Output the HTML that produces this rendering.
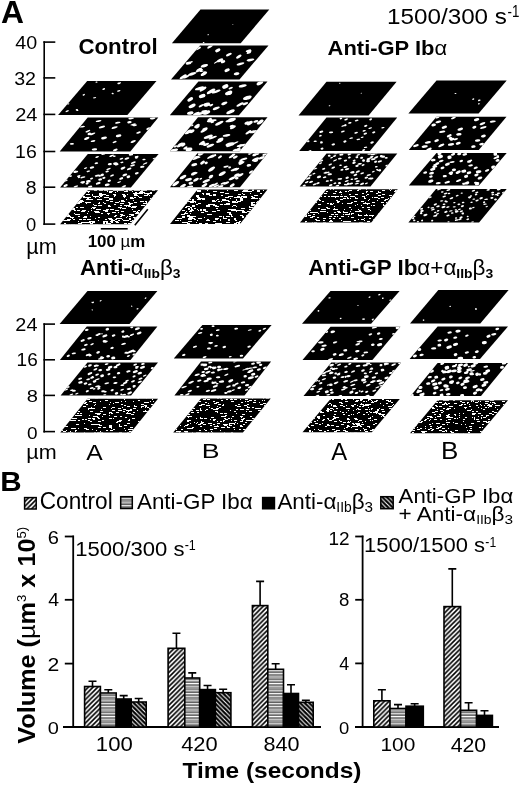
<!DOCTYPE html>
<html><head><meta charset="utf-8"><style>
html,body{margin:0;padding:0;background:#fff;}
svg{display:block;font-family:"Liberation Sans", sans-serif;filter:grayscale(1);}
</style></head><body>
<svg width="520" height="785" viewBox="0 0 520 785">
<defs><filter id="sb" x="-5%" y="-5%" width="110%" height="110%"><feGaussianBlur stdDeviation="0.35"/></filter><clipPath id="c1"><polygon points="60.1,224.3 87.8,190.3 158,190.3 130.3,224.3"/></clipPath><clipPath id="c2"><polygon points="60.1,187.6 87.8,154 158.6,154 130.9,187.6"/></clipPath><clipPath id="c3"><polygon points="59.7,151.4 87.7,117.6 158.3,117.6 130.3,151.4"/></clipPath><clipPath id="c4"><polygon points="58.1,114.9 87.2,81.1 156.5,81.1 127.4,114.9"/></clipPath><clipPath id="c5"><polygon points="170,224.1 197.5,189.6 267.5,189.6 240,224.1"/></clipPath><clipPath id="c6"><polygon points="170,187.3 197.5,153.2 267.5,153.2 240,187.3"/></clipPath><clipPath id="c7"><polygon points="170,151.3 198,117.2 267.5,117.2 239.5,151.3"/></clipPath><clipPath id="c8"><polygon points="169.8,115.3 198.4,81.6 267.5,81.6 238.9,115.3"/></clipPath><clipPath id="c9"><polygon points="171,79.4 200,45.5 268.5,45.5 239.5,79.4"/></clipPath><clipPath id="c10"><polygon points="171.9,43.3 200.5,9.5 269.3,9.5 240.7,43.3"/></clipPath><clipPath id="c11"><polygon points="300,222.6 326.5,189.2 397.8,189.2 371.3,222.6"/></clipPath><clipPath id="c12"><polygon points="299.7,186.4 326.5,153.6 397.3,153.6 370.5,186.4"/></clipPath><clipPath id="c13"><polygon points="299.2,150.9 326.5,117.6 397.2,117.6 369.9,150.9"/></clipPath><clipPath id="c14"><polygon points="298.5,115.4 326.5,81.7 396.6,81.7 368.6,115.4"/></clipPath><clipPath id="c15"><polygon points="408.4,222.5 436,189 506.7,189 479.1,222.5"/></clipPath><clipPath id="c16"><polygon points="408.8,185.6 436.5,153.1 506.7,153.1 479,185.6"/></clipPath><clipPath id="c17"><polygon points="408.8,150 436.5,116.8 506.5,116.8 478.8,150"/></clipPath><clipPath id="c18"><polygon points="408.4,113.6 436.5,80.5 506.7,80.5 478.6,113.6"/></clipPath><clipPath id="c19"><polygon points="60.3,432.4 87.5,398.7 158,398.7 130.8,432.4"/></clipPath><clipPath id="c20"><polygon points="60.6,395.5 87.5,362.6 158,362.6 131.1,395.5"/></clipPath><clipPath id="c21"><polygon points="59.9,359.9 86.8,326.6 157.4,326.6 130.5,359.9"/></clipPath><clipPath id="c22"><polygon points="59.6,324 87.5,290.9 157.4,290.9 129.5,324"/></clipPath><clipPath id="c23"><polygon points="173.2,432.6 201,398.4 270.7,398.4 242.9,432.6"/></clipPath><clipPath id="c24"><polygon points="174.4,395.5 201,361.5 271.1,361.5 244.5,395.5"/></clipPath><clipPath id="c25"><polygon points="173.8,358.4 202.4,324.9 271.6,324.9 243,358.4"/></clipPath><clipPath id="c26"><polygon points="302.5,432.3 330.5,398.9 399.8,398.9 371.8,432.3"/></clipPath><clipPath id="c27"><polygon points="303.5,396 331.3,362.4 401.2,362.4 373.4,396"/></clipPath><clipPath id="c28"><polygon points="302.5,360 330.5,326.8 400.4,326.8 372.4,360"/></clipPath><clipPath id="c29"><polygon points="302,323.7 330.5,290.9 399.6,290.9 371.1,323.7"/></clipPath><clipPath id="c30"><polygon points="410,433.2 437.6,400.2 508,400.2 480.4,433.2"/></clipPath><clipPath id="c31"><polygon points="410.6,396 437.6,362.9 508,362.9 481,396"/></clipPath><clipPath id="c32"><polygon points="409.6,359 437.6,326.4 508,326.4 480,359"/></clipPath><clipPath id="c33"><polygon points="410,323.4 438.3,289.9 508.6,289.9 480.3,323.4"/></clipPath><pattern id="pf" patternUnits="userSpaceOnUse" width="4.7" height="4.7"><rect width="4.7" height="4.7" fill="#fff"/><path d="M-1 1L1 -1M0 4.7L4.7 0M3.7 5.7L5.7 3.7" stroke="#000" stroke-width="1.6"/></pattern><pattern id="ph" patternUnits="userSpaceOnUse" width="4" height="3.3"><rect width="4" height="3.3" fill="#222"/><rect y="0" width="4" height="1.2" fill="#fff"/><rect y="1.75" width="4" height="1.1" fill="#aaa"/></pattern><pattern id="pb" patternUnits="userSpaceOnUse" width="4.5" height="4.5"><rect width="4.5" height="4.5" fill="#000"/><path d="M-1 -1L5.5 5.5M3.5 -1L5.5 1M-1 3.5L1 5.5" stroke="#fff" stroke-width="1.1"/></pattern></defs>
<rect width="520" height="785" fill="#fff"/>
<path d="M44.2 41.300000000000004V224.9" stroke="#000" stroke-width="1.6" fill="none"/>
<path d="M43.4 42.1L55.3 42.1" stroke="#000" stroke-width="1.6" fill="none"/>
<path d="M43.4 77.9L55.3 77.9" stroke="#000" stroke-width="1.6" fill="none"/>
<path d="M43.4 114.4L55.3 114.4" stroke="#000" stroke-width="1.6" fill="none"/>
<path d="M43.4 151.5L55.3 151.5" stroke="#000" stroke-width="1.6" fill="none"/>
<path d="M43.4 187.2L55.3 187.2" stroke="#000" stroke-width="1.6" fill="none"/>
<path d="M43.4 224.1L55.3 224.1" stroke="#000" stroke-width="1.6" fill="none"/>
<path d="M44.2 323.3V432.40000000000003" stroke="#000" stroke-width="1.6" fill="none"/>
<path d="M43.4 324.1L55 324.1" stroke="#000" stroke-width="1.6" fill="none"/>
<path d="M43.4 359.8L55 359.8" stroke="#000" stroke-width="1.6" fill="none"/>
<path d="M43.4 395.4L55 395.4" stroke="#000" stroke-width="1.6" fill="none"/>
<path d="M43.4 431.6L55 431.6" stroke="#000" stroke-width="1.6" fill="none"/>
<path d="M134.8 225.3L147.8 209.3" stroke="#000" stroke-width="1.6" fill="none"/>
<path d="M100.8 228.8L127.7 228.8" stroke="#000" stroke-width="1.6" fill="none"/>
<polygon points="60.1,224.3 87.8,190.3 158,190.3 130.3,224.3" fill="#000"/>
<g clip-path="url(#c1)"><path filter="url(#sb)" fill="#fff" shape-rendering="crispEdges" d="M126 206h1v1h-1zM120 205h2v1h-2zM101 213h2v1h-2zM65 224h2v1h-2zM104 203h2v1h-2zM133 200h1v1h-1zM72 218h1v1h-1zM131 203h2v1h-2zM93 208h2v1h-2zM145 201h2v1h-2zM71 209h4v1h-4zM97 199h3v1h-3zM129 190h3v1h-3zM96 209h3v1h-3zM82 210h4v1h-4zM101 193h1v1h-1zM66 215h4v1h-4zM108 214h1v1h-1zM135 192h2v1h-2zM141 205h4v1h-4zM85 222h3v1h-3zM123 196h3v1h-3zM115 192h1v1h-1zM105 211h3v1h-3zM88 211h1v1h-1zM91 210h1v1h-1zM143 209h2v1h-2zM153 195h4v1h-4zM127 205h3v1h-3zM109 219h2v1h-2zM142 192h3v1h-3zM150 198h2v1h-2zM93 196h3v1h-3zM144 193h3v1h-3zM129 219h2v1h-2zM110 221h3v1h-3zM92 207h4v1h-4zM107 197h2v1h-2zM81 211h4v1h-4zM116 222h3v1h-3zM118 212h1v1h-1zM107 213h3v1h-3zM128 206h3v1h-3zM119 201h1v1h-1zM113 225h3v1h-3zM83 219h3v1h-3zM118 207h4v1h-4zM140 201h4v1h-4zM106 211h2v1h-2zM135 213h4v1h-4zM134 195h4v1h-4zM107 223h4v1h-4zM113 225h3v1h-3zM87 202h4v1h-4zM129 204h2v1h-2zM132 220h2v1h-2zM87 198h2v1h-2zM115 202h4v1h-4zM95 212h1v1h-1zM125 205h3v1h-3zM97 212h3v1h-3zM130 197h3v1h-3zM101 225h1v1h-1zM95 224h3v1h-3zM109 198h3v1h-3zM89 199h4v1h-4zM146 202h1v1h-1zM113 190h3v1h-3zM115 210h4v1h-4zM135 217h4v1h-4zM132 220h4v1h-4zM121 200h3v1h-3zM78 221h1v1h-1zM106 209h3v1h-3zM62 220h4v1h-4zM73 208h2v1h-2zM120 190h3v1h-3zM118 220h2v1h-2zM133 207h3v1h-3zM104 221h4v1h-4zM140 191h3v1h-3zM109 224h3v1h-3zM87 219h2v1h-2zM104 190h4v1h-4zM71 224h4v1h-4zM123 220h4v1h-4zM115 215h2v1h-2zM122 219h1v1h-1zM136 190h4v1h-4zM127 220h2v1h-2zM111 220h4v1h-4zM69 224h1v1h-1zM93 204h1v1h-1zM109 191h4v1h-4zM116 215h1v1h-1zM95 197h1v1h-1zM122 208h4v1h-4zM121 201h4v1h-4zM127 194h1v1h-1zM120 214h3v1h-3zM134 197h2v1h-2zM70 217h4v1h-4zM136 212h3v1h-3zM130 198h2v1h-2zM97 225h2v1h-2zM122 194h3v1h-3zM130 223h2v1h-2zM115 219h2v1h-2zM132 191h1v1h-1zM144 195h4v1h-4zM130 214h4v1h-4zM138 196h1v1h-1zM145 193h4v1h-4zM85 197h4v1h-4zM130 198h4v1h-4zM94 205h3v1h-3zM75 214h3v1h-3zM133 217h3v1h-3zM129 203h4v1h-4zM83 196h2v1h-2zM78 202h4v1h-4zM116 190h3v1h-3zM103 210h1v1h-1zM126 199h1v1h-1zM129 214h4v1h-4zM75 225h3v1h-3zM120 208h1v1h-1zM109 192h3v1h-3zM133 193h4v1h-4zM86 199h3v1h-3zM111 219h2v1h-2zM128 202h2v1h-2zM131 215h3v1h-3zM110 201h3v1h-3zM73 219h2v1h-2zM143 203h4v1h-4zM119 190h4v1h-4zM80 200h3v1h-3zM99 194h4v1h-4zM65 220h2v1h-2zM89 221h1v1h-1zM133 206h4v1h-4zM147 193h2v1h-2zM106 222h2v1h-2zM149 195h1v1h-1zM129 224h2v1h-2zM120 203h4v1h-4zM91 221h4v1h-4zM152 190h3v1h-3zM114 204h2v1h-2zM67 220h3v1h-3zM78 210h1v1h-1zM124 205h4v1h-4zM76 207h2v1h-2zM134 202h3v1h-3zM113 194h3v1h-3zM57 225h3v1h-3zM117 191h1v1h-1zM83 217h4v1h-4zM74 210h2v1h-2zM108 206h3v1h-3zM88 192h1v1h-1zM83 197h2v1h-2zM126 217h1v1h-1zM90 223h3v1h-3zM94 211h2v1h-2zM100 196h2v1h-2zM118 218h4v1h-4zM104 197h4v1h-4zM105 219h2v1h-2zM139 193h2v1h-2zM103 221h1v1h-1zM114 216h2v1h-2zM150 192h2v1h-2zM96 212h2v1h-2zM131 207h3v1h-3zM100 205h2v1h-2zM89 221h2v1h-2zM109 205h1v1h-1zM106 200h3v1h-3zM104 210h4v1h-4zM103 202h1v1h-1zM103 222h2v1h-2zM107 191h1v1h-1zM87 222h4v1h-4zM134 218h1v1h-1zM90 216h1v1h-1zM91 208h1v1h-1zM112 212h4v1h-4zM105 190h2v1h-2zM139 192h3v1h-3zM72 225h1v1h-1zM98 205h4v1h-4zM134 190h4v1h-4zM124 223h3v1h-3zM77 210h3v1h-3zM96 196h3v1h-3zM147 194h2v1h-2zM120 216h2v1h-2zM111 224h4v1h-4zM98 217h2v1h-2zM84 216h3v1h-3zM66 216h1v1h-1zM101 225h2v1h-2zM99 202h1v1h-1zM86 194h4v1h-4zM128 223h3v1h-3zM109 219h2v1h-2zM80 196h2v1h-2zM106 195h3v1h-3zM116 218h2v1h-2zM74 213h1v1h-1zM98 203h2v1h-2zM99 195h4v1h-4zM94 190h3v1h-3zM121 190h3v1h-3zM115 221h3v1h-3zM139 197h3v1h-3zM96 211h3v1h-3zM123 195h3v1h-3zM137 211h1v1h-1zM99 193h2v1h-2zM92 194h1v1h-1zM135 217h4v1h-4zM114 195h2v1h-2zM145 190h2v1h-2zM86 191h4v1h-4zM64 223h2v1h-2zM63 218h1v1h-1zM98 220h1v1h-1zM121 215h4v1h-4zM76 203h4v1h-4zM67 214h2v1h-2zM100 199h2v1h-2zM155 194h2v1h-2zM78 216h2v1h-2zM87 213h1v1h-1zM67 219h4v1h-4zM129 216h2v1h-2zM130 221h4v1h-4zM79 219h3v1h-3zM99 190h4v1h-4zM81 207h3v1h-3zM86 203h1v1h-1zM87 197h4v1h-4zM97 209h4v1h-4zM143 205h2v1h-2zM124 191h4v1h-4zM108 205h1v1h-1zM141 190h4v1h-4zM111 222h2v1h-2zM141 193h2v1h-2zM130 214h1v1h-1zM95 218h1v1h-1zM78 223h4v1h-4zM132 209h1v1h-1zM136 193h4v1h-4zM81 222h3v1h-3zM112 198h1v1h-1zM126 190h2v1h-2zM88 192h1v1h-1zM133 211h3v1h-3zM132 206h4v1h-4zM99 197h1v1h-1zM78 214h2v1h-2zM129 218h2v1h-2zM149 193h3v1h-3zM118 190h4v1h-4zM127 191h1v1h-1zM103 223h2v1h-2zM134 194h1v1h-1zM134 194h3v1h-3zM80 207h3v1h-3zM83 219h1v1h-1zM106 223h4v1h-4zM77 214h2v1h-2zM138 210h2v1h-2zM92 195h1v1h-1zM108 218h4v1h-4zM85 202h4v1h-4zM92 222h3v1h-3zM109 199h4v1h-4zM74 225h2v1h-2zM114 225h3v1h-3zM95 196h4v1h-4zM78 223h1v1h-1zM104 197h1v1h-1zM80 201h4v1h-4zM121 211h3v1h-3zM127 216h1v1h-1zM103 194h3v1h-3zM68 216h3v1h-3zM79 201h1v1h-1zM114 196h1v1h-1zM66 216h3v1h-3zM83 222h3v1h-3zM89 219h2v1h-2zM124 197h1v1h-1zM85 224h1v1h-1zM110 209h4v1h-4z"/></g>
<polygon points="60.1,187.6 87.8,154 158.6,154 130.9,187.6" fill="#000"/>
<path clip-path="url(#c2)" fill="#fff" d="M86.5 171.8A1.9 0.7 -15.9 1 0 90.2 170.8A1.9 0.7 -15.9 1 0 86.5 171.8zM140.1 167.3A2.2 1 -11.3 1 0 144.4 166.4A2.2 1 -11.3 1 0 140.1 167.3zM104.9 185.2A2.4 1.1 -9.1 1 0 109.6 184.5A2.4 1.1 -9.1 1 0 104.9 185.2zM86.3 181.5A2.2 1 -7.3 1 0 90.5 181A2.2 1 -7.3 1 0 86.3 181.5zM119.5 159.3A1.9 0.8 -18.5 1 0 123.2 158.1A1.9 0.8 -18.5 1 0 119.5 159.3zM63.5 186.3A2.2 1 -21.2 1 0 67.6 184.8A2.2 1 -21.2 1 0 63.5 186.3zM106.4 169.8A2.3 0.8 -23.1 1 0 110.7 168A2.3 0.8 -23.1 1 0 106.4 169.8zM135.1 173.9A1.9 0.8 -19.2 1 0 138.6 172.7A1.9 0.8 -19.2 1 0 135.1 173.9zM113.2 163.9A2.2 1.1 -10.1 1 0 117.5 163.2A2.2 1.1 -10.1 1 0 113.2 163.9zM114.9 164.9A1.8 0.9 -15.2 1 0 118.5 163.9A1.8 0.9 -15.2 1 0 114.9 164.9zM131 163.4A2.5 1 -17.6 1 0 135.8 161.9A2.5 1 -17.6 1 0 131 163.4zM98.4 179.7A1.8 0.9 -7.3 1 0 101.9 179.3A1.8 0.9 -7.3 1 0 98.4 179.7zM124.5 159.2A2.5 0.9 -17.1 1 0 129.3 157.8A2.5 0.9 -17.1 1 0 124.5 159.2zM80.5 178A2.5 0.7 -15.4 1 0 85.3 176.7A2.5 0.7 -15.4 1 0 80.5 178zM135.1 158A1.6 0.9 -20.6 1 0 138 156.9A1.6 0.9 -20.6 1 0 135.1 158zM134.9 157.2A1.2 0.8 -7.9 1 0 137.2 156.9A1.2 0.8 -7.9 1 0 134.9 157.2zM135 156.9A1.8 0.5 -12.2 1 0 138.4 156.2A1.8 0.5 -12.2 1 0 135 156.9zM152.7 159A2.1 0.7 -14.7 1 0 156.8 157.9A2.1 0.7 -14.7 1 0 152.7 159zM95.4 157.7A1.9 0.8 -19.4 1 0 99 156.4A1.9 0.8 -19.4 1 0 95.4 157.7zM100.8 175.4A1.6 1 -20.1 1 0 103.7 174.3A1.6 1 -20.1 1 0 100.8 175.4zM142.4 159.7A1.6 0.8 -6.4 1 0 145.6 159.3A1.6 0.8 -6.4 1 0 142.4 159.7zM120.3 162.6A1.6 0.8 -6.1 1 0 123.5 162.3A1.6 0.8 -6.1 1 0 120.3 162.6zM109.4 156.7A2.4 0.8 -22.9 1 0 113.8 154.8A2.4 0.8 -22.9 1 0 109.4 156.7zM113.1 156.3A1.3 0.6 -6.4 1 0 115.6 156.1A1.3 0.6 -6.4 1 0 113.1 156.3zM130.3 166A2.4 0.8 -15.8 1 0 134.9 164.7A2.4 0.8 -15.8 1 0 130.3 166zM110.1 176.3A2 0.9 -23.1 1 0 113.9 174.7A2 0.9 -23.1 1 0 110.1 176.3zM96 184.2A2.4 0.9 -21.1 1 0 100.4 182.5A2.4 0.9 -21.1 1 0 96 184.2zM142.9 164.5A2.4 0.7 -23.7 1 0 147.3 162.5A2.4 0.7 -23.7 1 0 142.9 164.5zM85.7 183.9A1.5 1 -16.6 1 0 88.6 183A1.5 1 -16.6 1 0 85.7 183.9zM84.1 168.7A1.6 0.7 -22.1 1 0 87.1 167.5A1.6 0.7 -22.1 1 0 84.1 168.7zM88.1 187.2A2.1 0.9 -11 1 0 92.1 186.4A2.1 0.9 -11 1 0 88.1 187.2zM77 176.5A1.8 0.8 -16.4 1 0 80.5 175.5A1.8 0.8 -16.4 1 0 77 176.5zM77.9 177.4A1.1 0.8 -13.7 1 0 79.9 176.8A1.1 0.8 -13.7 1 0 77.9 177.4zM119.4 179.3A2 0.9 -24.2 1 0 123 177.7A2 0.9 -24.2 1 0 119.4 179.3zM120.7 169.1A2.5 1 -23.2 1 0 125.3 167.2A2.5 1 -23.2 1 0 120.7 169.1zM126.7 177.3A1.8 1.1 -18.2 1 0 130.1 176.2A1.8 1.1 -18.2 1 0 126.7 177.3zM90 179A1.6 0.9 -16 1 0 93.1 178.1A1.6 0.9 -16 1 0 90 179zM102.3 178.3A1.6 1 -14.2 1 0 105.4 177.5A1.6 1 -14.2 1 0 102.3 178.3zM107.7 181.5A1.7 1.1 -24.8 1 0 110.8 180A1.7 1.1 -24.8 1 0 107.7 181.5zM64.3 181.2A1.8 0.8 -21.9 1 0 67.7 179.9A1.8 0.8 -21.9 1 0 64.3 181.2zM117.3 182.7A2 0.7 -17.4 1 0 121.2 181.5A2 0.7 -17.4 1 0 117.3 182.7zM73.9 172.5A2.2 0.8 -15 1 0 78.1 171.4A2.2 0.8 -15 1 0 73.9 172.5zM73.1 172A1.8 0.8 -12.8 1 0 76.6 171.2A1.8 0.8 -12.8 1 0 73.1 172zM73.7 187.3A1.5 0.9 -19.5 1 0 76.6 186.2A1.5 0.9 -19.5 1 0 73.7 187.3zM75.7 186.5A1.2 0.7 -15.9 1 0 78 185.8A1.2 0.7 -15.9 1 0 75.7 186.5zM95 176.1A2.3 0.7 -11.1 1 0 99.4 175.2A2.3 0.7 -11.1 1 0 95 176.1zM98.4 176A1.2 1 -6.6 1 0 100.8 175.7A1.2 1 -6.6 1 0 98.4 176zM94.6 163.5A1.8 0.9 -9.5 1 0 98.2 162.9A1.8 0.9 -9.5 1 0 94.6 163.5zM68.4 176.3A1.9 0.8 -5.7 1 0 72.2 175.9A1.9 0.8 -5.7 1 0 68.4 176.3zM127 169.7A2.3 0.9 -20.4 1 0 131.3 168.1A2.3 0.9 -20.4 1 0 127 169.7zM80.8 182.8A2.2 1.1 -13.9 1 0 85.1 181.7A2.2 1.1 -13.9 1 0 80.8 182.8zM80.5 182.6A1.2 0.6 -22.6 1 0 82.6 181.7A1.2 0.6 -22.6 1 0 80.5 182.6zM81.9 183.2A1 0.8 -10.1 1 0 83.9 182.8A1 0.8 -10.1 1 0 81.9 183.2zM105.4 172.1A1.8 0.9 -18.7 1 0 108.8 170.9A1.8 0.9 -18.7 1 0 105.4 172.1zM122.6 175.7A2.4 1 -19.1 1 0 127.1 174.2A2.4 1 -19.1 1 0 122.6 175.7zM128.9 154.9A2.1 0.8 -6.8 1 0 133 154.4A2.1 0.8 -6.8 1 0 128.9 154.9zM130.6 154.2A1.2 0.6 -8.2 1 0 133 153.9A1.2 0.6 -8.2 1 0 130.6 154.2zM121.4 187.6A1.6 0.9 -10.9 1 0 124.6 186.9A1.6 0.9 -10.9 1 0 121.4 187.6zM122.4 187A1.9 0.8 -21.3 1 0 125.9 185.6A1.9 0.8 -21.3 1 0 122.4 187zM101.3 154.5A2 0.7 -10.2 1 0 105.3 153.7A2 0.7 -10.2 1 0 101.3 154.5zM107.9 164.4A2 0.9 -8.2 1 0 111.8 163.8A2 0.9 -8.2 1 0 107.9 164.4zM90 168A2.1 0.9 -11.9 1 0 94 167.1A2.1 0.9 -11.9 1 0 90 168z"/>
<polygon points="59.7,151.4 87.7,117.6 158.3,117.6 130.3,151.4" fill="#000"/>
<path clip-path="url(#c3)" fill="#fff" d="M99 127.8A3.1 0.9 -15.3 1 0 104.9 126.2A3.1 0.9 -15.3 1 0 99 127.8zM101.2 138.4A2.9 1.2 -8.9 1 0 106.9 137.5A2.9 1.2 -8.9 1 0 101.2 138.4zM127.4 122.4A2.1 1 -6.7 1 0 131.5 121.9A2.1 1 -6.7 1 0 127.4 122.4zM95.7 121.5A2.9 0.9 -9.6 1 0 101.5 120.6A2.9 0.9 -9.6 1 0 95.7 121.5zM149.9 118.7A2.8 1.1 -7.7 1 0 155.5 117.9A2.8 1.1 -7.7 1 0 149.9 118.7zM111.6 128.4A3.2 1 -15.1 1 0 117.8 126.7A3.2 1 -15.1 1 0 111.6 128.4zM79.6 127A2.7 0.8 -5.8 1 0 85 126.4A2.7 0.8 -5.8 1 0 79.6 127zM85.4 132.1A2.6 0.8 -21.2 1 0 90.3 130.2A2.6 0.8 -21.2 1 0 85.4 132.1zM90.7 141.4A2.3 0.9 -8.8 1 0 95.4 140.7A2.3 0.9 -8.8 1 0 90.7 141.4zM128.4 118.7A2.8 1 -7.1 1 0 134 118A2.8 1 -7.1 1 0 128.4 118.7zM136.2 133.3A2.4 0.9 -17.7 1 0 140.8 131.8A2.4 0.9 -17.7 1 0 136.2 133.3zM89.6 134.8A3 0.9 -19.3 1 0 95.3 132.8A3 0.9 -19.3 1 0 89.6 134.8zM87.6 134.6A1.8 1.2 -19.9 1 0 91.1 133.3A1.8 1.2 -19.9 1 0 87.6 134.6zM115 123.2A2.8 0.8 -11.7 1 0 120.5 122.1A2.8 0.8 -11.7 1 0 115 123.2zM112.6 142.8A2.1 0.9 -22.1 1 0 116.6 141.2A2.1 0.9 -22.1 1 0 112.6 142.8zM113.2 150.8A2.3 0.9 -21.3 1 0 117.4 149.1A2.3 0.9 -21.3 1 0 113.2 150.8zM130.6 142.6A2.8 1 -22.7 1 0 135.8 140.4A2.8 1 -22.7 1 0 130.6 142.6zM84.3 139.4A2.7 1 -23.2 1 0 89.2 137.3A2.7 1 -23.2 1 0 84.3 139.4zM132.2 125.5A2.4 1 -6.8 1 0 137 125A2.4 1 -6.8 1 0 132.2 125.5zM130.4 125.1A2.8 0.7 -16.5 1 0 135.8 123.5A2.8 0.7 -16.5 1 0 130.4 125.1zM91.9 149.6A2.6 0.9 -6 1 0 97 149.1A2.6 0.9 -6 1 0 91.9 149.6zM146.4 129.4A2.4 1.1 -20.1 1 0 150.9 127.7A2.4 1.1 -20.1 1 0 146.4 129.4zM69.8 144.1A2.1 0.9 -5.1 1 0 74 143.7A2.1 0.9 -5.1 1 0 69.8 144.1zM116 136.4A2.7 1.1 -11.6 1 0 121.2 135.3A2.7 1.1 -11.6 1 0 116 136.4z"/>
<polygon points="58.1,114.9 87.2,81.1 156.5,81.1 127.4,114.9" fill="#000"/>
<path clip-path="url(#c4)" fill="#fff" d="M111.6 93.6A1 0.8 -6.3 1 0 113.7 93.4A1 0.8 -6.3 1 0 111.6 93.6zM95.5 82.2A1 0.6 -8.3 1 0 97.6 81.9A1 0.6 -8.3 1 0 95.5 82.2zM82.7 95.3A1.2 0.6 -23.7 1 0 84.8 94.3A1.2 0.6 -23.7 1 0 82.7 95.3zM67.1 104A1.1 0.6 -7.1 1 0 69.4 103.8A1.1 0.6 -7.1 1 0 67.1 104zM102.5 89.5A1.4 0.7 -22.3 1 0 105 88.5A1.4 0.7 -22.3 1 0 102.5 89.5zM93 98A1.6 0.6 -7.3 1 0 96.2 97.5A1.6 0.6 -7.3 1 0 93 98zM75.7 110.1A1.2 0.8 -8.3 1 0 78.1 109.7A1.2 0.8 -8.3 1 0 75.7 110.1zM76.7 110.7A0.9 0.5 -11.4 1 0 78.5 110.4A0.9 0.5 -11.4 1 0 76.7 110.7zM117.4 83.6A1.3 0.7 -8 1 0 119.9 83.2A1.3 0.7 -8 1 0 117.4 83.6zM119.2 83.3A1 0.5 -21.4 1 0 121 82.6A1 0.5 -21.4 1 0 119.2 83.3zM65.7 111.9A1.7 0.6 -24.1 1 0 68.7 110.5A1.7 0.6 -24.1 1 0 65.7 111.9zM117.2 91.4A1.7 0.6 -14.5 1 0 120.4 90.5A1.7 0.6 -14.5 1 0 117.2 91.4z"/>
<polygon points="170,224.1 197.5,189.6 267.5,189.6 240,224.1" fill="#000"/>
<g clip-path="url(#c5)"><path filter="url(#sb)" fill="#fff" shape-rendering="crispEdges" d="M220 219h1v2h-1zM212 201h4v1h-4zM169 225h3v1h-3zM189 211h3v1h-3zM216 208h2v1h-2zM249 191h3v1h-3zM238 194h3v1h-3zM213 194h3v2h-3zM222 199h4v2h-4zM249 206h1v1h-1zM221 195h2v1h-2zM190 225h3v1h-3zM257 190h3v2h-3zM241 196h2v1h-2zM200 209h2v2h-2zM197 199h4v1h-4zM229 214h3v1h-3zM203 209h3v2h-3zM215 219h2v1h-2zM250 193h1v1h-1zM246 215h1v1h-1zM225 197h4v1h-4zM215 219h3v1h-3zM251 196h2v1h-2zM180 220h1v1h-1zM190 207h2v1h-2zM184 213h4v1h-4zM251 202h4v1h-4zM236 206h1v1h-1zM226 203h4v2h-4zM188 208h2v2h-2zM243 212h4v1h-4zM234 197h4v1h-4zM238 197h4v1h-4zM187 215h3v2h-3zM207 219h2v1h-2zM212 211h4v1h-4zM263 190h1v1h-1zM200 223h2v1h-2zM228 209h4v1h-4zM198 210h1v1h-1zM242 193h1v1h-1zM206 193h4v2h-4zM205 211h3v1h-3zM192 201h3v1h-3zM247 191h4v1h-4zM249 209h2v1h-2zM218 201h2v1h-2zM244 189h3v2h-3zM206 220h4v1h-4zM192 209h1v1h-1zM235 190h1v1h-1zM234 219h1v1h-1zM234 218h2v2h-2zM186 211h1v1h-1zM194 219h2v1h-2zM200 225h2v1h-2zM257 201h2v1h-2zM243 196h4v2h-4zM244 190h3v2h-3zM186 202h1v2h-1zM198 198h3v1h-3zM217 210h3v1h-3zM212 201h3v1h-3zM226 216h4v1h-4zM182 210h3v1h-3zM259 198h4v1h-4zM228 196h3v1h-3zM186 206h4v1h-4zM228 219h2v2h-2zM226 200h3v1h-3zM237 201h4v1h-4zM213 191h4v1h-4zM185 212h1v2h-1zM236 225h1v1h-1zM223 218h4v1h-4zM241 208h4v1h-4zM246 216h1v1h-1zM201 212h3v1h-3zM193 201h3v1h-3zM193 205h1v1h-1zM203 194h1v1h-1zM215 224h3v1h-3zM182 216h3v2h-3zM204 217h1v1h-1zM256 202h3v1h-3zM188 221h4v1h-4zM198 218h4v1h-4zM232 206h1v1h-1zM236 199h1v2h-1zM230 196h3v1h-3zM234 190h4v1h-4zM227 190h1v1h-1zM190 210h4v1h-4zM191 208h1v2h-1zM242 211h3v1h-3zM232 224h3v1h-3zM196 204h2v1h-2zM213 205h4v1h-4zM216 200h1v1h-1zM240 200h3v1h-3zM252 189h2v2h-2zM205 189h4v1h-4zM254 198h4v1h-4zM192 199h2v2h-2zM232 201h3v2h-3zM177 218h2v1h-2zM260 193h2v1h-2zM196 195h3v2h-3zM188 218h4v2h-4zM175 220h4v1h-4zM197 209h1v1h-1zM243 190h3v1h-3zM225 193h4v1h-4zM178 218h4v1h-4zM236 210h4v1h-4zM212 200h3v1h-3zM221 201h1v1h-1zM199 223h3v1h-3zM187 223h3v1h-3zM227 212h3v1h-3zM220 192h4v1h-4zM188 199h3v1h-3zM252 197h3v2h-3zM208 204h4v1h-4zM224 204h4v1h-4zM184 222h4v1h-4zM240 198h3v2h-3zM242 191h3v1h-3zM251 198h4v1h-4zM245 190h3v1h-3zM196 222h1v1h-1zM250 207h4v1h-4zM207 190h1v1h-1zM197 190h4v2h-4zM215 223h3v2h-3zM240 215h3v1h-3zM202 199h3v1h-3zM195 202h1v1h-1zM192 205h3v2h-3zM185 207h2v1h-2zM249 207h3v1h-3zM181 225h4v1h-4zM251 204h4v2h-4zM239 221h2v1h-2zM251 203h2v1h-2zM205 223h3v2h-3zM182 222h2v1h-2zM229 220h1v1h-1zM217 206h1v1h-1zM243 194h2v1h-2zM235 220h2v1h-2zM198 203h3v1h-3zM209 214h3v1h-3zM237 196h3v2h-3zM217 199h2v1h-2zM191 218h4v1h-4zM202 193h2v1h-2zM189 216h4v2h-4zM201 198h4v1h-4zM246 189h3v1h-3zM199 224h1v1h-1zM234 223h3v1h-3zM231 210h1v1h-1zM238 223h4v1h-4zM190 202h4v1h-4zM220 204h3v1h-3zM196 190h1v1h-1zM213 205h1v1h-1zM219 216h3v1h-3zM215 223h1v1h-1zM229 212h2v2h-2zM247 211h3v1h-3zM229 196h3v1h-3zM242 216h2v2h-2zM206 205h4v2h-4zM233 205h3v1h-3zM213 221h3v1h-3zM190 213h1v1h-1zM243 212h4v1h-4zM215 218h4v1h-4zM218 223h4v1h-4zM242 211h2v2h-2zM197 220h1v1h-1zM215 206h4v1h-4zM194 208h2v1h-2zM231 216h2v1h-2zM232 209h4v2h-4zM235 202h3v1h-3zM209 224h4v2h-4zM240 210h4v1h-4zM232 201h4v1h-4zM227 212h3v1h-3zM254 195h4v1h-4zM236 222h4v1h-4zM226 222h4v1h-4zM236 211h1v1h-1zM188 201h4v1h-4zM207 214h3v1h-3zM228 201h2v1h-2zM211 204h4v1h-4zM200 218h2v1h-2zM223 216h1v2h-1zM181 214h4v1h-4zM193 216h3v1h-3zM209 225h4v1h-4zM197 197h3v1h-3zM230 198h1v1h-1zM231 215h1v1h-1zM209 195h3v1h-3z"/></g>
<polygon points="170,187.3 197.5,153.2 267.5,153.2 240,187.3" fill="#000"/>
<path clip-path="url(#c6)" fill="#fff" d="M229.9 186.7A2.7 1.2 -31.4 1 0 234.5 183.9A2.7 1.2 -31.4 1 0 229.9 186.7zM238.5 162.9A2.5 1.3 -20.8 1 0 243.2 161.2A2.5 1.3 -20.8 1 0 238.5 162.9zM238.7 164.2A1.7 1.2 -34.1 1 0 241.5 162.3A1.7 1.2 -34.1 1 0 238.7 164.2zM239 164.6A3.1 1 -29.4 1 0 244.5 161.5A3.1 1 -29.4 1 0 239 164.6zM230.8 170.9A3.8 1 -21.3 1 0 237.8 168.2A3.8 1 -21.3 1 0 230.8 170.9zM234.9 170.6A2.5 0.8 -31.3 1 0 239.2 168A2.5 0.8 -31.3 1 0 234.9 170.6zM249.2 173.3A2.3 1 -34.3 1 0 253 170.8A2.3 1 -34.3 1 0 249.2 173.3zM193.2 181.2A3.1 1.3 -27.8 1 0 198.7 178.3A3.1 1.3 -27.8 1 0 193.2 181.2zM199.4 179.3A1.4 0.7 -21.6 1 0 202.1 178.2A1.4 0.7 -21.6 1 0 199.4 179.3zM208.8 178A2.1 1.3 -27.1 1 0 212.6 176.1A2.1 1.3 -27.1 1 0 208.8 178zM209.6 176.8A1.9 0.9 -21 1 0 213 175.4A1.9 0.9 -21 1 0 209.6 176.8zM192.1 159.4A3.9 1.2 -23.2 1 0 199.2 156.4A3.9 1.2 -23.2 1 0 192.1 159.4zM193.2 158.2A2 1.2 -16.9 1 0 197.1 157A2 1.2 -16.9 1 0 193.2 158.2zM197.8 157.7A1.4 0.8 -16.6 1 0 200.5 156.9A1.4 0.8 -16.6 1 0 197.8 157.7zM202.3 186.7A2.9 1.3 -32.3 1 0 207.2 183.5A2.9 1.3 -32.3 1 0 202.3 186.7zM201.7 186.4A2 0.9 -16 1 0 205.5 185.3A2 0.9 -16 1 0 201.7 186.4zM200.4 164.1A2.6 1.3 -34.3 1 0 204.7 161.2A2.6 1.3 -34.3 1 0 200.4 164.1zM204.8 163.7A1.6 1.2 -29.4 1 0 207.6 162.1A1.6 1.2 -29.4 1 0 204.8 163.7zM252 160.8A3.8 1.4 -21.9 1 0 259.2 157.9A3.8 1.4 -21.9 1 0 252 160.8zM253.2 161.1A2.5 1.4 -13.1 1 0 258.1 160A2.5 1.4 -13.1 1 0 253.2 161.1zM251.9 160.4A2.2 0.6 -22.5 1 0 256.1 158.7A2.2 0.6 -22.5 1 0 251.9 160.4zM179.8 178.7A3.6 1.5 -27.2 1 0 186.3 175.4A3.6 1.5 -27.2 1 0 179.8 178.7zM262.3 155.3A2.6 1.1 -16.1 1 0 267.4 153.8A2.6 1.1 -16.1 1 0 262.3 155.3zM191.4 165.4A3 1.4 -14.4 1 0 197.2 163.9A3 1.4 -14.4 1 0 191.4 165.4zM252.4 155.8A3 1.3 -25.1 1 0 257.9 153.2A3 1.3 -25.1 1 0 252.4 155.8zM248.4 154.4A2.5 0.9 -32 1 0 252.6 151.8A2.5 0.9 -32 1 0 248.4 154.4zM256 153.8A1.6 1.4 -21 1 0 258.9 152.6A1.6 1.4 -21 1 0 256 153.8zM246.8 165.9A2.2 1.1 -15.5 1 0 251 164.7A2.2 1.1 -15.5 1 0 246.8 165.9zM229 157.9A3.7 1.1 -32.7 1 0 235.2 153.9A3.7 1.1 -32.7 1 0 229 157.9zM232.8 158.1A2.6 1.2 -23.6 1 0 237.7 156A2.6 1.2 -23.6 1 0 232.8 158.1zM231.8 155.5A1.4 0.9 -34.3 1 0 234.1 153.9A1.4 0.9 -34.3 1 0 231.8 155.5zM207.2 158.6A3.9 1 -29.5 1 0 214.1 154.7A3.9 1 -29.5 1 0 207.2 158.6zM213.9 155.5A1.2 0.9 -14.2 1 0 216.2 154.9A1.2 0.9 -14.2 1 0 213.9 155.5zM209.4 157.9A2.7 0.7 -17.5 1 0 214.5 156.3A2.7 0.7 -17.5 1 0 209.4 157.9zM208.8 186.5A3.9 1.2 -18.6 1 0 216.3 184A3.9 1.2 -18.6 1 0 208.8 186.5zM214.1 185.3A2.2 0.9 -33.4 1 0 217.8 182.8A2.2 0.9 -33.4 1 0 214.1 185.3zM185.2 180.3A3.4 1.3 -12.4 1 0 191.8 178.8A3.4 1.3 -12.4 1 0 185.2 180.3zM218.2 158.3A2.2 1.1 -34.6 1 0 221.8 155.7A2.2 1.1 -34.6 1 0 218.2 158.3zM258.7 158.9A3.3 1.3 -18.6 1 0 265 156.8A3.3 1.3 -18.6 1 0 258.7 158.9zM228.8 179.8A3.7 1.1 -23.7 1 0 235.5 176.8A3.7 1.1 -23.7 1 0 228.8 179.8zM235 178.6A1.8 1.2 -13.3 1 0 238.6 177.8A1.8 1.2 -13.3 1 0 235 178.6zM202.7 182.5A3.9 1.2 -22.3 1 0 209.8 179.6A3.9 1.2 -22.3 1 0 202.7 182.5zM188.9 184A2.2 1.2 -19.9 1 0 193 182.5A2.2 1.2 -19.9 1 0 188.9 184zM188.6 183.3A1.5 0.7 -17 1 0 191.4 182.5A1.5 0.7 -17 1 0 188.6 183.3zM218.9 175.4A3.9 1.4 -28.6 1 0 225.7 171.7A3.9 1.4 -28.6 1 0 218.9 175.4zM180 187.8A3.4 1.4 -31.5 1 0 185.8 184.2A3.4 1.4 -31.5 1 0 180 187.8zM237.4 175.9A2.7 1.2 -16.5 1 0 242.5 174.3A2.7 1.2 -16.5 1 0 237.4 175.9zM234.3 176.2A2.7 1.3 -24.3 1 0 239.2 174A2.7 1.3 -24.3 1 0 234.3 176.2zM239.5 175.1A2.1 0.8 -21.5 1 0 243.3 173.6A2.1 0.8 -21.5 1 0 239.5 175.1zM223.5 184.2A3 1 -22.3 1 0 229 181.9A3 1 -22.3 1 0 223.5 184.2zM220.6 184.3A2.6 0.9 -20 1 0 225.5 182.5A2.6 0.9 -20 1 0 220.6 184.3zM208.3 171.3A4 1.4 -33.6 1 0 214.9 166.9A4 1.4 -33.6 1 0 208.3 171.3zM240.7 159.8A3.4 1.1 -14.3 1 0 247.3 158.1A3.4 1.1 -14.3 1 0 240.7 159.8zM239.4 160.5A1.8 0.8 -13.1 1 0 242.9 159.7A1.8 0.8 -13.1 1 0 239.4 160.5zM172.4 185.7A3.9 1.5 -32.2 1 0 179.1 181.5A3.9 1.5 -32.2 1 0 172.4 185.7zM191.1 174.9A2.9 1.4 -25.3 1 0 196.4 172.4A2.9 1.4 -25.3 1 0 191.1 174.9zM192.1 174.5A2.9 1 -20.3 1 0 197.5 172.5A2.9 1 -20.3 1 0 192.1 174.5zM223.3 167.1A2.8 0.9 -11.1 1 0 228.9 166A2.8 0.9 -11.1 1 0 223.3 167.1zM228.4 167.8A1.3 0.8 -18.2 1 0 230.8 167A1.3 0.8 -18.2 1 0 228.4 167.8zM186.3 187.8A3.5 1.1 -12.8 1 0 193.1 186.3A3.5 1.1 -12.8 1 0 186.3 187.8zM217.2 187.8A3.3 1.3 -19.9 1 0 223.4 185.5A3.3 1.3 -19.9 1 0 217.2 187.8zM213.3 187.2A3.2 0.7 -22.1 1 0 219.2 184.8A3.2 0.7 -22.1 1 0 213.3 187.2zM198.2 155A3.2 1.5 -30.3 1 0 203.6 151.8A3.2 1.5 -30.3 1 0 198.2 155z"/>
<polygon points="170,151.3 198,117.2 267.5,117.2 239.5,151.3" fill="#000"/>
<path clip-path="url(#c7)" fill="#fff" d="M203.8 138.3A4.7 1.4 -18.5 1 0 212.7 135.3A4.7 1.4 -18.5 1 0 203.8 138.3zM208.7 139.2A4.3 1 -20.7 1 0 216.8 136.1A4.3 1 -20.7 1 0 208.7 139.2zM216.3 142.3A3.6 1.2 -21.7 1 0 222.9 139.6A3.6 1.2 -21.7 1 0 216.3 142.3zM217.8 140.6A3 1.3 -21.5 1 0 223.3 138.4A3 1.3 -21.5 1 0 217.8 140.6zM225.6 121.7A4.9 1.2 -12.2 1 0 235.1 119.6A4.9 1.2 -12.2 1 0 225.6 121.7zM229.5 121.7A3.5 0.8 -31.7 1 0 235.5 118A3.5 0.8 -31.7 1 0 229.5 121.7zM228.2 120.1A3.9 1.4 -10 1 0 235.9 118.8A3.9 1.4 -10 1 0 228.2 120.1zM225.5 145.2A4.7 1.7 -11.4 1 0 234.7 143.4A4.7 1.7 -11.4 1 0 225.5 145.2zM231.5 144.5A3.8 0.7 -24.2 1 0 238.5 141.4A3.8 0.7 -24.2 1 0 231.5 144.5zM226.1 146.8A2.9 0.9 -17 1 0 231.7 145.1A2.9 0.9 -17 1 0 226.1 146.8zM177.2 146.9A3.6 1.4 -34.2 1 0 183.1 142.9A3.6 1.4 -34.2 1 0 177.2 146.9zM173.8 147A1.8 0.8 -20.3 1 0 177.1 145.7A1.8 0.8 -20.3 1 0 173.8 147zM181.1 146A2.4 1.4 -34.4 1 0 185 143.3A2.4 1.4 -34.4 1 0 181.1 146zM230.1 128.7A3.1 1.3 -26.4 1 0 235.8 125.9A3.1 1.3 -26.4 1 0 230.1 128.7zM229.9 127.1A2.1 1.4 -16.4 1 0 233.9 125.9A2.1 1.4 -16.4 1 0 229.9 127.1zM194.3 127.5A3.1 1.4 -29.8 1 0 199.7 124.4A3.1 1.4 -29.8 1 0 194.3 127.5zM195.4 128A2.4 1.3 -32.4 1 0 199.5 125.5A2.4 1.3 -32.4 1 0 195.4 128zM189.8 125.7A1.8 0.9 -10.8 1 0 193.4 125A1.8 0.9 -10.8 1 0 189.8 125.7zM222.8 136.1A3.8 1.1 -10.9 1 0 230.2 134.7A3.8 1.1 -10.9 1 0 222.8 136.1zM246.9 124.7A3.3 1.6 -30.3 1 0 252.6 121.4A3.3 1.6 -30.3 1 0 246.9 124.7zM244.6 124.1A2.4 1.2 -26.7 1 0 248.9 122A2.4 1.2 -26.7 1 0 244.6 124.1zM168.6 151.6A4.8 1.5 -14.1 1 0 178 149.3A4.8 1.5 -14.1 1 0 168.6 151.6zM169.9 152.2A3.7 1.3 -21.4 1 0 176.7 149.5A3.7 1.3 -21.4 1 0 169.9 152.2zM199.1 144.7A3.2 1.2 -32.2 1 0 204.5 141.3A3.2 1.2 -32.2 1 0 199.1 144.7zM203.4 145.6A3.1 1 -23.2 1 0 209 143.2A3.1 1 -23.2 1 0 203.4 145.6zM201.3 145.1A2.4 0.8 -34.5 1 0 205.3 142.4A2.4 0.8 -34.5 1 0 201.3 145.1zM185.7 150.1A3.4 1.7 -11.1 1 0 192.3 148.8A3.4 1.7 -11.1 1 0 185.7 150.1zM183.4 149.2A2.3 1.1 -32 1 0 187.4 146.7A2.3 1.1 -32 1 0 183.4 149.2zM233.2 153A4.3 1.7 -33.5 1 0 240.4 148.3A4.3 1.7 -33.5 1 0 233.2 153zM232.7 150.8A2.2 1 -17.5 1 0 236.9 149.4A2.2 1 -17.5 1 0 232.7 150.8zM239 151.8A3.3 1.5 -23.2 1 0 245.1 149.1A3.3 1.5 -23.2 1 0 239 151.8zM257.2 124.1A3.7 1.5 -34.2 1 0 263.3 120A3.7 1.5 -34.2 1 0 257.2 124.1zM253.6 122A2.4 0.9 -16.3 1 0 258.1 120.7A2.4 0.9 -16.3 1 0 253.6 122zM206.9 121.6A4.9 1.1 -10 1 0 216.5 120A4.9 1.1 -10 1 0 206.9 121.6zM207.9 121.3A2.4 1.5 -30.6 1 0 211.9 118.9A2.4 1.5 -30.6 1 0 207.9 121.3zM210.5 122.3A1.7 1.1 -10.3 1 0 213.9 121.7A1.7 1.1 -10.3 1 0 210.5 122.3zM185 133.8A3.9 1.4 -29.5 1 0 191.7 130A3.9 1.4 -29.5 1 0 185 133.8zM189.8 132.5A2.6 1.5 -30.7 1 0 194.3 129.8A2.6 1.5 -30.7 1 0 189.8 132.5zM249.6 132.7A4.5 1.2 -13.8 1 0 258.3 130.6A4.5 1.2 -13.8 1 0 249.6 132.7zM245.7 134.2A3.3 1 -34.1 1 0 251.1 130.5A3.3 1 -34.1 1 0 245.7 134.2zM236.7 146.4A5 1.2 -12.2 1 0 246.5 144.3A5 1.2 -12.2 1 0 236.7 146.4zM238.5 146.9A2.1 1.3 -30.2 1 0 242.1 144.8A2.1 1.3 -30.2 1 0 238.5 146.9zM202.3 129.7A2.8 1.1 -18.9 1 0 207.6 127.9A2.8 1.1 -18.9 1 0 202.3 129.7zM200.5 132.3A4 1.3 -29.1 1 0 207.6 128.4A4 1.3 -29.1 1 0 200.5 132.3zM206.6 147A3.6 1.3 -20.7 1 0 213.4 144.5A3.6 1.3 -20.7 1 0 206.6 147zM208.4 146.6A3.1 1 -22.5 1 0 214.1 144.2A3.1 1 -22.5 1 0 208.4 146.6zM215.2 125.2A4.5 1.3 -25.5 1 0 223.4 121.3A4.5 1.3 -25.5 1 0 215.2 125.2z"/>
<polygon points="169.8,115.3 198.4,81.6 267.5,81.6 238.9,115.3" fill="#000"/>
<path clip-path="url(#c8)" fill="#fff" d="M187.5 101A3.1 1.6 -31.4 1 0 192.9 97.7A3.1 1.6 -31.4 1 0 187.5 101zM221.3 104.6A3.2 1.4 -22.8 1 0 227.3 102.1A3.2 1.4 -22.8 1 0 221.3 104.6zM206.9 93.7A4.7 1.6 -28.9 1 0 215.2 89.1A4.7 1.6 -28.9 1 0 206.9 93.7zM211.9 93.1A4.6 1.1 -19.9 1 0 220.5 90A4.6 1.1 -19.9 1 0 211.9 93.1zM238.8 86.7A4 1.4 -10.8 1 0 246.7 85.2A4 1.4 -10.8 1 0 238.8 86.7zM199 96.9A3.3 1.7 -16 1 0 205.3 95.1A3.3 1.7 -16 1 0 199 96.9zM236.4 106.3A4 1.2 -27.2 1 0 243.5 102.6A4 1.2 -27.2 1 0 236.4 106.3zM242.8 104.7A2.8 1 -22 1 0 247.9 102.6A2.8 1 -22 1 0 242.8 104.7zM187 113.7A3.3 1.6 -10.3 1 0 193.5 112.5A3.3 1.6 -10.3 1 0 187 113.7zM193.1 115.2A3.5 1.2 -23.8 1 0 199.5 112.4A3.5 1.2 -23.8 1 0 193.1 115.2zM195 89.7A4.7 1.3 -17.7 1 0 204 86.9A4.7 1.3 -17.7 1 0 195 89.7zM197.2 89.7A2 0.9 -17.2 1 0 201 88.5A2 0.9 -17.2 1 0 197.2 89.7zM199.7 91.2A3.9 1.2 -32.1 1 0 206.3 87.1A3.9 1.2 -32.1 1 0 199.7 91.2zM203.5 105.3A3.4 1.7 -11.3 1 0 210.1 103.9A3.4 1.7 -11.3 1 0 203.5 105.3zM209.4 106.1A2.1 1 -28.5 1 0 213.1 104.1A2.1 1 -28.5 1 0 209.4 106.1zM198.7 107A2.8 0.9 -27.1 1 0 203.7 104.5A2.8 0.9 -27.1 1 0 198.7 107zM203 113.9A3.8 1.6 -20.2 1 0 210 111.3A3.8 1.6 -20.2 1 0 203 113.9zM196.3 114.7A4.3 1.2 -17.3 1 0 204.5 112.2A4.3 1.2 -17.3 1 0 196.3 114.7zM201.5 112.2A2.9 1.2 -10.6 1 0 207.1 111.1A2.9 1.2 -10.6 1 0 201.5 112.2zM212.8 109.5A3.7 1.3 -19 1 0 219.8 107.1A3.7 1.3 -19 1 0 212.8 109.5zM226.3 113.4A4.5 1.7 -21.7 1 0 234.7 110.1A4.5 1.7 -21.7 1 0 226.3 113.4zM256.8 84.8A3.6 1.6 -29.9 1 0 263 81.2A3.6 1.6 -29.9 1 0 256.8 84.8zM243.1 99.2A4.5 1.7 -18.7 1 0 251.6 96.3A4.5 1.7 -18.7 1 0 243.1 99.2zM246.1 98.6A2.7 1.6 -19.2 1 0 251.3 96.8A2.7 1.6 -19.2 1 0 246.1 98.6zM225.1 94.3A3.8 1.8 -20.8 1 0 232.2 91.6A3.8 1.8 -20.8 1 0 225.1 94.3zM228.5 94.6A2 1.2 -32.4 1 0 231.9 92.4A2 1.2 -32.4 1 0 228.5 94.6zM222.4 87.8A3.2 1.8 -24 1 0 228.2 85.2A3.2 1.8 -24 1 0 222.4 87.8zM228.6 89.1A2.3 1 -25 1 0 232.8 87.2A2.3 1 -25 1 0 228.6 89.1zM188.9 107.6A3.7 1.5 -26.9 1 0 195.4 104.3A3.7 1.5 -26.9 1 0 188.9 107.6zM188.5 106.9A3.3 1 -13.9 1 0 194.9 105.3A3.3 1 -13.9 1 0 188.5 106.9z"/>
<polygon points="171,79.4 200,45.5 268.5,45.5 239.5,79.4" fill="#000"/>
<path clip-path="url(#c9)" fill="#fff" d="M179.8 78.9A4 1.3 -31.5 1 0 186.6 74.7A4 1.3 -31.5 1 0 179.8 78.9zM182.8 77.9A2.4 0.9 -20.4 1 0 187.2 76.3A2.4 0.9 -20.4 1 0 182.8 77.9zM183.8 78.2A3.3 1 -28.9 1 0 189.7 75A3.3 1 -28.9 1 0 183.8 78.2zM200.9 66.8A3.7 1.3 -17.4 1 0 207.9 64.7A3.7 1.3 -17.4 1 0 200.9 66.8zM201.7 66.9A2.2 0.6 -20.5 1 0 205.9 65.3A2.2 0.6 -20.5 1 0 201.7 66.9zM224.7 71.4A2.7 1.4 -26.8 1 0 229.5 69A2.7 1.4 -26.8 1 0 224.7 71.4zM216.8 61.7A3.4 1.4 -22.6 1 0 223.2 59A3.4 1.4 -22.6 1 0 216.8 61.7zM214.1 63.5A3.3 0.6 -33.2 1 0 219.6 59.9A3.3 0.6 -33.2 1 0 214.1 63.5zM221 62.5A2.2 1.1 -21.5 1 0 225 60.9A2.2 1.1 -21.5 1 0 221 62.5zM236.2 58.3A3.1 1.3 -33.3 1 0 241.4 54.9A3.1 1.3 -33.3 1 0 236.2 58.3zM215.4 51.6A2.7 1.3 -27.9 1 0 220.1 49.1A2.7 1.3 -27.9 1 0 215.4 51.6zM185.8 63.6A2.8 1.3 -10.1 1 0 191.3 62.7A2.8 1.3 -10.1 1 0 185.8 63.6zM189.8 62.4A1.5 0.8 -15 1 0 192.8 61.6A1.5 0.8 -15 1 0 189.8 62.4zM200.9 75.5A3.5 1.3 -29 1 0 206.9 72.1A3.5 1.3 -29 1 0 200.9 75.5zM203.1 73.3A1.5 1.1 -26.4 1 0 205.8 72A1.5 1.1 -26.4 1 0 203.1 73.3zM246.6 60.6A3.9 1.2 -10.1 1 0 254.3 59.3A3.9 1.2 -10.1 1 0 246.6 60.6zM193.9 49.9A3.8 1.3 -22.5 1 0 201 47A3.8 1.3 -22.5 1 0 193.9 49.9zM233.8 74.3A2.8 1.4 -10.5 1 0 239.4 73.2A2.8 1.4 -10.5 1 0 233.8 74.3zM188.2 75.2A4.2 1.2 -18 1 0 196.1 72.6A4.2 1.2 -18 1 0 188.2 75.2zM246.7 53.6A2.8 1.1 -33.3 1 0 251.5 50.4A2.8 1.1 -33.3 1 0 246.7 53.6zM247.3 53.4A1.9 0.7 -16 1 0 250.9 52.3A1.9 0.7 -16 1 0 247.3 53.4zM245.8 51.6A2.8 1 -18.7 1 0 251.1 49.8A2.8 1 -18.7 1 0 245.8 51.6zM226.3 56A3 1 -27.6 1 0 231.5 53.2A3 1 -27.6 1 0 226.3 56zM195.9 71.9A3.5 1.2 -31.9 1 0 201.8 68.3A3.5 1.2 -31.9 1 0 195.9 71.9zM199.5 71.7A2.1 0.7 -11.9 1 0 203.6 70.8A2.1 0.7 -11.9 1 0 199.5 71.7zM199.4 70.6A1.9 0.8 -19.8 1 0 203 69.3A1.9 0.8 -19.8 1 0 199.4 70.6zM207.3 48.3A3.4 1.2 -31.7 1 0 213.2 44.7A3.4 1.2 -31.7 1 0 207.3 48.3zM236.6 65A4 1.1 -16.4 1 0 244.3 62.7A4 1.1 -16.4 1 0 236.6 65z"/>
<polygon points="171.9,43.3 200.5,9.5 269.3,9.5 240.7,43.3" fill="#000"/>
<path clip-path="url(#c10)" fill="#fff" d="M207.5 34.9A0.7 0.5 -19.2 1 0 208.8 34.4A0.7 0.5 -19.2 1 0 207.5 34.9zM202.9 43A0.8 0.6 -13 1 0 204.4 42.7A0.8 0.6 -13 1 0 202.9 43zM232.4 24.7A0.5 0.4 -6.4 1 0 233.4 24.6A0.5 0.4 -6.4 1 0 232.4 24.7z"/>
<polygon points="300,222.6 326.5,189.2 397.8,189.2 371.3,222.6" fill="#000"/>
<g clip-path="url(#c11)"><path filter="url(#sb)" fill="#fff" shape-rendering="crispEdges" d="M358 215h3v1h-3zM355 205h1v1h-1zM315 212h3v1h-3zM362 196h3v1h-3zM322 201h2v1h-2zM365 215h3v1h-3zM355 194h3v1h-3zM376 193h2v1h-2zM345 214h3v1h-3zM334 206h1v1h-1zM324 189h3v1h-3zM369 209h1v1h-1zM334 208h1v1h-1zM366 214h1v1h-1zM344 209h1v1h-1zM312 222h1v1h-1zM371 222h3v1h-3zM348 191h1v1h-1zM329 218h2v1h-2zM356 223h2v1h-2zM355 197h1v1h-1zM349 194h2v1h-2zM340 199h3v1h-3zM360 211h2v1h-2zM359 222h3v1h-3zM324 196h2v1h-2zM324 209h2v1h-2zM389 195h3v1h-3zM339 218h2v1h-2zM378 198h2v1h-2zM389 189h1v1h-1zM370 191h3v1h-3zM381 197h3v1h-3zM362 193h1v1h-1zM350 190h2v1h-2zM313 214h2v1h-2zM319 200h2v1h-2zM369 215h3v1h-3zM384 200h2v1h-2zM300 220h2v1h-2zM333 209h3v1h-3zM361 219h3v1h-3zM327 212h1v1h-1zM318 204h3v1h-3zM390 197h1v1h-1zM395 190h2v1h-2zM390 190h1v1h-1zM382 194h3v1h-3zM323 209h1v1h-1zM359 210h2v1h-2zM312 212h3v1h-3zM368 194h1v1h-1zM351 209h1v1h-1zM305 221h2v1h-2zM340 191h1v1h-1zM343 214h1v1h-1zM350 196h3v1h-3zM306 214h1v1h-1zM314 222h3v1h-3zM374 197h3v1h-3zM378 191h1v1h-1zM366 192h1v1h-1zM371 215h3v1h-3zM371 205h1v1h-1zM305 222h1v1h-1zM351 217h3v1h-3zM372 216h1v1h-1zM349 213h1v1h-1zM377 200h1v1h-1zM335 191h2v1h-2zM312 216h3v1h-3zM367 203h3v1h-3zM357 190h2v1h-2zM354 201h3v1h-3zM378 213h2v1h-2zM364 218h1v1h-1zM345 191h2v1h-2zM367 194h2v1h-2zM361 201h3v1h-3zM351 202h2v1h-2zM367 204h1v1h-1zM326 207h2v1h-2zM388 198h1v1h-1zM333 189h1v1h-1zM357 211h3v1h-3zM362 222h1v1h-1zM373 205h2v1h-2zM304 215h3v1h-3zM351 214h1v1h-1zM348 221h3v1h-3zM317 217h2v1h-2zM372 197h1v1h-1zM316 220h3v1h-3zM355 198h3v1h-3zM316 223h2v1h-2zM329 216h3v1h-3zM315 212h1v1h-1zM314 202h3v1h-3zM333 218h2v1h-2zM358 189h3v1h-3zM338 212h3v1h-3zM383 204h1v1h-1zM342 203h1v1h-1zM323 220h2v1h-2zM352 196h3v1h-3zM353 223h1v1h-1zM337 196h2v1h-2zM303 223h2v1h-2zM335 214h3v1h-3zM308 213h1v1h-1zM329 218h2v1h-2zM366 189h1v1h-1zM350 221h1v1h-1zM343 198h3v1h-3zM363 203h2v1h-2zM385 199h3v1h-3zM375 217h1v1h-1zM334 212h2v1h-2zM315 223h3v1h-3zM357 204h1v1h-1zM361 205h1v1h-1zM350 203h2v1h-2zM372 202h3v1h-3zM350 211h1v1h-1zM368 200h1v1h-1zM365 203h3v1h-3zM341 216h3v1h-3zM330 189h1v1h-1zM330 223h3v1h-3zM375 197h3v1h-3zM334 216h2v1h-2zM358 219h1v1h-1zM344 196h3v1h-3zM362 207h2v1h-2zM315 219h2v1h-2zM343 212h2v1h-2zM348 203h1v1h-1zM354 220h2v1h-2zM317 220h3v1h-3zM330 221h3v1h-3zM341 220h1v1h-1zM330 204h3v1h-3zM347 203h3v1h-3zM341 194h1v1h-1zM337 209h1v1h-1zM321 209h3v1h-3zM363 193h1v1h-1zM378 195h3v1h-3zM324 211h2v1h-2zM378 192h3v1h-3zM346 221h3v1h-3zM394 191h3v1h-3zM382 190h3v1h-3zM386 202h1v1h-1zM364 220h1v1h-1zM365 202h1v1h-1zM382 209h3v1h-3zM337 201h3v1h-3zM330 220h2v1h-2zM323 218h3v1h-3zM364 197h1v1h-1zM364 215h1v1h-1zM336 200h2v1h-2zM378 192h3v1h-3zM367 221h3v1h-3zM360 215h2v1h-2zM367 207h3v1h-3zM369 199h1v1h-1zM348 216h1v1h-1zM369 218h2v1h-2zM327 203h2v1h-2zM349 207h2v1h-2zM335 197h1v1h-1zM355 211h3v1h-3zM327 208h3v1h-3zM358 214h1v1h-1zM381 202h3v1h-3zM337 202h2v1h-2zM373 219h1v1h-1zM345 212h3v1h-3zM316 220h2v1h-2zM343 221h3v1h-3zM347 197h1v1h-1zM383 205h3v1h-3zM323 211h2v1h-2zM340 196h3v1h-3zM370 210h1v1h-1zM333 193h3v1h-3zM347 198h2v1h-2zM317 199h3v1h-3zM323 209h2v1h-2zM351 213h3v1h-3zM309 210h2v1h-2zM331 196h3v1h-3zM343 211h1v1h-1zM349 190h2v1h-2zM364 198h2v1h-2zM321 196h1v1h-1zM330 203h2v1h-2zM331 214h3v1h-3zM337 211h3v1h-3zM391 189h1v1h-1zM325 193h2v1h-2zM348 214h2v1h-2zM334 209h3v1h-3zM339 192h3v1h-3zM318 213h1v1h-1zM326 223h2v1h-2zM304 216h3v1h-3zM323 222h3v1h-3zM358 209h1v1h-1zM324 193h2v1h-2zM342 203h1v1h-1zM368 209h1v1h-1zM320 211h3v1h-3zM328 196h2v1h-2zM326 191h2v1h-2zM318 196h2v1h-2zM337 216h1v1h-1zM352 223h3v1h-3zM308 215h3v1h-3zM350 198h1v1h-1zM310 212h3v1h-3zM366 191h2v1h-2zM333 203h1v1h-1zM334 196h3v1h-3zM318 208h2v1h-2zM329 221h3v1h-3zM310 217h3v1h-3zM366 195h1v1h-1z"/></g>
<polygon points="299.7,186.4 326.5,153.6 397.3,153.6 370.5,186.4" fill="#000"/>
<path clip-path="url(#c12)" fill="#fff" d="M338.2 183.5A1.4 0.9 -15.7 1 0 340.8 182.7A1.4 0.9 -15.7 1 0 338.2 183.5zM366.3 161.4A1.9 0.9 -6.7 1 0 370 160.9A1.9 0.9 -6.7 1 0 366.3 161.4zM352.3 163.3A1.8 1 -20.1 1 0 355.7 162.1A1.8 1 -20.1 1 0 352.3 163.3zM355.3 166.1A1.7 1 -7.3 1 0 358.7 165.7A1.7 1 -7.3 1 0 355.3 166.1zM374.3 162.1A1.4 0.8 -15.2 1 0 376.9 161.4A1.4 0.8 -15.2 1 0 374.3 162.1zM305 182.9A1.9 0.7 -21.8 1 0 308.5 181.5A1.9 0.7 -21.8 1 0 305 182.9zM305.5 182.7A1.4 0.7 -24.2 1 0 308 181.5A1.4 0.7 -24.2 1 0 305.5 182.7zM331.4 168.4A2 0.9 -23.3 1 0 335.1 166.8A2 0.9 -23.3 1 0 331.4 168.4zM355.6 181.6A2.1 0.9 -9.9 1 0 359.8 180.8A2.1 0.9 -9.9 1 0 355.6 181.6zM352.7 160.9A1.5 0.8 -16.7 1 0 355.6 160A1.5 0.8 -16.7 1 0 352.7 160.9zM369.8 157.1A1.9 0.7 -9.5 1 0 373.6 156.5A1.9 0.7 -9.5 1 0 369.8 157.1zM370.2 157.8A1.2 0.5 -5.9 1 0 372.5 157.6A1.2 0.5 -5.9 1 0 370.2 157.8zM361.8 165.7A1.5 0.7 -24.2 1 0 364.5 164.5A1.5 0.7 -24.2 1 0 361.8 165.7zM384.7 158.1A1.5 0.9 -7.7 1 0 387.8 157.7A1.5 0.9 -7.7 1 0 384.7 158.1zM348.1 157.9A1.3 0.9 -17.6 1 0 350.7 157.1A1.3 0.9 -17.6 1 0 348.1 157.9zM335.5 186.6A1.9 0.9 -18.8 1 0 339.1 185.3A1.9 0.9 -18.8 1 0 335.5 186.6zM323 177.7A1.7 0.7 -15.7 1 0 326.2 176.8A1.7 0.7 -15.7 1 0 323 177.7zM345.1 184.8A2 0.8 -9.9 1 0 349.1 184.2A2 0.8 -9.9 1 0 345.1 184.8zM344 184.7A1 0.8 -12.3 1 0 346 184.3A1 0.8 -12.3 1 0 344 184.7zM347 183.9A1.1 0.7 -16.2 1 0 349 183.3A1.1 0.7 -16.2 1 0 347 183.9zM324.1 173A1.7 0.8 -11.8 1 0 327.5 172.3A1.7 0.8 -11.8 1 0 324.1 173zM326.3 172.8A1.7 0.7 -13.8 1 0 329.6 172A1.7 0.7 -13.8 1 0 326.3 172.8zM323.4 173.1A1.9 0.8 -5.5 1 0 327.2 172.8A1.9 0.8 -5.5 1 0 323.4 173.1zM357.5 164.3A2.2 0.8 -9.5 1 0 361.9 163.5A2.2 0.8 -9.5 1 0 357.5 164.3zM302.8 186.3A1.5 1 -17.2 1 0 305.6 185.5A1.5 1 -17.2 1 0 302.8 186.3zM312.4 174.2A1.6 0.7 -21.1 1 0 315.4 173A1.6 0.7 -21.1 1 0 312.4 174.2zM360.2 184.6A2 0.9 -21 1 0 363.9 183.2A2 0.9 -21 1 0 360.2 184.6zM325.7 181.2A1.7 0.8 -5.6 1 0 329.1 180.9A1.7 0.8 -5.6 1 0 325.7 181.2zM377.7 161.9A2.2 0.9 -15 1 0 382 160.8A2.2 0.9 -15 1 0 377.7 161.9zM328.6 165.3A1.9 0.8 -22.6 1 0 332.1 163.8A1.9 0.8 -22.6 1 0 328.6 165.3zM309 182.6A2.1 0.9 -19.4 1 0 313 181.2A2.1 0.9 -19.4 1 0 309 182.6zM306.2 179.2A2.2 0.9 -23.1 1 0 310.2 177.5A2.2 0.9 -23.1 1 0 306.2 179.2zM378.5 170.7A1.3 0.9 -16 1 0 380.9 170A1.3 0.9 -16 1 0 378.5 170.7zM377.2 170.7A1.1 0.5 -15.9 1 0 379.4 170.1A1.1 0.5 -15.9 1 0 377.2 170.7zM376 169.9A1.2 0.6 -10.8 1 0 378.4 169.4A1.2 0.6 -10.8 1 0 376 169.9zM333.6 183.6A1.4 0.7 -15.3 1 0 336.2 182.9A1.4 0.7 -15.3 1 0 333.6 183.6zM343.6 167.5A2 0.9 -15.8 1 0 347.6 166.3A2 0.9 -15.8 1 0 343.6 167.5zM328 156A1.3 0.8 -10.4 1 0 330.5 155.5A1.3 0.8 -10.4 1 0 328 156zM327.7 174.5A2.1 0.8 -6.1 1 0 331.8 174.1A2.1 0.8 -6.1 1 0 327.7 174.5zM330.2 158.2A1.5 0.7 -24.2 1 0 333 157A1.5 0.7 -24.2 1 0 330.2 158.2zM339.3 165.5A1.3 0.7 -8.1 1 0 341.9 165.1A1.3 0.7 -8.1 1 0 339.3 165.5zM316.7 183.5A1.5 0.8 -18.5 1 0 319.5 182.6A1.5 0.8 -18.5 1 0 316.7 183.5zM322.1 169.2A1.6 0.8 -14.2 1 0 325.2 168.5A1.6 0.8 -14.2 1 0 322.1 169.2zM366.8 159.6A2 0.9 -19.2 1 0 370.5 158.3A2 0.9 -19.2 1 0 366.8 159.6zM344.8 181.7A2 0.7 -21.2 1 0 348.6 180.3A2 0.7 -21.2 1 0 344.8 181.7zM356.5 155.6A1.8 0.7 -21.4 1 0 359.9 154.3A1.8 0.7 -21.4 1 0 356.5 155.6zM371.9 154.8A1.9 0.9 -19.2 1 0 375.5 153.5A1.9 0.9 -19.2 1 0 371.9 154.8zM374.8 154A1.4 0.5 -9.8 1 0 377.6 153.5A1.4 0.5 -9.8 1 0 374.8 154zM370.7 154.9A1.1 0.6 -15.8 1 0 372.9 154.3A1.1 0.6 -15.8 1 0 370.7 154.9zM362.4 160.9A1.3 0.9 -20.6 1 0 364.7 160.1A1.3 0.9 -20.6 1 0 362.4 160.9zM371.2 159.5A2.1 0.8 -7.7 1 0 375.3 158.9A2.1 0.8 -7.7 1 0 371.2 159.5zM366.6 175.6A2.2 0.8 -14.6 1 0 371 174.5A2.2 0.8 -14.6 1 0 366.6 175.6zM374.9 166.9A1.4 0.8 -6.3 1 0 377.7 166.6A1.4 0.8 -6.3 1 0 374.9 166.9zM364.9 184A1.6 0.7 -21.2 1 0 367.9 182.8A1.6 0.7 -21.2 1 0 364.9 184zM364.6 178.3A1.8 0.9 -18.6 1 0 368 177.1A1.8 0.9 -18.6 1 0 364.6 178.3zM360.4 173.9A1.9 0.8 -18.5 1 0 364.1 172.7A1.9 0.8 -18.5 1 0 360.4 173.9zM329.8 180.6A1.4 0.9 -8.2 1 0 332.6 180.2A1.4 0.9 -8.2 1 0 329.8 180.6zM319.6 161A1.8 0.8 -12.5 1 0 323 160.2A1.8 0.8 -12.5 1 0 319.6 161zM348.9 184.1A2.1 0.9 -12.5 1 0 353.1 183.2A2.1 0.9 -12.5 1 0 348.9 184.1zM367.3 154.3A2.1 0.7 -9.3 1 0 371.5 153.6A2.1 0.7 -9.3 1 0 367.3 154.3zM345.5 178.3A1.7 1 -17.1 1 0 348.8 177.2A1.7 1 -17.1 1 0 345.5 178.3zM339.4 179.2A1.4 0.8 -13.8 1 0 342.1 178.5A1.4 0.8 -13.8 1 0 339.4 179.2zM337.8 179.3A1.1 0.6 -20.2 1 0 339.8 178.6A1.1 0.6 -20.2 1 0 337.8 179.3zM333.1 161.2A2.1 0.7 -22.4 1 0 337 159.6A2.1 0.7 -22.4 1 0 333.1 161.2zM308.8 176.2A1.7 0.8 -24.8 1 0 311.9 174.8A1.7 0.8 -24.8 1 0 308.8 176.2zM360.2 158.1A1.5 0.9 -12.7 1 0 363.1 157.5A1.5 0.9 -12.7 1 0 360.2 158.1zM354.6 184.1A2.2 0.7 -11.8 1 0 359 183.2A2.2 0.7 -11.8 1 0 354.6 184.1zM343.9 160.9A1.6 0.8 -11.6 1 0 347 160.3A1.6 0.8 -11.6 1 0 343.9 160.9zM385.5 165.9A1.8 0.8 -7.5 1 0 389 165.4A1.8 0.8 -7.5 1 0 385.5 165.9zM317 177.6A2.1 1 -19.2 1 0 320.9 176.2A2.1 1 -19.2 1 0 317 177.6zM354.1 179.2A2 0.8 -14.4 1 0 358 178.2A2 0.8 -14.4 1 0 354.1 179.2zM329.1 185.9A1.8 0.9 -23.3 1 0 332.4 184.5A1.8 0.9 -23.3 1 0 329.1 185.9zM355.8 172.5A2.2 0.9 -24.2 1 0 359.8 170.7A2.2 0.9 -24.2 1 0 355.8 172.5zM350.6 179.5A1.3 0.8 -11.1 1 0 353.2 179A1.3 0.8 -11.1 1 0 350.6 179.5zM374.1 158A2.1 0.9 -18.2 1 0 378.2 156.6A2.1 0.9 -18.2 1 0 374.1 158zM350.3 172.6A2.1 1 -8.3 1 0 354.4 172A2.1 1 -8.3 1 0 350.3 172.6zM333 156.5A1.6 0.8 -17.7 1 0 336.1 155.5A1.6 0.8 -17.7 1 0 333 156.5zM334.1 153.8A1.7 0.7 -5.9 1 0 337.5 153.4A1.7 0.7 -5.9 1 0 334.1 153.8zM338 158.9A1.9 0.8 -7.4 1 0 341.8 158.4A1.9 0.8 -7.4 1 0 338 158.9zM355.6 157.3A1.3 0.8 -7.8 1 0 358.1 157A1.3 0.8 -7.8 1 0 355.6 157.3zM369.3 178.9A2.1 0.9 -9.5 1 0 373.5 178.2A2.1 0.9 -9.5 1 0 369.3 178.9zM368 178.9A1.8 0.7 -15.3 1 0 371.6 178A1.8 0.7 -15.3 1 0 368 178.9zM353.6 175.7A1.9 1 -24.1 1 0 357.1 174.1A1.9 1 -24.1 1 0 353.6 175.7zM340.5 170.3A1.5 0.8 -18 1 0 343.3 169.3A1.5 0.8 -18 1 0 340.5 170.3zM347.8 154.7A1.9 1 -22.5 1 0 351.3 153.3A1.9 1 -22.5 1 0 347.8 154.7zM348.7 153.9A1.2 0.8 -16.6 1 0 351 153.2A1.2 0.8 -16.6 1 0 348.7 153.9zM380 156.4A1.4 1 -11.4 1 0 382.7 155.8A1.4 1 -11.4 1 0 380 156.4zM381.4 156.9A1.8 0.8 -6.4 1 0 384.8 156.5A1.8 0.8 -6.4 1 0 381.4 156.9zM313.1 169A2.1 0.7 -11.8 1 0 317.2 168.1A2.1 0.7 -11.8 1 0 313.1 169zM319 163.8A1.6 0.7 -22.5 1 0 322.1 162.6A1.6 0.7 -22.5 1 0 319 163.8zM312.8 185.1A2.1 0.8 -21.4 1 0 316.7 183.5A2.1 0.8 -21.4 1 0 312.8 185.1zM371.9 172.2A1.5 0.7 -24 1 0 374.7 171A1.5 0.7 -24 1 0 371.9 172.2zM344.9 169.6A2.2 0.9 -13.5 1 0 349.2 168.5A2.2 0.9 -13.5 1 0 344.9 169.6zM339.4 154.9A2 1 -12.3 1 0 343.3 154.1A2 1 -12.3 1 0 339.4 154.9z"/>
<polygon points="299.2,150.9 326.5,117.6 397.2,117.6 369.9,150.9" fill="#000"/>
<path clip-path="url(#c13)" fill="#fff" d="M308.5 151.3A1.5 0.7 -15.6 1 0 311.4 150.5A1.5 0.7 -15.6 1 0 308.5 151.3zM362.5 131.3A1.7 0.7 -16.6 1 0 365.8 130.3A1.7 0.7 -16.6 1 0 362.5 131.3zM363.8 147.5A1.7 0.7 -5.3 1 0 367.3 147.2A1.7 0.7 -5.3 1 0 363.8 147.5zM341.1 132.2A1.9 0.6 -20.6 1 0 344.6 130.9A1.9 0.6 -20.6 1 0 341.1 132.2zM356.5 139.7A1.9 0.7 -8.7 1 0 360.3 139.1A1.9 0.7 -8.7 1 0 356.5 139.7zM320.2 142.6A1.3 0.9 -6.8 1 0 322.7 142.3A1.3 0.9 -6.8 1 0 320.2 142.6zM354.8 120.9A1.9 0.7 -12.1 1 0 358.5 120.1A1.9 0.7 -12.1 1 0 354.8 120.9zM369.3 119.9A1.5 0.9 -22.5 1 0 372.1 118.7A1.5 0.9 -22.5 1 0 369.3 119.9zM370.6 143.2A1.7 0.8 -24.5 1 0 373.6 141.8A1.7 0.8 -24.5 1 0 370.6 143.2zM319 136.1A1.4 0.8 -15 1 0 321.7 135.4A1.4 0.8 -15 1 0 319 136.1zM364.2 126.3A1.6 0.8 -18.9 1 0 367.2 125.3A1.6 0.8 -18.9 1 0 364.2 126.3zM360.7 137.8A1.5 0.6 -18.6 1 0 363.6 136.8A1.5 0.6 -18.6 1 0 360.7 137.8zM344.5 120.1A1.8 0.7 -22.9 1 0 347.7 118.7A1.8 0.7 -22.9 1 0 344.5 120.1zM368.5 128.7A1.8 0.6 -17.7 1 0 371.9 127.6A1.8 0.6 -17.7 1 0 368.5 128.7zM331.6 144.8A1.7 0.9 -12.8 1 0 334.9 144.1A1.7 0.9 -12.8 1 0 331.6 144.8zM313.6 141.4A1.6 0.8 -5 1 0 316.8 141.2A1.6 0.8 -5 1 0 313.6 141.4zM320.7 149A1.4 0.9 -10.7 1 0 323.4 148.4A1.4 0.9 -10.7 1 0 320.7 149zM372.2 132.8A1.6 0.9 -16.1 1 0 375.3 131.9A1.6 0.9 -16.1 1 0 372.2 132.8zM339.7 118.8A1.3 0.9 -17.6 1 0 342.2 118A1.3 0.9 -17.6 1 0 339.7 118.8zM343.5 142A1.5 0.9 -16.7 1 0 346.3 141.1A1.5 0.9 -16.7 1 0 343.5 142zM319.5 132.2A1.9 0.8 -14.9 1 0 323.1 131.3A1.9 0.8 -14.9 1 0 319.5 132.2zM354.4 133.2A1.8 0.7 -15.2 1 0 357.8 132.2A1.8 0.7 -15.2 1 0 354.4 133.2zM363.7 134.1A1.7 0.8 -16.7 1 0 366.9 133.2A1.7 0.8 -16.7 1 0 363.7 134.1zM349.2 138.5A1.9 0.7 -9.7 1 0 353 137.8A1.9 0.7 -9.7 1 0 349.2 138.5zM362.3 150.7A1.5 0.8 -24.4 1 0 365.1 149.4A1.5 0.8 -24.4 1 0 362.3 150.7zM306.8 141.6A1.4 0.9 -13.6 1 0 309.5 140.9A1.4 0.9 -13.6 1 0 306.8 141.6zM329.1 132.5A2 0.7 -5.9 1 0 333 132.1A2 0.7 -5.9 1 0 329.1 132.5zM381.4 127.9A1.6 0.7 -8.8 1 0 384.6 127.4A1.6 0.7 -8.8 1 0 381.4 127.9zM341.4 126.4A1.8 0.7 -16.2 1 0 344.9 125.4A1.8 0.7 -16.2 1 0 341.4 126.4zM344.3 125.3A1.1 0.8 -8.6 1 0 346.4 125A1.1 0.8 -8.6 1 0 344.3 125.3zM348.2 123.3A1.7 0.8 -13.4 1 0 351.5 122.5A1.7 0.8 -13.4 1 0 348.2 123.3z"/>
<polygon points="298.5,115.4 326.5,81.7 396.6,81.7 368.6,115.4" fill="#000"/>
<path clip-path="url(#c14)" fill="#fff" d="M360.8 93.4A0.5 0.4 -22.6 1 0 361.7 93A0.5 0.4 -22.6 1 0 360.8 93.4zM339.1 83.4A0.7 0.5 -18.3 1 0 340.5 83A0.7 0.5 -18.3 1 0 339.1 83.4zM328.8 106A0.8 0.4 -14.7 1 0 330.3 105.6A0.8 0.4 -14.7 1 0 328.8 106z"/>
<polygon points="408.4,222.5 436,189 506.7,189 479.1,222.5" fill="#000"/>
<path clip-path="url(#c15)" fill="#fff" d="M420.1 209.1A1.5 0.8 -12.2 1 0 423 208.5A1.5 0.8 -12.2 1 0 420.1 209.1zM459.9 211.8A1.6 0.7 -21 1 0 462.8 210.6A1.6 0.7 -21 1 0 459.9 211.8zM434 212.9A1.3 0.7 -17.6 1 0 436.5 212.1A1.3 0.7 -17.6 1 0 434 212.9zM471.1 222.5A1.4 0.7 -14.8 1 0 473.8 221.8A1.4 0.7 -14.8 1 0 471.1 222.5zM446.2 207.4A1.7 0.7 -11.3 1 0 449.7 206.7A1.7 0.7 -11.3 1 0 446.2 207.4zM455 218.2A1.1 0.7 -7.3 1 0 457.2 217.9A1.1 0.7 -7.3 1 0 455 218.2zM440.1 201.1A1.6 0.7 -7.8 1 0 443.3 200.7A1.6 0.7 -7.8 1 0 440.1 201.1zM440.9 192.3A1.4 0.7 -11.4 1 0 443.7 191.7A1.4 0.7 -11.4 1 0 440.9 192.3zM468.4 198.1A1.4 0.8 -20.6 1 0 471.1 197.1A1.4 0.8 -20.6 1 0 468.4 198.1zM468 197.3A1.3 0.6 -8.2 1 0 470.5 196.9A1.3 0.6 -8.2 1 0 468 197.3zM454.7 210.2A1.1 0.7 -21.4 1 0 456.8 209.4A1.1 0.7 -21.4 1 0 454.7 210.2zM472.5 199.4A1.4 0.6 -11.2 1 0 475.3 198.9A1.4 0.6 -11.2 1 0 472.5 199.4zM411.9 216.8A1.8 0.7 -6.8 1 0 415.6 216.4A1.8 0.7 -6.8 1 0 411.9 216.8zM442.7 204.4A1.4 0.8 -5.1 1 0 445.5 204.2A1.4 0.8 -5.1 1 0 442.7 204.4zM474.8 194.7A1.3 0.8 -7.8 1 0 477.4 194.4A1.3 0.8 -7.8 1 0 474.8 194.7zM412.1 218.4A1.1 0.7 -9 1 0 414.1 218A1.1 0.7 -9 1 0 412.1 218.4zM420 213.5A1.2 0.8 -12.4 1 0 422.3 213A1.2 0.8 -12.4 1 0 420 213.5zM455.2 212.2A1.8 0.8 -21.5 1 0 458.4 210.9A1.8 0.8 -21.5 1 0 455.2 212.2zM447.9 193.6A1.2 0.6 -6.8 1 0 450.2 193.3A1.2 0.6 -6.8 1 0 447.9 193.6zM483 202.6A1.1 0.8 -17.6 1 0 485.2 201.9A1.1 0.8 -17.6 1 0 483 202.6zM490.6 198.2A1.4 0.7 -12.7 1 0 493.2 197.6A1.4 0.7 -12.7 1 0 490.6 198.2zM443.8 194A1.9 0.8 -16.9 1 0 447.5 192.9A1.9 0.8 -16.9 1 0 443.8 194zM469.9 196.3A1.1 0.6 -15.4 1 0 472 195.8A1.1 0.6 -15.4 1 0 469.9 196.3zM466.4 219.6A1.4 0.8 -14.8 1 0 469.1 218.9A1.4 0.8 -14.8 1 0 466.4 219.6zM433.8 204.9A1.7 0.8 -19.5 1 0 437 203.8A1.7 0.8 -19.5 1 0 433.8 204.9zM496.8 193.4A1.7 0.8 -5.3 1 0 500.2 193.1A1.7 0.8 -5.3 1 0 496.8 193.4zM496.6 195.5A1 0.9 -21.8 1 0 498.6 194.7A1 0.9 -21.8 1 0 496.6 195.5zM494.5 195A1.5 0.5 -16 1 0 497.4 194.2A1.5 0.5 -16 1 0 494.5 195zM444.4 212.3A1.6 0.8 -17.1 1 0 447.4 211.4A1.6 0.8 -17.1 1 0 444.4 212.3zM445.7 211.7A0.9 0.6 -10.5 1 0 447.5 211.3A0.9 0.6 -10.5 1 0 445.7 211.7zM469.1 208.7A1.4 0.8 -6.6 1 0 471.8 208.4A1.4 0.8 -6.6 1 0 469.1 208.7zM458 209.7A1.5 0.6 -16 1 0 460.9 208.9A1.5 0.6 -16 1 0 458 209.7zM416.9 222.3A1.1 0.8 -23.4 1 0 418.9 221.4A1.1 0.8 -23.4 1 0 416.9 222.3zM459.6 217.9A1.6 0.8 -18.1 1 0 462.6 216.9A1.6 0.8 -18.1 1 0 459.6 217.9zM475.3 193A1.6 0.6 -18.6 1 0 478.3 192A1.6 0.6 -18.6 1 0 475.3 193zM461.8 202.8A1.3 0.7 -10 1 0 464.4 202.3A1.3 0.7 -10 1 0 461.8 202.8zM431 210.2A2 0.7 -17.5 1 0 434.8 209A2 0.7 -17.5 1 0 431 210.2zM446.6 190.5A1.9 0.6 -13.5 1 0 450.2 189.6A1.9 0.6 -13.5 1 0 446.6 190.5zM460.7 193.4A1.1 0.6 -14.1 1 0 462.9 192.9A1.1 0.6 -14.1 1 0 460.7 193.4zM452.7 207A1.5 0.6 -7.3 1 0 455.8 206.6A1.5 0.6 -7.3 1 0 452.7 207zM420.4 211.5A1.7 0.9 -17.8 1 0 423.6 210.5A1.7 0.9 -17.8 1 0 420.4 211.5zM453.2 203A1.2 0.6 -17.7 1 0 455.5 202.3A1.2 0.6 -17.7 1 0 453.2 203zM457.6 204.6A1.4 0.7 -13.5 1 0 460.3 204A1.4 0.7 -13.5 1 0 457.6 204.6zM471.8 191.2A1.7 0.7 -18.9 1 0 475 190.2A1.7 0.7 -18.9 1 0 471.8 191.2zM491.5 195A1.3 0.7 -15.7 1 0 494 194.3A1.3 0.7 -15.7 1 0 491.5 195zM485.6 206.9A1.2 0.6 -18.2 1 0 487.9 206.2A1.2 0.6 -18.2 1 0 485.6 206.9zM437.6 189.7A1.9 0.8 -19.6 1 0 441.2 188.4A1.9 0.8 -19.6 1 0 437.6 189.7zM437.3 189.9A1 0.6 -15.5 1 0 439.2 189.4A1 0.6 -15.5 1 0 437.3 189.9zM470.3 202.6A1.2 0.6 -12.5 1 0 472.7 202A1.2 0.6 -12.5 1 0 470.3 202.6zM479.7 198.9A1.7 0.8 -24.5 1 0 482.7 197.5A1.7 0.8 -24.5 1 0 479.7 198.9zM497 189.7A2 0.9 -14.4 1 0 500.8 188.7A2 0.9 -14.4 1 0 497 189.7zM483.2 204.3A1.8 0.7 -5.1 1 0 486.9 204A1.8 0.7 -5.1 1 0 483.2 204.3zM436.4 206.7A1.7 0.7 -12.3 1 0 439.6 206A1.7 0.7 -12.3 1 0 436.4 206.7zM461 206.5A1.5 0.8 -18.2 1 0 463.8 205.6A1.5 0.8 -18.2 1 0 461 206.5zM502.2 193.1A1.5 0.7 -20.4 1 0 504.9 192.1A1.5 0.7 -20.4 1 0 502.2 193.1zM423.6 215.6A2 0.8 -16.7 1 0 427.3 214.4A2 0.8 -16.7 1 0 423.6 215.6zM447.5 222.3A1.1 0.6 -12.5 1 0 449.6 221.8A1.1 0.6 -12.5 1 0 447.5 222.3zM484.2 199.6A1.9 0.7 -6.7 1 0 488 199.1A1.9 0.7 -6.7 1 0 484.2 199.6zM475.4 201.1A1.8 0.8 -19.8 1 0 478.8 199.8A1.8 0.8 -19.8 1 0 475.4 201.1zM430.5 208.2A1.8 0.7 -8.5 1 0 434.1 207.6A1.8 0.7 -8.5 1 0 430.5 208.2zM458.4 219.6A1.7 0.7 -12.6 1 0 461.7 218.9A1.7 0.7 -12.6 1 0 458.4 219.6zM486.5 190.2A1.7 0.8 -10.4 1 0 489.9 189.6A1.7 0.8 -10.4 1 0 486.5 190.2zM487.9 189.9A0.8 0.6 -5 1 0 489.5 189.7A0.8 0.6 -5 1 0 487.9 189.9zM494.1 199.8A1.4 0.9 -12.1 1 0 496.9 199.2A1.4 0.9 -12.1 1 0 494.1 199.8zM471.9 208A1.4 0.6 -19.2 1 0 474.6 207.1A1.4 0.6 -19.2 1 0 471.9 208zM491.2 192.9A1.5 0.8 -8.5 1 0 494.2 192.4A1.5 0.8 -8.5 1 0 491.2 192.9zM433.3 216.2A2 0.7 -12.3 1 0 437.1 215.4A2 0.7 -12.3 1 0 433.3 216.2zM449.6 199A1.9 0.8 -23.5 1 0 453.2 197.4A1.9 0.8 -23.5 1 0 449.6 199zM449 211.3A1.8 0.6 -11.3 1 0 452.6 210.6A1.8 0.6 -11.3 1 0 449 211.3zM427.6 207.7A1 0.7 -19 1 0 429.5 207A1 0.7 -19 1 0 427.6 207.7zM451 213.2A1.3 0.8 -6.7 1 0 453.6 212.9A1.3 0.8 -6.7 1 0 451 213.2zM428.3 197.8A1.8 0.7 -16.8 1 0 431.7 196.7A1.8 0.7 -16.8 1 0 428.3 197.8zM461.6 213.7A1.2 0.9 -10.7 1 0 463.9 213.2A1.2 0.9 -10.7 1 0 461.6 213.7zM446.3 216A1.7 0.8 -17.7 1 0 449.6 214.9A1.7 0.8 -17.7 1 0 446.3 216zM444.5 201.4A1 0.8 -13.7 1 0 446.5 201A1 0.8 -13.7 1 0 444.5 201.4zM445.2 201.9A1.3 0.7 -9.2 1 0 447.7 201.5A1.3 0.7 -9.2 1 0 445.2 201.9zM442.4 197.1A1.9 0.8 -19.4 1 0 446 195.9A1.9 0.8 -19.4 1 0 442.4 197.1zM455.9 196.2A1.4 0.6 -23.3 1 0 458.4 195.1A1.4 0.6 -23.3 1 0 455.9 196.2zM421.1 220.8A1 0.9 -15.6 1 0 423.1 220.3A1 0.9 -15.6 1 0 421.1 220.8zM436.8 211.2A1.4 0.7 -16.9 1 0 439.5 210.4A1.4 0.7 -16.9 1 0 436.8 211.2zM435.8 214.3A1.6 0.7 -15.4 1 0 439 213.4A1.6 0.7 -15.4 1 0 435.8 214.3zM455 220.4A1.8 0.6 -10.6 1 0 458.4 219.8A1.8 0.6 -10.6 1 0 455 220.4zM466.7 216.6A1 0.7 -7.2 1 0 468.7 216.4A1 0.7 -7.2 1 0 466.7 216.6zM413.2 220.5A1.1 0.7 -10.5 1 0 415.3 220.1A1.1 0.7 -10.5 1 0 413.2 220.5zM431.2 221.1A1.1 0.8 -23.3 1 0 433.2 220.2A1.1 0.8 -23.3 1 0 431.2 221.1zM441.7 207.4A1.9 0.8 -12.4 1 0 445.3 206.6A1.9 0.8 -12.4 1 0 441.7 207.4z"/>
<polygon points="408.8,185.6 436.5,153.1 506.7,153.1 479,185.6" fill="#000"/>
<path clip-path="url(#c16)" fill="#fff" d="M443 176.3A1.9 0.9 -7 1 0 446.6 175.9A1.9 0.9 -7 1 0 443 176.3zM461.4 171.4A2.4 1.3 -6 1 0 466.1 170.9A2.4 1.3 -6 1 0 461.4 171.4zM485 171.2A2.2 1.1 -21.2 1 0 489.1 169.6A2.2 1.1 -21.2 1 0 485 171.2zM449.3 162.3A2.7 0.9 -5.7 1 0 454.7 161.8A2.7 0.9 -5.7 1 0 449.3 162.3zM435.8 183.4A2.5 1.1 -6.1 1 0 440.8 182.9A2.5 1.1 -6.1 1 0 435.8 183.4zM462.6 155A2.3 1 -14.8 1 0 467 153.8A2.3 1 -14.8 1 0 462.6 155zM477.7 179A2.4 1.2 -24.2 1 0 482.2 177A2.4 1.2 -24.2 1 0 477.7 179zM493.5 158.8A2.3 1 -23.9 1 0 497.8 156.9A2.3 1 -23.9 1 0 493.5 158.8zM496.7 156.9A1.2 1.3 -14.7 1 0 499 156.3A1.2 1.3 -14.7 1 0 496.7 156.9zM493.6 154.6A1.8 1.3 -14.7 1 0 497 153.7A1.8 1.3 -14.7 1 0 493.6 154.6zM495.6 160.9A2 1 -10.5 1 0 499.5 160.2A2 1 -10.5 1 0 495.6 160.9zM496.5 160A1.2 1.1 -7.6 1 0 498.9 159.6A1.2 1.1 -7.6 1 0 496.5 160zM430.4 170.1A2.6 1.2 -19.4 1 0 435.2 168.4A2.6 1.2 -19.4 1 0 430.4 170.1zM456.1 181.6A2.7 1 -21.1 1 0 461.1 179.6A2.7 1 -21.1 1 0 456.1 181.6zM444.6 182.9A2.7 1 -14.2 1 0 449.8 181.6A2.7 1 -14.2 1 0 444.6 182.9zM450.9 155A2.2 1.2 -18.2 1 0 455.1 153.6A2.2 1.2 -18.2 1 0 450.9 155zM476 172.2A2.7 1.2 -9.9 1 0 481.2 171.3A2.7 1.2 -9.9 1 0 476 172.2zM423.3 172.9A1.9 1.1 -11.2 1 0 427.1 172.2A1.9 1.1 -11.2 1 0 423.3 172.9zM464.1 176.9A2 1.4 -13.5 1 0 468.1 175.9A2 1.4 -13.5 1 0 464.1 176.9zM430.9 160.4A2.3 1.1 -7.5 1 0 435.4 159.8A2.3 1.1 -7.5 1 0 430.9 160.4zM475.1 183.3A2.1 1 -7.3 1 0 479.3 182.8A2.1 1 -7.3 1 0 475.1 183.3zM475.2 184.7A2.1 1 -18 1 0 479.1 183.5A2.1 1 -18 1 0 475.2 184.7zM474.3 183A1.4 0.8 -9.9 1 0 476.9 182.5A1.4 0.8 -9.9 1 0 474.3 183zM473.7 168.5A2.1 1.1 -18.9 1 0 477.7 167.1A2.1 1.1 -18.9 1 0 473.7 168.5zM429.2 173.7A2.4 1.2 -12.8 1 0 433.9 172.7A2.4 1.2 -12.8 1 0 429.2 173.7zM468.8 161.2A1.8 0.9 -19.4 1 0 472.2 160A1.8 0.9 -19.4 1 0 468.8 161.2zM467.1 161.9A2.1 1.2 -11.7 1 0 471.3 161.1A2.1 1.2 -11.7 1 0 467.1 161.9zM432.3 166.9A2.5 1.2 -8.2 1 0 437.3 166.2A2.5 1.2 -8.2 1 0 432.3 166.9zM437.6 153.9A1.9 1.4 -11.3 1 0 441.3 153.2A1.9 1.4 -11.3 1 0 437.6 153.9zM435.3 164.5A2.1 1.2 -24.2 1 0 439.2 162.7A2.1 1.2 -24.2 1 0 435.3 164.5zM433.4 165.2A1.6 0.8 -11.6 1 0 436.5 164.6A1.6 0.8 -11.6 1 0 433.4 165.2zM429.1 176.8A1.8 1.2 -6.1 1 0 432.7 176.4A1.8 1.2 -6.1 1 0 429.1 176.8zM468.3 165.7A2.3 1 -7.5 1 0 472.9 165.1A2.3 1 -7.5 1 0 468.3 165.7zM451.8 170.1A2.1 1.3 -7.2 1 0 456 169.6A2.1 1.3 -7.2 1 0 451.8 170.1zM457.1 154.3A2.1 1.2 -7.3 1 0 461.3 153.8A2.1 1.2 -7.3 1 0 457.1 154.3zM455.8 173.2A2.6 1.2 -24.1 1 0 460.5 171.1A2.6 1.2 -24.1 1 0 455.8 173.2zM466.9 173.3A2.2 1.2 -15 1 0 471.1 172.2A2.2 1.2 -15 1 0 466.9 173.3zM491.3 167.5A2.1 1.4 -9.4 1 0 495.4 166.9A2.1 1.4 -9.4 1 0 491.3 167.5zM440.7 168.4A1.9 1.1 -17.2 1 0 444.3 167.3A1.9 1.1 -17.2 1 0 440.7 168.4zM459.5 161.6A1.8 1 -18 1 0 463 160.4A1.8 1 -18 1 0 459.5 161.6zM448.7 173.8A2.3 1.3 -23.5 1 0 453 171.9A2.3 1.3 -23.5 1 0 448.7 173.8zM449.9 174.5A1.5 0.9 -19.4 1 0 452.8 173.5A1.5 0.9 -19.4 1 0 449.9 174.5zM463.1 183.8A1.9 1.1 -9 1 0 466.9 183.2A1.9 1.1 -9 1 0 463.1 183.8zM465.6 183.6A1.9 1.3 -22.3 1 0 469.1 182.2A1.9 1.3 -22.3 1 0 465.6 183.6zM462.4 184.2A1 0.9 -23.4 1 0 464.2 183.4A1 0.9 -23.4 1 0 462.4 184.2zM474.4 175.4A2.1 1.3 -12.6 1 0 478.5 174.5A2.1 1.3 -12.6 1 0 474.4 175.4zM438 157.2A2.5 1.4 -15.6 1 0 442.7 155.9A2.5 1.4 -15.6 1 0 438 157.2zM447.6 157.7A2 1.4 -10.6 1 0 451.4 157A2 1.4 -10.6 1 0 447.6 157.7zM445.1 165.3A2.5 1.3 -24.2 1 0 449.7 163.2A2.5 1.3 -24.2 1 0 445.1 165.3zM428.2 182A2.7 1.4 -17 1 0 433.4 180.4A2.7 1.4 -17 1 0 428.2 182zM429.2 181.9A1.4 1 -11.7 1 0 431.9 181.3A1.4 1 -11.7 1 0 429.2 181.9zM438.9 161.7A2.4 1.1 -15.9 1 0 443.5 160.3A2.4 1.1 -15.9 1 0 438.9 161.7z"/>
<polygon points="408.8,150 436.5,116.8 506.5,116.8 478.8,150" fill="#000"/>
<path clip-path="url(#c17)" fill="#fff" d="M456.3 134.6A2.6 1.1 -6.7 1 0 461.4 134A2.6 1.1 -6.7 1 0 456.3 134.6zM472.4 128A2.1 1.3 -22.4 1 0 476.3 126.4A2.1 1.3 -22.4 1 0 472.4 128zM424.8 142.9A3.1 1.2 -9.6 1 0 430.9 141.8A3.1 1.2 -9.6 1 0 424.8 142.9zM434.5 141.5A2.3 1.1 -22.2 1 0 438.7 139.7A2.3 1.1 -22.2 1 0 434.5 141.5zM413.3 146.4A2.8 1 -16.2 1 0 418.6 144.9A2.8 1 -16.2 1 0 413.3 146.4zM431.4 125.5A2.3 1.4 -14.1 1 0 435.9 124.4A2.3 1.4 -14.1 1 0 431.4 125.5zM474.9 140.8A2.7 1.2 -7.6 1 0 480.3 140.1A2.7 1.2 -7.6 1 0 474.9 140.8zM435.1 117.6A2.2 1.2 -15.9 1 0 439.3 116.4A2.2 1.2 -15.9 1 0 435.1 117.6zM448 144.9A3.1 1.2 -9 1 0 454.1 143.9A3.1 1.2 -9 1 0 448 144.9zM435.5 122.5A2.9 1.1 -13 1 0 441.2 121.2A2.9 1.1 -13 1 0 435.5 122.5zM451.1 118.9A2.6 1 -24.4 1 0 455.9 116.7A2.6 1 -24.4 1 0 451.1 118.9zM455.9 144.1A2.5 1.2 -18.7 1 0 460.6 142.5A2.5 1.2 -18.7 1 0 455.9 144.1zM489.7 122A3 1 -8.4 1 0 495.8 121.1A3 1 -8.4 1 0 489.7 122zM479.2 144.6A2.4 1.2 -12.1 1 0 483.9 143.6A2.4 1.2 -12.1 1 0 479.2 144.6zM481.9 145.2A1.3 0.7 -10.3 1 0 484.4 144.8A1.3 0.7 -10.3 1 0 481.9 145.2zM421.8 147A3 1.1 -9.1 1 0 427.6 146.1A3 1.1 -9.1 1 0 421.8 147zM449.8 139.9A2.3 1.3 -17.1 1 0 454.3 138.5A2.3 1.3 -17.1 1 0 449.8 139.9zM448.8 138.7A1.7 1.2 -20.6 1 0 452 137.5A1.7 1.2 -20.6 1 0 448.8 138.7zM453.7 139.8A2.2 0.9 -17.3 1 0 457.9 138.5A2.2 0.9 -17.3 1 0 453.7 139.8zM438.5 146.7A3.2 1 -24.7 1 0 444.2 144A3.2 1 -24.7 1 0 438.5 146.7zM441.7 128A2.7 1.4 -15.7 1 0 447 126.5A2.7 1.4 -15.7 1 0 441.7 128zM447 136.8A2.5 1.1 -24.8 1 0 451.5 134.7A2.5 1.1 -24.8 1 0 447 136.8zM426.4 150.4A2.8 1.1 -22.6 1 0 431.5 148.3A2.8 1.1 -22.6 1 0 426.4 150.4zM471.2 146.9A2.2 1.3 -9 1 0 475.6 146.2A2.2 1.3 -9 1 0 471.2 146.9zM439.1 132.2A3.1 1 -8 1 0 445.3 131.3A3.1 1 -8 1 0 439.1 132.2zM474 120.3A2.7 1.3 -14.9 1 0 479.2 118.9A2.7 1.3 -14.9 1 0 474 120.3zM457.5 130A2.8 1.3 -16.5 1 0 463 128.4A2.8 1.3 -16.5 1 0 457.5 130zM480.3 128.4A3.2 1 -17 1 0 486.4 126.6A3.2 1 -17 1 0 480.3 128.4zM481 136.6A2.4 1.4 -11.9 1 0 485.8 135.5A2.4 1.4 -11.9 1 0 481 136.6zM479.6 124.6A3 1.1 -20.9 1 0 485.3 122.5A3 1.1 -20.9 1 0 479.6 124.6z"/>
<polygon points="408.4,113.6 436.5,80.5 506.7,80.5 478.6,113.6" fill="#000"/>
<path clip-path="url(#c18)" fill="#fff" d="M478.1 100.7A1.3 0.6 -18.6 1 0 480.5 99.9A1.3 0.6 -18.6 1 0 478.1 100.7zM472.2 99.6A1.1 0.7 -23.3 1 0 474.3 98.7A1.1 0.7 -23.3 1 0 472.2 99.6zM478 104A0.9 0.5 -13.1 1 0 479.7 103.6A0.9 0.5 -13.1 1 0 478 104zM454.5 93.7A1 0.5 -5.4 1 0 456.5 93.5A1 0.5 -5.4 1 0 454.5 93.7z"/>
<polygon points="60.3,432.4 87.5,398.7 158,398.7 130.8,432.4" fill="#000"/>
<g clip-path="url(#c19)"><path filter="url(#sb)" fill="#fff" shape-rendering="crispEdges" d="M109 412h2v1h-2zM94 432h2v1h-2zM124 399h1v1h-1zM133 408h3v1h-3zM127 410h3v1h-3zM98 413h3v1h-3zM120 432h2v1h-2zM77 424h2v1h-2zM97 417h2v1h-2zM76 424h2v1h-2zM68 420h2v1h-2zM90 421h2v1h-2zM113 403h1v1h-1zM77 433h2v1h-2zM116 412h3v1h-3zM85 419h1v1h-1zM119 410h3v1h-3zM109 425h3v1h-3zM123 409h2v1h-2zM122 407h1v1h-1zM104 427h2v1h-2zM124 428h1v1h-1zM150 401h1v1h-1zM109 413h1v1h-1zM130 409h2v1h-2zM88 418h3v1h-3zM84 432h1v1h-1zM112 407h3v1h-3zM88 409h1v1h-1zM71 418h3v1h-3zM93 402h3v1h-3zM120 416h2v1h-2zM70 420h2v1h-2zM70 432h3v1h-3zM66 430h1v1h-1zM88 408h2v1h-2zM60 430h3v1h-3zM101 432h1v1h-1zM86 404h2v1h-2zM95 404h1v1h-1zM83 406h3v1h-3zM97 424h3v1h-3zM103 427h1v1h-1zM72 420h2v1h-2zM146 411h3v1h-3zM124 398h2v1h-2zM84 428h3v1h-3zM93 416h2v1h-2zM83 401h2v1h-2zM114 416h3v1h-3zM131 431h2v1h-2zM101 411h2v1h-2zM62 433h3v1h-3zM128 420h2v1h-2zM130 429h3v1h-3zM128 429h3v1h-3zM89 433h1v1h-1zM102 420h2v1h-2zM72 428h3v1h-3zM78 420h2v1h-2zM89 415h1v1h-1zM111 428h1v1h-1zM123 398h1v1h-1zM119 425h1v1h-1zM107 398h3v1h-3zM110 412h1v1h-1zM72 415h1v1h-1zM119 424h1v1h-1zM107 400h1v1h-1zM151 404h3v1h-3zM68 432h3v1h-3zM101 409h1v1h-1zM124 405h2v1h-2zM121 404h2v1h-2zM75 428h1v1h-1zM75 431h1v1h-1zM113 429h2v1h-2zM78 428h1v1h-1zM100 401h1v1h-1zM129 410h3v1h-3zM127 406h3v1h-3zM118 408h3v1h-3zM129 431h2v1h-2zM77 413h2v1h-2zM153 401h1v1h-1zM109 415h1v1h-1zM141 404h3v1h-3zM74 428h2v1h-2zM127 412h1v1h-1zM93 419h2v1h-2zM126 413h3v1h-3zM96 430h1v1h-1zM63 431h3v1h-3zM143 411h3v1h-3zM115 402h2v1h-2zM124 409h2v1h-2zM126 410h2v1h-2zM112 410h3v1h-3zM130 427h3v1h-3zM100 411h2v1h-2zM97 432h2v1h-2zM103 407h3v1h-3zM68 432h2v1h-2zM111 408h1v1h-1zM98 414h2v1h-2zM146 398h1v1h-1zM64 431h1v1h-1zM125 401h1v1h-1zM119 426h3v1h-3zM89 401h3v1h-3zM92 429h1v1h-1zM59 433h3v1h-3zM129 413h2v1h-2zM75 415h1v1h-1zM125 430h1v1h-1zM119 420h3v1h-3zM118 433h3v1h-3zM90 408h3v1h-3zM119 432h1v1h-1zM109 427h3v1h-3zM65 426h3v1h-3zM145 407h1v1h-1zM127 423h1v1h-1zM152 399h1v1h-1zM86 429h3v1h-3zM138 400h2v1h-2zM96 413h3v1h-3zM95 416h3v1h-3zM118 410h3v1h-3zM125 417h2v1h-2zM144 402h3v1h-3zM97 414h1v1h-1zM134 406h3v1h-3zM85 399h1v1h-1zM100 432h3v1h-3zM132 418h3v1h-3zM137 398h2v1h-2zM144 405h3v1h-3zM57 433h3v1h-3zM127 432h2v1h-2zM98 418h2v1h-2zM103 414h3v1h-3zM110 402h1v1h-1zM109 426h3v1h-3zM94 405h1v1h-1zM70 431h1v1h-1zM100 431h1v1h-1zM95 398h3v1h-3zM149 408h1v1h-1zM80 413h2v1h-2zM124 425h3v1h-3zM108 398h3v1h-3zM84 423h1v1h-1zM137 410h1v1h-1zM110 430h3v1h-3zM88 420h2v1h-2zM131 414h3v1h-3zM76 415h3v1h-3zM86 419h1v1h-1zM125 405h1v1h-1zM87 399h3v1h-3zM90 411h3v1h-3zM147 402h2v1h-2zM156 401h1v1h-1zM94 424h3v1h-3zM117 402h2v1h-2zM141 407h1v1h-1zM123 411h2v1h-2zM99 425h3v1h-3zM98 427h3v1h-3zM79 415h3v1h-3zM111 413h2v1h-2zM110 412h2v1h-2zM133 412h2v1h-2zM97 414h3v1h-3zM138 421h2v1h-2zM102 416h1v1h-1zM129 419h1v1h-1zM145 406h2v1h-2zM85 406h1v1h-1zM91 424h3v1h-3zM109 404h1v1h-1zM118 421h3v1h-3zM98 432h3v1h-3zM71 428h2v1h-2zM142 406h1v1h-1zM116 422h2v1h-2zM105 400h3v1h-3zM82 419h2v1h-2zM121 401h1v1h-1zM84 403h2v1h-2zM95 413h1v1h-1zM75 430h2v1h-2zM113 418h1v1h-1zM92 418h3v1h-3zM147 407h2v1h-2zM109 418h3v1h-3zM91 407h1v1h-1zM98 421h3v1h-3zM117 421h1v1h-1zM145 410h1v1h-1zM74 420h2v1h-2zM128 423h2v1h-2zM78 411h2v1h-2zM74 418h3v1h-3zM89 418h1v1h-1zM94 408h1v1h-1zM85 402h2v1h-2zM133 401h1v1h-1zM134 405h1v1h-1zM141 406h3v1h-3zM128 411h1v1h-1zM93 408h2v1h-2zM106 430h2v1h-2zM96 430h1v1h-1z"/></g>
<polygon points="60.6,395.5 87.5,362.6 158,362.6 131.1,395.5" fill="#000"/>
<path clip-path="url(#c20)" fill="#fff" d="M141.3 364.4A1.7 0.8 -14.6 1 0 144.5 363.5A1.7 0.8 -14.6 1 0 141.3 364.4zM120.5 385.4A1.9 0.9 -8.8 1 0 124.3 384.9A1.9 0.9 -8.8 1 0 120.5 385.4zM125.3 381.4A1.8 0.7 -21.6 1 0 128.8 380A1.8 0.7 -21.6 1 0 125.3 381.4zM94.9 380.2A2.5 0.7 -19.4 1 0 99.6 378.5A2.5 0.7 -19.4 1 0 94.9 380.2zM116.9 373.5A1.7 1.1 -9.8 1 0 120.3 372.9A1.7 1.1 -9.8 1 0 116.9 373.5zM133.5 365.3A1.9 0.7 -20.6 1 0 137 364A1.9 0.7 -20.6 1 0 133.5 365.3zM66.1 387.5A1.8 0.8 -13.3 1 0 69.6 386.7A1.8 0.8 -13.3 1 0 66.1 387.5zM107.6 374.8A1.5 1 -24.7 1 0 110.4 373.5A1.5 1 -24.7 1 0 107.6 374.8zM95.4 375.3A1.9 0.8 -22 1 0 98.9 373.9A1.9 0.8 -22 1 0 95.4 375.3zM132.6 386.2A1.6 1 -6.9 1 0 135.9 385.8A1.6 1 -6.9 1 0 132.6 386.2zM132.8 387A1 0.9 -23.3 1 0 134.6 386.3A1 0.9 -23.3 1 0 132.8 387zM92.9 382.1A1.8 1.1 -22.8 1 0 96.2 380.7A1.8 1.1 -22.8 1 0 92.9 382.1zM135.1 367A1.9 0.8 -6.8 1 0 138.9 366.6A1.9 0.8 -6.8 1 0 135.1 367zM135.3 368.1A1.3 0.8 -9.5 1 0 137.8 367.7A1.3 0.8 -9.5 1 0 135.3 368.1zM101.4 391.4A1.8 0.9 -5.2 1 0 104.9 391.1A1.8 0.9 -5.2 1 0 101.4 391.4zM104.1 392.1A1.3 0.8 -16 1 0 106.6 391.4A1.3 0.8 -16 1 0 104.1 392.1zM78.4 379.3A1.9 0.8 -20.2 1 0 81.9 378A1.9 0.8 -20.2 1 0 78.4 379.3zM131 382.1A2.1 0.9 -22.1 1 0 134.9 380.5A2.1 0.9 -22.1 1 0 131 382.1zM75.2 394.2A1.8 0.7 -20.5 1 0 78.6 393A1.8 0.7 -20.5 1 0 75.2 394.2zM120.4 390.4A1.9 0.7 -19.4 1 0 124 389.1A1.9 0.7 -19.4 1 0 120.4 390.4zM137.9 382.7A2.1 0.8 -21.5 1 0 141.7 381.2A2.1 0.8 -21.5 1 0 137.9 382.7zM121.7 395.3A2.2 0.8 -13.1 1 0 126 394.3A2.2 0.8 -13.1 1 0 121.7 395.3zM120.3 394.5A0.9 0.8 -8.7 1 0 122.2 394.2A0.9 0.8 -8.7 1 0 120.3 394.5zM88 384.8A1.9 0.8 -14.3 1 0 91.7 383.9A1.9 0.8 -14.3 1 0 88 384.8zM90.2 378.2A2 1 -16.8 1 0 94.1 377A2 1 -16.8 1 0 90.2 378.2zM91.4 377.2A1.2 1 -10.8 1 0 93.8 376.8A1.2 1 -10.8 1 0 91.4 377.2zM112.7 377.6A1.8 0.8 -6.4 1 0 116.3 377.2A1.8 0.8 -6.4 1 0 112.7 377.6zM123.1 383.8A2.3 0.8 -24.8 1 0 127.2 381.9A2.3 0.8 -24.8 1 0 123.1 383.8zM93.4 370.2A2.1 0.9 -23.8 1 0 97.3 368.5A2.1 0.9 -23.8 1 0 93.4 370.2zM88.2 365.5A1.9 0.7 -10.9 1 0 91.9 364.8A1.9 0.7 -10.9 1 0 88.2 365.5zM88.2 366.3A1.8 0.6 -17.5 1 0 91.6 365.2A1.8 0.6 -17.5 1 0 88.2 366.3zM108.1 367.8A2.2 1 -17 1 0 112.2 366.6A2.2 1 -17 1 0 108.1 367.8zM110.7 390.7A1.6 1 -19.5 1 0 113.7 389.6A1.6 1 -19.5 1 0 110.7 390.7zM95.1 386.8A2.4 0.9 -12.1 1 0 99.8 385.8A2.4 0.9 -12.1 1 0 95.1 386.8zM97.7 387.4A1.5 0.8 -22.8 1 0 100.4 386.2A1.5 0.8 -22.8 1 0 97.7 387.4zM127.6 393.8A2.3 0.9 -23.3 1 0 131.7 392A2.3 0.9 -23.3 1 0 127.6 393.8zM126.8 371.6A1.9 0.9 -10.4 1 0 130.6 370.9A1.9 0.9 -10.4 1 0 126.8 371.6zM126.5 372.1A1.1 0.8 -21.3 1 0 128.5 371.3A1.1 0.8 -21.3 1 0 126.5 372.1zM133 372.5A2.5 1.1 -19.7 1 0 137.6 370.8A2.5 1.1 -19.7 1 0 133 372.5zM87.8 374.5A2.4 0.9 -24.1 1 0 92.1 372.6A2.4 0.9 -24.1 1 0 87.8 374.5zM86.3 379.7A1.9 0.9 -11 1 0 90.1 379A1.9 0.9 -11 1 0 86.3 379.7zM138.6 379.4A2.1 0.8 -20.2 1 0 142.5 378A2.1 0.8 -20.2 1 0 138.6 379.4zM106.1 370A2.1 1 -10.6 1 0 110.1 369.2A2.1 1 -10.6 1 0 106.1 370zM126.8 389.2A2.1 0.9 -7.2 1 0 130.9 388.6A2.1 0.9 -7.2 1 0 126.8 389.2zM98.3 370.3A1.9 1.1 -6 1 0 102.2 369.9A1.9 1.1 -6 1 0 98.3 370.3zM97.2 389.1A1.7 0.8 -20.2 1 0 100.4 388A1.7 0.8 -20.2 1 0 97.2 389.1zM89.8 388.6A1.9 0.9 -17.4 1 0 93.5 387.4A1.9 0.9 -17.4 1 0 89.8 388.6zM92.9 389.2A1.3 0.6 -13.1 1 0 95.4 388.6A1.3 0.6 -13.1 1 0 92.9 389.2zM85.9 391.8A1.6 0.9 -24.5 1 0 88.8 390.5A1.6 0.9 -24.5 1 0 85.9 391.8zM150.8 368.5A1.6 1.1 -14.1 1 0 153.9 367.7A1.6 1.1 -14.1 1 0 150.8 368.5zM100.5 376.4A1.8 1.1 -19.8 1 0 103.8 375.2A1.8 1.1 -19.8 1 0 100.5 376.4zM113.4 383.5A2.1 0.9 -13.6 1 0 117.5 382.5A2.1 0.9 -13.6 1 0 113.4 383.5zM104.5 383.9A2.4 0.8 -13.4 1 0 109.2 382.7A2.4 0.8 -13.4 1 0 104.5 383.9zM70.2 390.4A1.6 0.8 -7.4 1 0 73.4 390A1.6 0.8 -7.4 1 0 70.2 390.4zM72.2 390.9A1.8 0.8 -6.2 1 0 75.7 390.6A1.8 0.8 -6.2 1 0 72.2 390.9zM137.7 373.8A2.2 1 -18.3 1 0 141.8 372.4A2.2 1 -18.3 1 0 137.7 373.8zM83.6 367A1.7 0.9 -13.6 1 0 86.9 366.2A1.7 0.9 -13.6 1 0 83.6 367zM93.9 366.2A1.8 0.9 -14.3 1 0 97.3 365.3A1.8 0.9 -14.3 1 0 93.9 366.2zM96.4 365.8A1.2 0.8 -7.9 1 0 98.9 365.5A1.2 0.8 -7.9 1 0 96.4 365.8zM116.1 365.7A2.4 0.8 -21.8 1 0 120.4 363.9A2.4 0.8 -21.8 1 0 116.1 365.7zM113.6 367.5A1.9 1 -9.5 1 0 117.3 366.8A1.9 1 -9.5 1 0 113.6 367.5zM132.6 377A1.6 1 -24.5 1 0 135.6 375.7A1.6 1 -24.5 1 0 132.6 377zM142.9 376.3A1.9 0.7 -20.8 1 0 146.6 374.9A1.9 0.7 -20.8 1 0 142.9 376.3zM140.2 368.3A2.5 1.1 -21.4 1 0 144.8 366.5A2.5 1.1 -21.4 1 0 140.2 368.3zM83.8 384A1.8 1 -17.8 1 0 87.2 382.9A1.8 1 -17.8 1 0 83.8 384zM78.4 382.8A2.1 1 -11.1 1 0 82.4 382A2.1 1 -11.1 1 0 78.4 382.8zM104.8 364.5A1.9 0.8 -11.8 1 0 108.6 363.7A1.9 0.8 -11.8 1 0 104.8 364.5zM64.1 390.4A2.1 0.8 -22.3 1 0 68 388.8A2.1 0.8 -22.3 1 0 64.1 390.4zM69.4 395.3A2 0.7 -19.3 1 0 73.3 393.9A2 0.7 -19.3 1 0 69.4 395.3zM114.9 394.1A1.7 1.1 -23 1 0 118.1 392.7A1.7 1.1 -23 1 0 114.9 394.1zM103.2 395.1A1.5 0.7 -7.6 1 0 106.3 394.7A1.5 0.7 -7.6 1 0 103.2 395.1z"/>
<polygon points="59.9,359.9 86.8,326.6 157.4,326.6 130.5,359.9" fill="#000"/>
<path clip-path="url(#c21)" fill="#fff" d="M104.2 342.2A1.8 0.9 -18.3 1 0 107.7 341A1.8 0.9 -18.3 1 0 104.2 342.2zM102.8 341.4A1.7 1.1 -5.6 1 0 106.1 341.1A1.7 1.1 -5.6 1 0 102.8 341.4zM129.8 335.7A2.3 0.9 -24 1 0 134.1 333.8A2.3 0.9 -24 1 0 129.8 335.7zM71.7 353.7A2.2 0.8 -9 1 0 76.1 353A2.2 0.8 -9 1 0 71.7 353.7zM90.3 344.9A1.9 0.8 -23.6 1 0 93.8 343.4A1.9 0.8 -23.6 1 0 90.3 344.9zM126.3 353.4A2 0.8 -20.7 1 0 129.9 352A2 0.8 -20.7 1 0 126.3 353.4zM124.6 353.2A1.2 0.6 -24.1 1 0 126.7 352.3A1.2 0.6 -24.1 1 0 124.6 353.2zM125 352.7A1.1 0.9 -6.2 1 0 127.2 352.4A1.1 0.9 -6.2 1 0 125 352.7zM102.6 336.8A2.5 1 -20.5 1 0 107.2 335.1A2.5 1 -20.5 1 0 102.6 336.8zM85 330.2A1.8 1.1 -8.1 1 0 88.6 329.7A1.8 1.1 -8.1 1 0 85 330.2zM84.2 345.4A1.8 0.8 -17.2 1 0 87.6 344.4A1.8 0.8 -17.2 1 0 84.2 345.4zM87.4 338.8A2.2 0.9 -15.3 1 0 91.6 337.6A2.2 0.9 -15.3 1 0 87.4 338.8zM112 336.2A1.8 0.9 -21 1 0 115.3 334.9A1.8 0.9 -21 1 0 112 336.2zM123.8 337.1A2.4 1 -18.1 1 0 128.3 335.7A2.4 1 -18.1 1 0 123.8 337.1zM122.1 336.8A1 0.9 -11.7 1 0 124 336.4A1 0.9 -11.7 1 0 122.1 336.8zM127.7 337.1A1.1 0.7 -15.7 1 0 129.9 336.5A1.1 0.7 -15.7 1 0 127.7 337.1zM136.9 333.9A2.4 1.1 -20.2 1 0 141.4 332.3A2.4 1.1 -20.2 1 0 136.9 333.9zM85.9 355.5A2.3 0.8 -16.7 1 0 90.2 354.2A2.3 0.8 -16.7 1 0 85.9 355.5zM88.6 355.5A1.4 1 -8.9 1 0 91.3 355.1A1.4 1 -8.9 1 0 88.6 355.5zM88.9 355.8A1.5 0.7 -5.3 1 0 91.9 355.5A1.5 0.7 -5.3 1 0 88.9 355.8zM135.1 329.6A2.5 1 -21.5 1 0 139.7 327.8A2.5 1 -21.5 1 0 135.1 329.6zM121.2 344.6A2.4 0.9 -15.9 1 0 125.9 343.3A2.4 0.9 -15.9 1 0 121.2 344.6zM106.3 356.5A1.8 1.1 -7.5 1 0 110 356A1.8 1.1 -7.5 1 0 106.3 356.5zM66.8 356.5A1.6 0.9 -24.4 1 0 69.7 355.2A1.6 0.9 -24.4 1 0 66.8 356.5zM121.4 331.9A1.5 1.1 -12.8 1 0 124.4 331.2A1.5 1.1 -12.8 1 0 121.4 331.9zM96.3 353.1A1.9 1.1 -22.4 1 0 99.9 351.7A1.9 1.1 -22.4 1 0 96.3 353.1zM97.3 334.7A1.8 0.9 -17.2 1 0 100.7 333.6A1.8 0.9 -17.2 1 0 97.3 334.7zM95.6 335.3A1.4 0.7 -5.5 1 0 98.3 335.1A1.4 0.7 -5.5 1 0 95.6 335.3zM101.1 333.9A0.9 0.5 -7.8 1 0 102.9 333.7A0.9 0.5 -7.8 1 0 101.1 333.9zM111.3 358.2A2 1.2 -7.7 1 0 115.2 357.7A2 1.2 -7.7 1 0 111.3 358.2zM80.7 341.2A2.1 1 -20.8 1 0 84.6 339.8A2.1 1 -20.8 1 0 80.7 341.2zM130.3 327.4A1.5 1 -10 1 0 133.3 326.9A1.5 1 -10 1 0 130.3 327.4zM105.7 329.7A1.7 1.1 -18.8 1 0 108.9 328.7A1.7 1.1 -18.8 1 0 105.7 329.7zM126.9 356.5A1.6 0.8 -21.1 1 0 129.9 355.3A1.6 0.8 -21.1 1 0 126.9 356.5zM130.6 351A1.9 1 -9.7 1 0 134.4 350.3A1.9 1 -9.7 1 0 130.6 351zM128.9 352A1.8 1.1 -12.8 1 0 132.4 351.2A1.8 1.1 -12.8 1 0 128.9 352zM132.5 351.8A1.7 0.8 -12.8 1 0 135.8 351A1.7 0.8 -12.8 1 0 132.5 351.8zM99.4 358.7A2.4 1.2 -12.5 1 0 104.2 357.6A2.4 1.2 -12.5 1 0 99.4 358.7zM100.2 357.4A1.3 0.9 -7.7 1 0 102.8 357A1.3 0.9 -7.7 1 0 100.2 357.4zM98.2 359.2A1.1 0.7 -18.9 1 0 100.4 358.5A1.1 0.7 -18.9 1 0 98.2 359.2zM110.4 348.5A1.7 1 -18.2 1 0 113.7 347.4A1.7 1 -18.2 1 0 110.4 348.5zM81.3 349.9A2.2 0.9 -11.6 1 0 85.6 349A2.2 0.9 -11.6 1 0 81.3 349.9zM132.6 354.7A2 0.8 -6.1 1 0 136.5 354.3A2 0.8 -6.1 1 0 132.6 354.7z"/>
<polygon points="59.6,324 87.5,290.9 157.4,290.9 129.5,324" fill="#000"/>
<path clip-path="url(#c22)" fill="#fff" d="M99.7 301.2A1 0.6 -25 1 0 101.6 300.3A1 0.6 -25 1 0 99.7 301.2zM131.2 306.5A0.6 0.7 -24.2 1 0 132.3 305.9A0.6 0.7 -24.2 1 0 131.2 306.5zM92 302.6A1 0.6 -12.3 1 0 93.9 302.2A1 0.6 -12.3 1 0 92 302.6zM91 302.4A0.6 0.3 -15.1 1 0 92.2 302A0.6 0.3 -15.1 1 0 91 302.4zM91.7 310.1A0.6 0.5 -20.4 1 0 92.8 309.7A0.6 0.5 -20.4 1 0 91.7 310.1zM136.4 309.1A1.1 0.6 -15.3 1 0 138.5 308.5A1.1 0.6 -15.3 1 0 136.4 309.1zM145.1 298A0.7 0.6 -7.1 1 0 146.5 297.8A0.7 0.6 -7.1 1 0 145.1 298zM144.7 298.4A0.6 0.6 -5 1 0 146 298.3A0.6 0.6 -5 1 0 144.7 298.4zM145.1 298.3A0.4 0.4 -9 1 0 145.9 298.2A0.4 0.4 -9 1 0 145.1 298.3z"/>
<polygon points="173.2,432.6 201,398.4 270.7,398.4 242.9,432.6" fill="#000"/>
<g clip-path="url(#c23)"><path filter="url(#sb)" fill="#fff" shape-rendering="crispEdges" d="M217 398h2v1h-2zM224 432h1v1h-1zM201 404h2v1h-2zM185 425h3v1h-3zM264 405h1v1h-1zM187 428h2v1h-2zM220 398h2v1h-2zM234 411h2v1h-2zM247 420h1v1h-1zM231 401h3v1h-3zM196 418h1v1h-1zM252 418h3v1h-3zM207 405h3v1h-3zM229 425h3v1h-3zM217 412h1v1h-1zM213 424h2v1h-2zM236 413h1v1h-1zM201 422h3v1h-3zM220 430h1v1h-1zM211 431h1v1h-1zM203 399h3v1h-3zM211 408h2v1h-2zM224 413h3v1h-3zM217 423h3v1h-3zM234 424h1v1h-1zM205 410h1v1h-1zM258 410h2v1h-2zM260 410h2v1h-2zM191 409h1v1h-1zM198 424h1v1h-1zM249 407h1v1h-1zM221 416h3v1h-3zM217 426h2v1h-2zM189 420h2v1h-2zM240 416h3v1h-3zM194 404h1v1h-1zM234 420h3v1h-3zM214 420h1v1h-1zM179 432h1v1h-1zM246 411h1v1h-1zM190 428h2v1h-2zM232 416h2v1h-2zM242 420h1v1h-1zM226 399h2v1h-2zM249 411h3v1h-3zM188 428h2v1h-2zM214 403h3v1h-3zM197 410h2v1h-2zM238 406h3v1h-3zM200 426h2v1h-2zM255 408h3v1h-3zM221 400h2v1h-2zM234 399h3v1h-3zM180 425h1v1h-1zM208 432h1v1h-1zM258 408h3v1h-3zM213 409h2v1h-2zM245 422h2v1h-2zM217 421h1v1h-1zM211 417h3v1h-3zM212 432h1v1h-1zM218 404h3v1h-3zM240 421h3v1h-3zM247 404h2v1h-2zM243 409h1v1h-1zM225 419h3v1h-3zM249 400h3v1h-3zM200 423h3v1h-3zM233 427h2v1h-2zM210 425h2v1h-2zM242 414h3v1h-3zM216 408h3v1h-3zM235 405h2v1h-2zM225 415h2v1h-2zM237 423h1v1h-1zM194 422h1v1h-1zM240 426h3v1h-3zM260 404h3v1h-3zM198 401h3v1h-3zM208 423h1v1h-1zM244 405h3v1h-3zM237 406h1v1h-1zM241 419h3v1h-3zM231 398h1v1h-1zM262 400h1v1h-1zM217 425h1v1h-1zM191 412h3v1h-3zM224 418h2v1h-2zM210 429h3v1h-3zM245 399h2v1h-2zM248 420h3v1h-3zM193 408h2v1h-2zM184 431h3v1h-3zM229 424h1v1h-1zM200 410h2v1h-2zM187 424h2v1h-2zM223 421h1v1h-1zM223 420h2v1h-2zM230 410h1v1h-1zM247 407h2v1h-2zM197 422h1v1h-1zM263 398h1v1h-1zM188 414h2v1h-2zM188 416h3v1h-3zM190 423h1v1h-1zM231 432h2v1h-2zM213 420h2v1h-2zM184 417h1v1h-1zM243 418h2v1h-2zM265 403h1v1h-1zM223 424h2v1h-2zM187 421h2v1h-2zM246 420h1v1h-1zM204 429h1v1h-1zM196 432h2v1h-2zM227 427h3v1h-3zM240 399h1v1h-1zM209 407h1v1h-1zM215 409h3v1h-3zM247 406h1v1h-1zM209 423h3v1h-3zM264 400h1v1h-1zM193 408h1v1h-1zM210 419h1v1h-1zM208 423h3v1h-3zM240 425h2v1h-2zM223 416h3v1h-3zM205 402h2v1h-2zM196 410h2v1h-2zM219 407h2v1h-2zM243 414h2v1h-2zM232 423h3v1h-3zM240 409h3v1h-3zM204 418h3v1h-3zM263 403h3v1h-3zM259 408h1v1h-1zM250 416h2v1h-2zM259 402h1v1h-1zM243 424h2v1h-2zM266 398h3v1h-3zM248 407h1v1h-1zM231 420h1v1h-1zM223 404h1v1h-1zM220 413h3v1h-3zM215 411h3v1h-3zM216 402h3v1h-3zM176 429h1v1h-1zM214 428h3v1h-3zM188 416h3v1h-3zM221 427h2v1h-2zM220 421h2v1h-2zM200 418h2v1h-2zM186 433h1v1h-1zM200 408h1v1h-1zM241 417h1v1h-1zM189 416h3v1h-3zM247 409h2v1h-2zM184 426h1v1h-1zM230 399h3v1h-3zM224 425h3v1h-3zM197 412h2v1h-2zM208 403h1v1h-1zM210 423h1v1h-1zM191 410h2v1h-2zM194 405h1v1h-1zM228 418h2v1h-2zM251 420h3v1h-3zM205 430h2v1h-2zM246 399h2v1h-2zM185 432h3v1h-3zM246 409h3v1h-3zM192 433h3v1h-3zM241 402h2v1h-2zM239 429h2v1h-2zM196 402h1v1h-1zM189 428h2v1h-2zM223 427h2v1h-2zM238 404h2v1h-2zM229 423h3v1h-3zM192 427h2v1h-2zM177 431h3v1h-3zM192 432h1v1h-1zM206 405h1v1h-1zM198 432h3v1h-3zM253 402h3v1h-3zM243 429h3v1h-3zM202 418h1v1h-1zM190 408h2v1h-2zM217 406h1v1h-1zM236 409h2v1h-2zM176 431h3v1h-3zM222 405h2v1h-2zM185 431h3v1h-3zM235 422h1v1h-1zM225 424h3v1h-3zM252 407h2v1h-2zM203 404h2v1h-2zM213 424h1v1h-1zM199 430h2v1h-2zM190 433h1v1h-1zM187 420h2v1h-2zM234 429h1v1h-1zM196 423h1v1h-1zM191 428h2v1h-2zM200 417h1v1h-1zM247 401h2v1h-2zM191 409h1v1h-1zM198 424h3v1h-3zM254 400h2v1h-2zM204 433h1v1h-1zM213 419h3v1h-3zM181 429h2v1h-2zM227 426h1v1h-1zM190 433h1v1h-1zM205 398h2v1h-2zM245 401h1v1h-1zM203 424h3v1h-3zM179 433h3v1h-3zM214 426h3v1h-3zM188 417h1v1h-1zM252 398h1v1h-1zM207 399h3v1h-3zM201 421h1v1h-1zM213 401h2v1h-2zM200 409h1v1h-1zM231 418h1v1h-1zM199 405h3v1h-3zM206 409h2v1h-2zM187 416h3v1h-3zM179 431h2v1h-2z"/></g>
<polygon points="174.4,395.5 201,361.5 271.1,361.5 244.5,395.5" fill="#000"/>
<path clip-path="url(#c24)" fill="#fff" d="M224.5 375.6A2.1 0.7 -24 1 0 228.3 374A2.1 0.7 -24 1 0 224.5 375.6zM207.7 367.5A1.8 0.8 -20.8 1 0 211.1 366.2A1.8 0.8 -20.8 1 0 207.7 367.5zM209.9 367.5A1 0.7 -14.1 1 0 211.8 367A1 0.7 -14.1 1 0 209.9 367.5zM181.4 387.9A2.8 0.8 -19.5 1 0 186.8 386A2.8 0.8 -19.5 1 0 181.4 387.9zM180.1 395.1A1.7 0.7 -7.4 1 0 183.4 394.7A1.7 0.7 -7.4 1 0 180.1 395.1zM179.5 396.1A1.3 0.8 -5.6 1 0 182.1 395.8A1.3 0.8 -5.6 1 0 179.5 396.1zM237.5 388.4A1.9 1.1 -18.1 1 0 241.1 387.2A1.9 1.1 -18.1 1 0 237.5 388.4zM203 365.3A2.1 1.1 -9.6 1 0 207.1 364.6A2.1 1.1 -9.6 1 0 203 365.3zM200.2 364.2A1.9 0.5 -5.7 1 0 204.1 363.9A1.9 0.5 -5.7 1 0 200.2 364.2zM200.7 365.4A2.3 0.7 -19.1 1 0 205 363.9A2.3 0.7 -19.1 1 0 200.7 365.4zM212.9 387.2A2.6 1 -19 1 0 217.8 385.5A2.6 1 -19 1 0 212.9 387.2zM258.9 365.1A1.7 1.1 -7.7 1 0 262.3 364.7A1.7 1.1 -7.7 1 0 258.9 365.1zM204 369.2A2.3 1 -8 1 0 208.5 368.6A2.3 1 -8 1 0 204 369.2zM210.6 372.8A2.1 0.9 -6.1 1 0 214.9 372.3A2.1 0.9 -6.1 1 0 210.6 372.8zM197.3 381.2A2.1 0.8 -14.5 1 0 201.3 380.1A2.1 0.8 -14.5 1 0 197.3 381.2zM208.4 363A2 0.9 -16.9 1 0 212.2 361.8A2 0.9 -16.9 1 0 208.4 363zM248.6 371.9A2.5 1 -22.6 1 0 253.1 370A2.5 1 -22.6 1 0 248.6 371.9zM248.5 372.4A1.4 0.9 -19.9 1 0 251.2 371.4A1.4 0.9 -19.9 1 0 248.5 372.4zM247.3 372.7A2 0.9 -22.2 1 0 251 371.1A2 0.9 -22.2 1 0 247.3 372.7zM227 391.9A2.4 1 -10.3 1 0 231.8 391A2.4 1 -10.3 1 0 227 391.9zM188.5 383.4A2.9 0.8 -22.7 1 0 193.7 381.2A2.9 0.8 -22.7 1 0 188.5 383.4zM262.9 368.6A2.2 1.1 -17.8 1 0 267.1 367.2A2.2 1.1 -17.8 1 0 262.9 368.6zM201.1 376.1A2.1 1.1 -19.8 1 0 204.9 374.7A2.1 1.1 -19.8 1 0 201.1 376.1zM204.1 376A1 0.5 -11.6 1 0 206 375.6A1 0.5 -11.6 1 0 204.1 376zM199.9 375.9A2.5 0.5 -8.5 1 0 204.9 375.2A2.5 0.5 -8.5 1 0 199.9 375.9zM245 369.3A2.1 0.9 -11.4 1 0 249.1 368.4A2.1 0.9 -11.4 1 0 245 369.3zM248.4 368.5A2.1 0.6 -8.2 1 0 252.6 367.9A2.1 0.6 -8.2 1 0 248.4 368.5zM242.3 370.2A1.9 0.5 -13.8 1 0 246 369.3A1.9 0.5 -13.8 1 0 242.3 370.2zM217.3 367.2A1.9 1 -6.7 1 0 221 366.7A1.9 1 -6.7 1 0 217.3 367.2zM232.4 385.8A1.6 0.8 -10.8 1 0 235.4 385.2A1.6 0.8 -10.8 1 0 232.4 385.8zM232.4 385.2A1.4 0.6 -12.2 1 0 235.1 384.7A1.4 0.6 -12.2 1 0 232.4 385.2zM243.7 376.6A1.6 1 -13.2 1 0 246.7 375.9A1.6 1 -13.2 1 0 243.7 376.6zM254.8 377.2A1.9 0.8 -20.2 1 0 258.3 375.9A1.9 0.8 -20.2 1 0 254.8 377.2zM196.4 387A1.5 0.8 -7.2 1 0 199.4 386.6A1.5 0.8 -7.2 1 0 196.4 387zM201.6 372.3A1.7 0.9 -9.7 1 0 204.9 371.7A1.7 0.9 -9.7 1 0 201.6 372.3zM187.7 391.9A2.2 0.9 -20.4 1 0 191.9 390.3A2.2 0.9 -20.4 1 0 187.7 391.9zM224.1 393.1A1.7 0.9 -5.8 1 0 227.6 392.8A1.7 0.9 -5.8 1 0 224.1 393.1zM212.2 368.5A2.2 1 -14.6 1 0 216.4 367.4A2.2 1 -14.6 1 0 212.2 368.5zM210 368.1A2 0.5 -18.2 1 0 213.8 366.9A2 0.5 -18.2 1 0 210 368.1zM245 390.6A1.7 0.8 -23.7 1 0 248.1 389.2A1.7 0.8 -23.7 1 0 245 390.6zM247.6 390.7A2.1 0.6 -10.7 1 0 251.8 389.9A2.1 0.6 -10.7 1 0 247.6 390.7zM184.9 395.5A2.5 0.9 -23.4 1 0 189.6 393.5A2.5 0.9 -23.4 1 0 184.9 395.5zM241 382.8A2.1 0.8 -11.3 1 0 245 382A2.1 0.8 -11.3 1 0 241 382.8zM205.7 391.3A2.2 0.9 -14.3 1 0 210 390.3A2.2 0.9 -14.3 1 0 205.7 391.3zM231.7 390.7A1.6 0.7 -20.4 1 0 234.8 389.6A1.6 0.7 -20.4 1 0 231.7 390.7zM251.2 374.8A2.1 1.1 -15 1 0 255.2 373.7A2.1 1.1 -15 1 0 251.2 374.8zM256.5 362.8A2.2 1.1 -12 1 0 260.7 361.9A2.2 1.1 -12 1 0 256.5 362.8zM206.8 379.1A2.5 1.1 -7.9 1 0 211.7 378.4A2.5 1.1 -7.9 1 0 206.8 379.1zM218.9 381.8A2.6 1 -5.8 1 0 224 381.3A2.6 1 -5.8 1 0 218.9 381.8zM223 369.3A2.7 1 -7.4 1 0 228.4 368.6A2.7 1 -7.4 1 0 223 369.3zM211 391.4A2.8 1 -17.6 1 0 216.3 389.7A2.8 1 -17.6 1 0 211 391.4zM233 362A2 0.7 -13.9 1 0 237 361A2 0.7 -13.9 1 0 233 362zM217.3 370.4A1.6 1 -19.5 1 0 220.2 369.3A1.6 1 -19.5 1 0 217.3 370.4zM219.2 369.9A1.8 0.7 -13.1 1 0 222.6 369.1A1.8 0.7 -13.1 1 0 219.2 369.9zM228.4 381.8A2.6 1.1 -24.7 1 0 233.1 379.7A2.6 1.1 -24.7 1 0 228.4 381.8zM245 385.5A2.1 1 -12 1 0 249.1 384.7A2.1 1 -12 1 0 245 385.5zM211.5 383.2A2.6 1 -10.3 1 0 216.7 382.3A2.6 1 -10.3 1 0 211.5 383.2zM215.9 384A1.3 0.7 -8.7 1 0 218.5 383.6A1.3 0.7 -8.7 1 0 215.9 384zM211.7 382.8A1 0.8 -22.8 1 0 213.5 382A1 0.8 -22.8 1 0 211.7 382.8zM235.1 384.4A1.8 0.8 -21.6 1 0 238.4 383.1A1.8 0.8 -21.6 1 0 235.1 384.4zM194.5 375.5A2.8 0.9 -15.6 1 0 200 374A2.8 0.9 -15.6 1 0 194.5 375.5zM247.9 387.9A2.7 0.9 -19.6 1 0 253.1 386.1A2.7 0.9 -19.6 1 0 247.9 387.9zM248 378.5A3 1 -14.8 1 0 253.7 377A3 1 -14.8 1 0 248 378.5zM251 364.1A2 1 -13.1 1 0 254.9 363.2A2 1 -13.1 1 0 251 364.1zM234.6 366.8A2.8 0.9 -13.2 1 0 240 365.5A2.8 0.9 -13.2 1 0 234.6 366.8zM257 370A2 0.8 -13.9 1 0 260.8 369A2 0.8 -13.9 1 0 257 370zM215.9 377.5A2.2 1 -5.8 1 0 220.3 377A2.2 1 -5.8 1 0 215.9 377.5zM205.3 373.2A2.7 1 -21.5 1 0 210.4 371.2A2.7 1 -21.5 1 0 205.3 373.2zM226.1 387.4A2.5 0.9 -20 1 0 230.8 385.7A2.5 0.9 -20 1 0 226.1 387.4zM203.6 381.5A2.6 0.9 -13.4 1 0 208.6 380.3A2.6 0.9 -13.4 1 0 203.6 381.5zM252.5 367.7A2.4 0.7 -7.6 1 0 257.2 367.1A2.4 0.7 -7.6 1 0 252.5 367.7z"/>
<polygon points="173.8,358.4 202.4,324.9 271.6,324.9 243,358.4" fill="#000"/>
<path clip-path="url(#c25)" fill="#fff" d="M210 335.1A1.4 1 -12.3 1 0 212.7 334.6A1.4 1 -12.3 1 0 210 335.1zM222.7 347.4A1.7 0.9 -13.3 1 0 225.9 346.6A1.7 0.9 -13.3 1 0 222.7 347.4zM202.9 357.7A1.9 0.7 -19.7 1 0 206.4 356.5A1.9 0.7 -19.7 1 0 202.9 357.7zM216 335.8A1.4 0.7 -9.7 1 0 218.7 335.4A1.4 0.7 -9.7 1 0 216 335.8zM258.5 331.3A1.4 0.8 -19.9 1 0 261.1 330.3A1.4 0.8 -19.9 1 0 258.5 331.3zM209.9 343.8A1.7 0.7 -22.3 1 0 213.1 342.5A1.7 0.7 -22.3 1 0 209.9 343.8zM208.4 343.1A1.5 0.7 -12 1 0 211.3 342.5A1.5 0.7 -12 1 0 208.4 343.1zM210.8 342.8A0.7 0.4 -18.5 1 0 212.3 342.3A0.7 0.4 -18.5 1 0 210.8 342.8zM247.8 330.5A2 0.6 -12.1 1 0 251.7 329.6A2 0.6 -12.1 1 0 247.8 330.5zM262.7 329.4A1.8 0.7 -21.2 1 0 266.1 328.1A1.8 0.7 -21.2 1 0 262.7 329.4zM214.3 346.3A1.8 0.8 -13.6 1 0 217.9 345.5A1.8 0.8 -13.6 1 0 214.3 346.3zM234.3 328.9A1.9 0.9 -6.9 1 0 238.1 328.5A1.9 0.9 -6.9 1 0 234.3 328.9zM200.1 329A1.5 0.8 -5 1 0 203.1 328.7A1.5 0.8 -5 1 0 200.1 329zM182.1 355.4A1.7 1 -14.9 1 0 185.4 354.5A1.7 1 -14.9 1 0 182.1 355.4zM193.1 347.4A2 0.7 -18.7 1 0 196.8 346.1A2 0.7 -18.7 1 0 193.1 347.4zM207 348.7A1.9 0.9 -6 1 0 210.8 348.3A1.9 0.9 -6 1 0 207 348.7zM239.9 355.9A1.6 0.8 -7.1 1 0 243 355.6A1.6 0.8 -7.1 1 0 239.9 355.9zM228.8 357A1.5 0.6 -10.9 1 0 231.8 356.4A1.5 0.6 -10.9 1 0 228.8 357zM216 330.5A1.9 0.7 -11.8 1 0 219.7 329.8A1.9 0.7 -11.8 1 0 216 330.5zM198.1 333.4A2.1 0.8 -10.2 1 0 202.3 332.6A2.1 0.8 -10.2 1 0 198.1 333.4zM247.3 347.1A1.8 0.9 -15.6 1 0 250.8 346.1A1.8 0.9 -15.6 1 0 247.3 347.1zM211.7 326.3A1.4 0.7 -5.2 1 0 214.4 326.1A1.4 0.7 -5.2 1 0 211.7 326.3z"/>
<polygon points="302.5,432.3 330.5,398.9 399.8,398.9 371.8,432.3" fill="#000"/>
<g clip-path="url(#c26)"><path filter="url(#sb)" fill="#fff" shape-rendering="crispEdges" d="M379 413h2v1h-2zM317 420h1v1h-1zM319 430h3v1h-3zM370 420h1v1h-1zM333 418h3v1h-3zM303 432h3v1h-3zM355 423h3v1h-3zM309 431h2v1h-2zM379 414h3v1h-3zM373 412h2v1h-2zM363 405h3v1h-3zM357 408h2v1h-2zM346 405h1v1h-1zM328 419h1v1h-1zM375 423h2v1h-2zM374 401h3v1h-3zM344 398h2v1h-2zM351 405h3v1h-3zM355 401h3v1h-3zM312 432h1v1h-1zM377 410h2v1h-2zM393 404h1v1h-1zM327 425h3v1h-3zM332 419h2v1h-2zM366 405h3v1h-3zM327 400h2v1h-2zM382 411h3v1h-3zM334 414h2v1h-2zM358 409h3v1h-3zM323 415h2v1h-2zM324 431h2v1h-2zM328 430h1v1h-1zM340 421h2v1h-2zM348 415h2v1h-2zM365 429h2v1h-2zM382 415h2v1h-2zM361 420h1v1h-1zM318 429h1v1h-1zM362 422h1v1h-1zM347 418h2v1h-2zM347 422h3v1h-3zM371 408h2v1h-2zM331 425h3v1h-3zM388 401h3v1h-3zM360 404h1v1h-1zM376 400h2v1h-2zM335 406h2v1h-2zM335 431h2v1h-2zM370 430h1v1h-1zM367 426h3v1h-3zM329 403h2v1h-2zM337 430h3v1h-3zM330 410h2v1h-2zM344 422h2v1h-2zM372 429h3v1h-3zM320 412h2v1h-2zM355 426h3v1h-3zM339 402h3v1h-3zM389 408h2v1h-2zM329 420h3v1h-3zM353 410h1v1h-1zM312 431h1v1h-1zM343 406h2v1h-2zM377 409h2v1h-2zM339 420h1v1h-1zM376 413h1v1h-1zM360 426h2v1h-2zM328 411h1v1h-1zM341 433h2v1h-2zM364 430h1v1h-1zM334 406h2v1h-2zM335 432h2v1h-2zM347 408h3v1h-3zM306 426h3v1h-3zM352 406h2v1h-2zM371 409h1v1h-1zM373 424h2v1h-2zM322 420h2v1h-2zM343 422h1v1h-1zM369 409h1v1h-1zM357 405h1v1h-1zM371 412h1v1h-1zM353 424h2v1h-2zM382 414h3v1h-3zM359 398h2v1h-2zM348 410h1v1h-1zM359 420h2v1h-2zM375 411h3v1h-3zM372 401h1v1h-1zM313 433h2v1h-2zM351 433h3v1h-3zM361 424h3v1h-3zM346 408h2v1h-2zM341 403h2v1h-2zM394 405h2v1h-2zM353 414h1v1h-1zM351 427h1v1h-1zM369 411h1v1h-1zM384 398h1v1h-1zM327 418h2v1h-2zM393 407h1v1h-1zM371 430h2v1h-2zM323 419h2v1h-2zM327 409h3v1h-3zM360 430h1v1h-1zM381 409h1v1h-1zM381 416h1v1h-1zM328 404h1v1h-1zM368 418h1v1h-1zM372 416h1v1h-1zM309 430h2v1h-2zM346 412h1v1h-1zM389 406h3v1h-3zM354 404h2v1h-2zM360 426h1v1h-1zM361 403h1v1h-1zM370 417h1v1h-1zM332 429h3v1h-3zM341 432h3v1h-3zM360 399h3v1h-3zM317 416h3v1h-3zM371 400h1v1h-1zM341 424h3v1h-3zM388 413h3v1h-3zM369 427h1v1h-1zM356 409h1v1h-1zM391 402h2v1h-2zM347 419h3v1h-3zM368 407h1v1h-1zM333 432h3v1h-3zM365 404h3v1h-3zM318 418h2v1h-2zM355 429h3v1h-3zM360 400h2v1h-2zM366 412h2v1h-2zM347 425h2v1h-2zM372 430h2v1h-2zM363 414h2v1h-2zM345 431h3v1h-3zM347 426h3v1h-3zM356 423h1v1h-1zM353 399h1v1h-1zM348 422h2v1h-2zM357 413h1v1h-1zM350 421h1v1h-1zM382 399h2v1h-2zM357 425h3v1h-3zM346 427h2v1h-2zM327 411h1v1h-1zM360 425h1v1h-1zM319 424h2v1h-2zM317 417h3v1h-3zM380 403h1v1h-1zM375 412h3v1h-3zM328 399h3v1h-3zM342 412h2v1h-2zM336 417h3v1h-3zM370 412h1v1h-1zM377 409h2v1h-2zM334 411h3v1h-3zM314 429h1v1h-1zM312 418h3v1h-3zM333 405h3v1h-3zM358 412h2v1h-2zM358 421h1v1h-1zM322 423h1v1h-1zM308 427h2v1h-2zM309 422h3v1h-3zM363 401h2v1h-2zM372 420h1v1h-1zM357 424h3v1h-3zM334 417h3v1h-3zM363 428h1v1h-1zM348 421h1v1h-1zM318 411h3v1h-3zM321 411h1v1h-1zM358 423h2v1h-2zM356 400h3v1h-3zM368 399h3v1h-3zM371 402h3v1h-3zM340 411h1v1h-1zM362 406h2v1h-2zM369 418h1v1h-1zM359 406h2v1h-2zM350 432h1v1h-1zM315 423h3v1h-3zM325 426h2v1h-2zM371 398h3v1h-3zM345 399h2v1h-2zM348 432h1v1h-1zM345 401h3v1h-3zM364 429h2v1h-2zM311 425h3v1h-3zM331 404h1v1h-1zM331 405h1v1h-1zM370 418h1v1h-1zM336 430h1v1h-1zM321 412h3v1h-3zM355 419h3v1h-3zM351 414h1v1h-1zM365 421h1v1h-1zM365 431h3v1h-3zM344 428h1v1h-1zM356 424h3v1h-3zM332 419h1v1h-1zM333 406h1v1h-1zM314 421h2v1h-2zM336 408h2v1h-2zM332 399h2v1h-2zM365 409h3v1h-3zM378 413h2v1h-2zM381 409h3v1h-3zM343 414h2v1h-2zM340 405h3v1h-3zM361 404h3v1h-3zM368 404h3v1h-3zM374 419h3v1h-3zM390 400h1v1h-1zM368 426h2v1h-2zM333 409h1v1h-1zM392 405h1v1h-1zM347 419h2v1h-2zM334 421h3v1h-3zM352 426h3v1h-3zM336 426h3v1h-3zM327 424h2v1h-2zM330 408h3v1h-3zM386 400h3v1h-3zM383 405h1v1h-1zM384 417h2v1h-2zM378 398h1v1h-1zM368 414h1v1h-1zM352 423h2v1h-2zM379 408h1v1h-1zM343 430h3v1h-3zM391 408h1v1h-1zM334 431h3v1h-3zM368 400h1v1h-1zM383 416h2v1h-2zM354 432h3v1h-3zM333 416h2v1h-2zM366 401h1v1h-1zM341 399h2v1h-2zM327 430h1v1h-1zM386 403h2v1h-2zM388 406h3v1h-3zM327 408h2v1h-2zM354 418h3v1h-3zM317 433h3v1h-3zM326 410h3v1h-3z"/></g>
<polygon points="303.5,396 331.3,362.4 401.2,362.4 373.4,396" fill="#000"/>
<path clip-path="url(#c27)" fill="#fff" d="M330.2 392.9A1.8 1.1 -7.1 1 0 333.8 392.5A1.8 1.1 -7.1 1 0 330.2 392.9zM369 372.6A1.8 0.8 -24.6 1 0 372.3 371.1A1.8 0.8 -24.6 1 0 369 372.6zM375 373.7A1.6 0.7 -15.2 1 0 378 372.9A1.6 0.7 -15.2 1 0 375 373.7zM336.7 374.8A1.8 1 -17.7 1 0 340.1 373.7A1.8 1 -17.7 1 0 336.7 374.8zM334.6 373.8A1.2 0.8 -24.6 1 0 336.7 372.9A1.2 0.8 -24.6 1 0 334.6 373.8zM337.1 374.4A1.8 0.7 -23.3 1 0 340.5 372.9A1.8 0.7 -23.3 1 0 337.1 374.4zM364.1 376.9A2.3 1.1 -6.5 1 0 368.6 376.4A2.3 1.1 -6.5 1 0 364.1 376.9zM321.9 373.9A2.3 0.9 -21.6 1 0 326.2 372.2A2.3 0.9 -21.6 1 0 321.9 373.9zM324.7 372.3A1.5 0.7 -15.3 1 0 327.7 371.5A1.5 0.7 -15.3 1 0 324.7 372.3zM319.9 374.1A1.4 1 -10.1 1 0 322.6 373.6A1.4 1 -10.1 1 0 319.9 374.1zM349.6 392.8A2 1 -20.7 1 0 353.2 391.5A2 1 -20.7 1 0 349.6 392.8zM314.8 381.2A1.7 0.9 -21.3 1 0 317.9 380A1.7 0.9 -21.3 1 0 314.8 381.2zM318.3 381.3A1 0.5 -19.4 1 0 320.1 380.7A1 0.5 -19.4 1 0 318.3 381.3zM327.1 371.7A2.1 0.9 -24.9 1 0 330.9 370A2.1 0.9 -24.9 1 0 327.1 371.7zM344.2 366.9A1.7 0.9 -11.6 1 0 347.6 366.2A1.7 0.9 -11.6 1 0 344.2 366.9zM325.1 392.4A1.9 1.1 -19.8 1 0 328.6 391.1A1.9 1.1 -19.8 1 0 325.1 392.4zM342.7 387.7A1.6 1 -19.2 1 0 345.7 386.6A1.6 1 -19.2 1 0 342.7 387.7zM344.8 388.5A1.5 0.6 -23.7 1 0 347.4 387.3A1.5 0.6 -23.7 1 0 344.8 388.5zM375.3 388.1A2.1 0.7 -21.3 1 0 379.3 386.6A2.1 0.7 -21.3 1 0 375.3 388.1zM340.9 390A2.3 0.8 -12.2 1 0 345.5 389A2.3 0.8 -12.2 1 0 340.9 390zM333.8 383.8A2.5 1 -22.8 1 0 338.4 381.8A2.5 1 -22.8 1 0 333.8 383.8zM363.7 373.6A1.6 0.9 -5 1 0 366.9 373.3A1.6 0.9 -5 1 0 363.7 373.6zM315.6 396.4A1.9 0.9 -17.5 1 0 319.2 395.2A1.9 0.9 -17.5 1 0 315.6 396.4zM346.1 376.3A2.2 1 -5.8 1 0 350.6 375.9A2.2 1 -5.8 1 0 346.1 376.3zM344.7 377.1A0.8 1.1 -12.6 1 0 346.3 376.7A0.8 1.1 -12.6 1 0 344.7 377.1zM344 382A2.2 0.9 -20.9 1 0 348.1 380.4A2.2 0.9 -20.9 1 0 344 382zM343.3 382.1A1.6 0.8 -24.9 1 0 346.2 380.7A1.6 0.8 -24.9 1 0 343.3 382.1zM351.9 389A2.1 0.7 -6.8 1 0 356.1 388.5A2.1 0.7 -6.8 1 0 351.9 389zM332.8 378A1.7 1 -10.7 1 0 336.1 377.3A1.7 1 -10.7 1 0 332.8 378zM376.7 381.2A2 0.9 -12.8 1 0 380.5 380.4A2 0.9 -12.8 1 0 376.7 381.2zM379.4 381.4A1.4 0.6 -24.5 1 0 381.9 380.3A1.4 0.6 -24.5 1 0 379.4 381.4zM398.2 363.5A1.7 0.9 -11.9 1 0 401.5 362.8A1.7 0.9 -11.9 1 0 398.2 363.5zM331.7 369.4A2.1 1 -12.9 1 0 335.8 368.5A2.1 1 -12.9 1 0 331.7 369.4zM335.6 368.7A1.1 0.7 -11.5 1 0 337.8 368.3A1.1 0.7 -11.5 1 0 335.6 368.7zM330.1 368.7A1.4 0.6 -19.3 1 0 332.7 367.8A1.4 0.6 -19.3 1 0 330.1 368.7zM329.6 365.7A2.2 0.9 -15.9 1 0 333.7 364.5A2.2 0.9 -15.9 1 0 329.6 365.7zM326.2 395.1A2.1 0.7 -8.1 1 0 330.4 394.5A2.1 0.7 -8.1 1 0 326.2 395.1zM337 365.4A2.1 0.8 -20.1 1 0 341 364A2.1 0.8 -20.1 1 0 337 365.4zM329.6 390.3A1.6 0.9 -12.5 1 0 332.7 389.6A1.6 0.9 -12.5 1 0 329.6 390.3zM338.4 396.2A1.9 0.7 -13.1 1 0 342.1 395.4A1.9 0.7 -13.1 1 0 338.4 396.2zM348.2 364.4A1.7 0.8 -17.7 1 0 351.5 363.4A1.7 0.8 -17.7 1 0 348.2 364.4zM365.3 392.5A1.6 0.7 -24.8 1 0 368.1 391.2A1.6 0.7 -24.8 1 0 365.3 392.5zM384.1 364.5A2 1.1 -21.9 1 0 387.7 363.1A2 1.1 -21.9 1 0 384.1 364.5zM387.1 364.3A1 0.6 -22.6 1 0 389 363.5A1 0.6 -22.6 1 0 387.1 364.3zM362.9 365.6A2.4 0.8 -7.1 1 0 367.5 365A2.4 0.8 -7.1 1 0 362.9 365.6zM344.2 372.3A1.8 1 -12.1 1 0 347.8 371.6A1.8 1 -12.1 1 0 344.2 372.3zM335 363.2A2.3 0.8 -19 1 0 339.3 361.7A2.3 0.8 -19 1 0 335 363.2zM379.6 365.7A1.5 1.1 -21.4 1 0 382.4 364.6A1.5 1.1 -21.4 1 0 379.6 365.7zM366 386A2.4 0.9 -23.7 1 0 370.5 384.1A2.4 0.9 -23.7 1 0 366 386zM371.7 377.9A2.3 1 -13.2 1 0 376.2 376.9A2.3 1 -13.2 1 0 371.7 377.9zM384.5 378.3A2.2 1.1 -11.2 1 0 388.8 377.5A2.2 1.1 -11.2 1 0 384.5 378.3zM360.6 391.9A1.5 0.8 -18.3 1 0 363.5 391A1.5 0.8 -18.3 1 0 360.6 391.9zM358.7 391.2A0.9 0.6 -11.7 1 0 360.6 390.8A0.9 0.6 -11.7 1 0 358.7 391.2zM363.1 382.9A1.9 0.7 -23.7 1 0 366.5 381.4A1.9 0.7 -23.7 1 0 363.1 382.9zM366.2 364.2A2.1 1 -20 1 0 370.1 362.8A2.1 1 -20 1 0 366.2 364.2zM369.6 364.7A1 0.6 -11.6 1 0 371.6 364.3A1 0.6 -11.6 1 0 369.6 364.7zM366.5 362.9A1.2 1 -18 1 0 368.7 362.2A1.2 1 -18 1 0 366.5 362.9zM310.2 389.4A2 0.9 -8.8 1 0 314.1 388.8A2 0.9 -8.8 1 0 310.2 389.4zM370.1 382.4A2.3 1.1 -15.3 1 0 374.6 381.2A2.3 1.1 -15.3 1 0 370.1 382.4zM371.9 381.5A1.9 0.7 -10.2 1 0 375.5 380.9A1.9 0.7 -10.2 1 0 371.9 381.5zM329 373.4A2.2 1 -10.4 1 0 333.5 372.6A2.2 1 -10.4 1 0 329 373.4zM329.7 372.7A1.3 0.7 -14.8 1 0 332.3 372.1A1.3 0.7 -14.8 1 0 329.7 372.7zM316.3 392.2A2 0.7 -13.5 1 0 320.3 391.3A2 0.7 -13.5 1 0 316.3 392.2zM361.3 371.2A1.8 1 -22.5 1 0 364.7 369.8A1.8 1 -22.5 1 0 361.3 371.2zM392.1 371.6A2 1 -18.9 1 0 395.9 370.3A2 1 -18.9 1 0 392.1 371.6zM340.5 377.3A1.9 0.9 -6.7 1 0 344.4 376.8A1.9 0.9 -6.7 1 0 340.5 377.3zM355.9 366.3A2.2 0.8 -10.6 1 0 360.1 365.5A2.2 0.8 -10.6 1 0 355.9 366.3zM321.8 375.7A2.3 0.8 -6.1 1 0 326.4 375.2A2.3 0.8 -6.1 1 0 321.8 375.7zM311.6 387.1A2.3 0.9 -22.1 1 0 315.9 385.3A2.3 0.9 -22.1 1 0 311.6 387.1zM354.8 393.4A1.7 1 -16.5 1 0 358.2 392.5A1.7 1 -16.5 1 0 354.8 393.4zM389 373.3A1.9 0.9 -9 1 0 392.7 372.7A1.9 0.9 -9 1 0 389 373.3zM321.6 380A2.3 0.7 -20.5 1 0 326 378.4A2.3 0.7 -20.5 1 0 321.6 380zM329.2 384.9A1.7 1.1 -5.5 1 0 332.5 384.6A1.7 1.1 -5.5 1 0 329.2 384.9zM326.9 385.4A1.2 0.6 -17.8 1 0 329.2 384.6A1.2 0.6 -17.8 1 0 326.9 385.4zM380.9 370.3A1.7 1 -8.4 1 0 384.1 369.8A1.7 1 -8.4 1 0 380.9 370.3zM365.1 396.6A2.3 0.8 -17.1 1 0 369.5 395.3A2.3 0.8 -17.1 1 0 365.1 396.6zM361.3 380.4A2.4 1.1 -12.3 1 0 365.9 379.4A2.4 1.1 -12.3 1 0 361.3 380.4zM372.6 391.4A1.9 0.7 -22.1 1 0 376 390A1.9 0.7 -22.1 1 0 372.6 391.4zM350.1 382.4A2 0.7 -21.8 1 0 353.9 380.9A2 0.7 -21.8 1 0 350.1 382.4zM350.5 385.7A2.5 0.7 -17.1 1 0 355.2 384.2A2.5 0.7 -17.1 1 0 350.5 385.7zM378.6 383.9A1.6 1 -14.2 1 0 381.8 383.1A1.6 1 -14.2 1 0 378.6 383.9zM380.4 383.2A2 0.9 -17 1 0 384.1 382.1A2 0.9 -17 1 0 380.4 383.2zM391.4 365.5A2.4 0.8 -22.8 1 0 395.8 363.7A2.4 0.8 -22.8 1 0 391.4 365.5zM370.1 368.8A1.5 1.1 -9.8 1 0 373.1 368.3A1.5 1.1 -9.8 1 0 370.1 368.8zM369.5 369.4A1.9 0.5 -8.1 1 0 373.2 368.9A1.9 0.5 -8.1 1 0 369.5 369.4zM318.4 389.8A2.2 0.9 -24.4 1 0 322.5 388A2.2 0.9 -24.4 1 0 318.4 389.8zM353.5 380.7A2.1 0.8 -9.1 1 0 357.6 380A2.1 0.8 -9.1 1 0 353.5 380.7zM319.2 383.8A1.6 0.9 -21.4 1 0 322.3 382.6A1.6 0.9 -21.4 1 0 319.2 383.8zM379.3 386.1A2.1 0.8 -11.6 1 0 383.4 385.2A2.1 0.8 -11.6 1 0 379.3 386.1zM351.1 372.5A2.1 0.8 -24.6 1 0 355 370.7A2.1 0.8 -24.6 1 0 351.1 372.5z"/>
<polygon points="302.5,360 330.5,326.8 400.4,326.8 372.4,360" fill="#000"/>
<path clip-path="url(#c28)" fill="#fff" d="M368.8 335A1.8 0.8 -21.5 1 0 372.1 333.7A1.8 0.8 -21.5 1 0 368.8 335zM333 343A2.2 0.8 -15.6 1 0 337.2 341.8A2.2 0.8 -15.6 1 0 333 343zM347.1 358.6A2.4 0.8 -21.4 1 0 351.6 356.8A2.4 0.8 -21.4 1 0 347.1 358.6zM343.4 350.6A1.9 1 -7.6 1 0 347.1 350.1A1.9 1 -7.6 1 0 343.4 350.6zM361.4 355.9A1.6 0.9 -21.8 1 0 364.4 354.7A1.6 0.9 -21.8 1 0 361.4 355.9zM355.1 351.6A2.2 1.1 -11.7 1 0 359.5 350.7A2.2 1.1 -11.7 1 0 355.1 351.6zM364.4 352.5A1.9 0.9 -5.7 1 0 368.2 352.2A1.9 0.9 -5.7 1 0 364.4 352.5zM363.7 353A0.9 0.9 -21.9 1 0 365.4 352.3A0.9 0.9 -21.9 1 0 363.7 353zM318.2 342.7A2.7 1 -6.9 1 0 323.5 342A2.7 1 -6.9 1 0 318.2 342.7zM377.1 334.3A1.7 1.1 -24.5 1 0 380.2 332.8A1.7 1.1 -24.5 1 0 377.1 334.3zM332.8 355A1.9 1.2 -16.3 1 0 336.5 353.9A1.9 1.2 -16.3 1 0 332.8 355zM355.4 345A2.4 1 -18.5 1 0 360 343.5A2.4 1 -18.5 1 0 355.4 345zM357.8 341.7A2 0.9 -9.3 1 0 361.8 341.1A2 0.9 -9.3 1 0 357.8 341.7zM356.5 341.7A1.6 0.6 -5 1 0 359.8 341.4A1.6 0.6 -5 1 0 356.5 341.7zM358.8 342.3A2 0.8 -20.6 1 0 362.6 340.9A2 0.8 -20.6 1 0 358.8 342.3zM311.3 351.6A1.7 0.9 -9.8 1 0 314.8 351A1.7 0.9 -9.8 1 0 311.3 351.6zM378.8 339.3A2 0.9 -9.1 1 0 382.8 338.7A2 0.9 -9.1 1 0 378.8 339.3zM377.1 345.3A2.6 1.3 -14.9 1 0 382.1 344A2.6 1.3 -14.9 1 0 377.1 345.3zM372 328.1A2.6 0.8 -16 1 0 376.9 326.7A2.6 0.8 -16 1 0 372 328.1zM327.9 360.3A2.7 1 -20.2 1 0 333 358.4A2.7 1 -20.2 1 0 327.9 360.3zM320.4 350.2A2.2 1.3 -24 1 0 324.5 348.4A2.2 1.3 -24 1 0 320.4 350.2zM324.7 332.1A1.7 1 -8.4 1 0 328 331.6A1.7 1 -8.4 1 0 324.7 332.1zM395.8 328.3A2.1 1.1 -12.8 1 0 399.8 327.4A2.1 1.1 -12.8 1 0 395.8 328.3zM338.8 355.4A2.6 1.2 -16.8 1 0 343.8 353.9A2.6 1.2 -16.8 1 0 338.8 355.4zM371 344.9A1.8 1.2 -5.2 1 0 374.6 344.5A1.8 1.2 -5.2 1 0 371 344.9zM353.3 359.3A2.4 1.1 -11.7 1 0 358 358.3A2.4 1.1 -11.7 1 0 353.3 359.3zM330.5 332.3A2.3 1.2 -11.4 1 0 335.1 331.3A2.3 1.2 -11.4 1 0 330.5 332.3zM391.9 334.1A1.8 0.9 -8.6 1 0 395.5 333.6A1.8 0.9 -8.6 1 0 391.9 334.1zM321.3 346A2.7 1 -6.9 1 0 326.7 345.3A2.7 1 -6.9 1 0 321.3 346z"/>
<polygon points="302,323.7 330.5,290.9 399.6,290.9 371.1,323.7" fill="#000"/>
<path clip-path="url(#c29)" fill="#fff" d="M328.5 298A1.1 0.5 -9.4 1 0 330.6 297.7A1.1 0.5 -9.4 1 0 328.5 298zM378.3 295.1A1.2 0.5 -23.3 1 0 380.4 294.2A1.2 0.5 -23.3 1 0 378.3 295.1zM317.6 311.1A0.9 0.7 -17.8 1 0 319.3 310.6A0.9 0.7 -17.8 1 0 317.6 311.1zM371.8 319.8A1 0.7 -11.2 1 0 373.7 319.4A1 0.7 -11.2 1 0 371.8 319.8zM372.8 319.1A0.5 0.4 -17.5 1 0 373.8 318.8A0.5 0.4 -17.5 1 0 372.8 319.1zM339.9 318.7A0.9 0.5 -18.7 1 0 341.5 318.1A0.9 0.5 -18.7 1 0 339.9 318.7zM389.4 300.2A1.1 0.5 -7.9 1 0 391.6 299.9A1.1 0.5 -7.9 1 0 389.4 300.2zM389.4 300.6A0.4 0.5 -10.7 1 0 390.2 300.4A0.4 0.5 -10.7 1 0 389.4 300.6zM382 298.4A0.9 0.6 -11 1 0 383.7 298.1A0.9 0.6 -11 1 0 382 298.4zM357.4 305.7A0.6 0.5 -19.6 1 0 358.6 305.3A0.6 0.5 -19.6 1 0 357.4 305.7zM362.2 319.4A0.8 0.5 -17 1 0 363.7 318.9A0.8 0.5 -17 1 0 362.2 319.4zM363.4 319.2A0.7 0.6 -9.2 1 0 364.7 319A0.7 0.6 -9.2 1 0 363.4 319.2zM368.5 297.5A1.1 0.7 -19.1 1 0 370.6 296.8A1.1 0.7 -19.1 1 0 368.5 297.5z"/>
<polygon points="410,433.2 437.6,400.2 508,400.2 480.4,433.2" fill="#000"/>
<g clip-path="url(#c30)"><path filter="url(#sb)" fill="#fff" shape-rendering="crispEdges" d="M412 432h1v1h-1zM440 426h2v1h-2zM467 402h2v1h-2zM488 419h2v1h-2zM443 411h1v1h-1zM421 434h1v1h-1zM430 428h2v1h-2zM479 427h2v1h-2zM474 418h1v1h-1zM450 408h1v1h-1zM481 418h1v1h-1zM440 433h1v1h-1zM453 422h1v1h-1zM472 413h1v1h-1zM435 417h1v1h-1zM459 405h3v1h-3zM448 422h2v1h-2zM442 404h2v1h-2zM489 413h3v1h-3zM481 408h1v1h-1zM485 401h3v1h-3zM412 430h1v1h-1zM446 404h2v1h-2zM471 400h3v1h-3zM484 428h2v1h-2zM448 428h1v1h-1zM476 419h3v1h-3zM431 417h1v1h-1zM495 405h3v1h-3zM417 422h3v1h-3zM481 405h1v1h-1zM448 419h1v1h-1zM445 402h1v1h-1zM474 417h1v1h-1zM472 417h1v1h-1zM477 421h3v1h-3zM472 411h2v1h-2zM417 429h3v1h-3zM462 402h3v1h-3zM446 417h3v1h-3zM430 417h3v1h-3zM467 403h1v1h-1zM468 432h2v1h-2zM443 400h2v1h-2zM465 417h2v1h-2zM489 406h3v1h-3zM436 428h3v1h-3zM444 403h3v1h-3zM445 400h3v1h-3zM447 424h1v1h-1zM467 410h1v1h-1zM437 426h1v1h-1zM450 431h2v1h-2zM455 415h1v1h-1zM494 412h3v1h-3zM489 421h3v1h-3zM464 407h3v1h-3zM425 428h1v1h-1zM483 421h2v1h-2zM503 404h2v1h-2zM450 417h3v1h-3zM502 401h3v1h-3zM482 424h2v1h-2zM486 407h1v1h-1zM463 433h1v1h-1zM489 405h3v1h-3zM448 403h2v1h-2zM482 427h1v1h-1zM481 415h2v1h-2zM478 401h1v1h-1zM414 426h2v1h-2zM430 419h1v1h-1zM434 414h2v1h-2zM432 408h3v1h-3zM432 412h3v1h-3zM446 409h3v1h-3zM435 411h3v1h-3zM440 416h1v1h-1zM506 402h1v1h-1zM474 419h1v1h-1zM446 415h3v1h-3zM478 407h1v1h-1zM490 402h1v1h-1zM495 407h1v1h-1zM469 426h3v1h-3zM454 414h2v1h-2zM459 417h1v1h-1zM412 430h3v1h-3zM436 406h2v1h-2zM463 419h2v1h-2zM428 429h2v1h-2zM448 408h2v1h-2zM417 427h1v1h-1zM481 417h1v1h-1zM469 404h1v1h-1zM453 400h2v1h-2zM431 430h2v1h-2zM488 404h2v1h-2zM463 421h1v1h-1zM447 416h3v1h-3zM464 404h2v1h-2zM439 414h2v1h-2zM443 408h2v1h-2zM469 406h2v1h-2zM492 404h1v1h-1zM461 404h2v1h-2zM471 409h1v1h-1zM466 427h1v1h-1zM455 430h3v1h-3zM455 430h3v1h-3zM498 405h2v1h-2zM432 433h1v1h-1zM454 433h1v1h-1zM438 416h2v1h-2zM424 433h1v1h-1zM492 414h2v1h-2zM490 400h2v1h-2zM429 416h3v1h-3zM471 401h1v1h-1zM465 424h1v1h-1zM492 411h2v1h-2zM427 434h3v1h-3zM425 426h1v1h-1zM438 423h2v1h-2zM440 410h3v1h-3zM494 403h2v1h-2zM442 431h3v1h-3zM485 403h3v1h-3zM438 427h3v1h-3zM442 428h3v1h-3zM486 403h2v1h-2zM488 404h2v1h-2zM486 415h3v1h-3zM441 412h2v1h-2zM485 407h2v1h-2zM432 423h1v1h-1zM435 405h2v1h-2zM439 430h3v1h-3zM486 416h1v1h-1zM476 405h2v1h-2zM444 403h2v1h-2zM449 406h2v1h-2zM451 432h3v1h-3zM427 416h3v1h-3zM448 419h3v1h-3zM455 423h3v1h-3zM487 401h2v1h-2zM492 402h3v1h-3zM425 419h2v1h-2zM484 405h1v1h-1zM447 400h2v1h-2zM442 424h3v1h-3zM475 402h3v1h-3zM459 415h1v1h-1zM430 426h2v1h-2zM454 408h1v1h-1zM459 413h1v1h-1zM434 419h2v1h-2zM480 401h1v1h-1zM420 420h1v1h-1zM416 434h2v1h-2zM432 423h1v1h-1zM471 423h3v1h-3zM487 405h3v1h-3zM419 434h1v1h-1zM435 419h2v1h-2zM447 417h3v1h-3zM435 402h3v1h-3zM437 409h1v1h-1zM483 417h3v1h-3zM473 401h1v1h-1zM483 409h2v1h-2zM457 418h1v1h-1zM473 413h3v1h-3zM487 425h2v1h-2zM413 428h2v1h-2zM469 430h3v1h-3zM410 433h3v1h-3zM486 422h3v1h-3zM456 433h3v1h-3zM422 432h3v1h-3zM414 425h3v1h-3zM419 422h3v1h-3zM437 416h1v1h-1zM465 408h1v1h-1zM412 429h1v1h-1zM446 420h1v1h-1zM440 419h2v1h-2zM478 413h3v1h-3zM420 428h2v1h-2zM467 430h1v1h-1zM484 421h3v1h-3zM431 407h3v1h-3zM439 402h3v1h-3zM502 401h2v1h-2zM460 401h2v1h-2zM476 411h2v1h-2zM427 418h2v1h-2zM448 414h2v1h-2zM492 400h2v1h-2zM436 400h3v1h-3zM480 431h2v1h-2zM480 404h1v1h-1zM492 402h1v1h-1zM495 416h2v1h-2zM436 423h3v1h-3zM488 407h1v1h-1zM429 424h2v1h-2zM443 404h2v1h-2zM468 410h3v1h-3zM424 420h2v1h-2zM454 418h2v1h-2zM439 406h3v1h-3zM454 403h3v1h-3zM497 409h1v1h-1zM450 406h3v1h-3zM455 433h3v1h-3zM470 428h2v1h-2zM478 416h1v1h-1zM463 413h1v1h-1zM413 432h1v1h-1zM446 431h1v1h-1zM424 431h3v1h-3zM461 424h1v1h-1zM472 414h3v1h-3zM488 421h2v1h-2zM408 433h2v1h-2zM421 431h3v1h-3zM440 415h1v1h-1zM421 421h2v1h-2zM432 429h2v1h-2zM447 408h3v1h-3zM446 422h2v1h-2zM429 420h1v1h-1zM445 430h2v1h-2z"/></g>
<polygon points="410.6,396 437.6,362.9 508,362.9 481,396" fill="#000"/>
<path clip-path="url(#c31)" fill="#fff" d="M460.6 385.1A2.1 1.3 -24.1 1 0 464.4 383.4A2.1 1.3 -24.1 1 0 460.6 385.1zM418.5 387.9A2 1.5 -10.7 1 0 422.5 387.2A2 1.5 -10.7 1 0 418.5 387.9zM409.8 396A2.1 1.3 -17.3 1 0 413.8 394.7A2.1 1.3 -17.3 1 0 409.8 396zM457 372A2.3 1.5 -12.2 1 0 461.6 371A2.3 1.5 -12.2 1 0 457 372zM483.4 383.1A2.5 1.1 -12.8 1 0 488.2 382A2.5 1.1 -12.8 1 0 483.4 383.1zM500.2 367.9A1.9 1.2 -17.1 1 0 503.8 366.8A1.9 1.2 -17.1 1 0 500.2 367.9zM465.1 378.5A2.4 1.1 -14.3 1 0 469.9 377.3A2.4 1.1 -14.3 1 0 465.1 378.5zM434.4 377.6A1.9 1.1 -13.4 1 0 438 376.8A1.9 1.1 -13.4 1 0 434.4 377.6zM464 373A2.2 1 -7.6 1 0 468.3 372.5A2.2 1 -7.6 1 0 464 373zM433.6 388.5A2.5 1.4 -17.7 1 0 438.3 387A2.5 1.4 -17.7 1 0 433.6 388.5zM463 387.9A2 1.3 -6.6 1 0 467 387.4A2 1.3 -6.6 1 0 463 387.9zM457.2 369.9A2.5 1.4 -23.5 1 0 461.8 367.9A2.5 1.4 -23.5 1 0 457.2 369.9zM457.3 367.8A1.7 1.2 -7.1 1 0 460.6 367.4A1.7 1.2 -7.1 1 0 457.3 367.8zM433 393.7A1.8 1 -19.1 1 0 436.3 392.5A1.8 1 -19.1 1 0 433 393.7zM419.5 395A2.5 1.2 -7.8 1 0 424.3 394.3A2.5 1.2 -7.8 1 0 419.5 395zM422.1 393.9A1.2 0.9 -15.5 1 0 424.5 393.2A1.2 0.9 -15.5 1 0 422.1 393.9zM483 373.8A1.8 1.3 -16.7 1 0 486.5 372.8A1.8 1.3 -16.7 1 0 483 373.8zM485.2 373.4A1.4 1 -20.7 1 0 487.9 372.4A1.4 1 -20.7 1 0 485.2 373.4zM484.7 373.6A1 1.3 -8.5 1 0 486.7 373.3A1 1.3 -8.5 1 0 484.7 373.6zM456.1 383.5A1.8 1.3 -18.8 1 0 459.5 382.3A1.8 1.3 -18.8 1 0 456.1 383.5zM483.3 367.1A2.4 1 -8.9 1 0 488.1 366.3A2.4 1 -8.9 1 0 483.3 367.1zM466.5 370A2.7 1.1 -6 1 0 471.8 369.4A2.7 1.1 -6 1 0 466.5 370zM466.2 371.5A2.2 0.7 -16.7 1 0 470.5 370.2A2.2 0.7 -16.7 1 0 466.2 371.5zM470.2 371.4A2.3 0.7 -13.6 1 0 474.7 370.3A2.3 0.7 -13.6 1 0 470.2 371.4zM460.2 395.7A2 1.2 -11.2 1 0 464.1 394.9A2 1.2 -11.2 1 0 460.2 395.7zM475.5 375A1.8 1.5 -21.2 1 0 478.8 373.6A1.8 1.5 -21.2 1 0 475.5 375zM478.7 374.7A1.2 1.1 -11.8 1 0 481.1 374.2A1.2 1.1 -11.8 1 0 478.7 374.7zM443.4 386.1A2 1.3 -6.3 1 0 447.3 385.6A2 1.3 -6.3 1 0 443.4 386.1zM445.4 386.4A1.6 1.2 -8.6 1 0 448.5 386A1.6 1.2 -8.6 1 0 445.4 386.4zM463.5 365.9A2.3 1.2 -20.5 1 0 467.7 364.4A2.3 1.2 -20.5 1 0 463.5 365.9zM467.8 366.7A1.1 0.9 -9.4 1 0 470 366.4A1.1 0.9 -9.4 1 0 467.8 366.7zM481.6 386A2.5 1.3 -19 1 0 486.3 384.4A2.5 1.3 -19 1 0 481.6 386zM439.9 395.7A1.8 1.3 -16 1 0 443.3 394.7A1.8 1.3 -16 1 0 439.9 395.7zM431.1 381.9A2.3 1.2 -25 1 0 435.3 379.9A2.3 1.2 -25 1 0 431.1 381.9zM428.9 371.6A2.5 1.5 -9.5 1 0 433.9 370.8A2.5 1.5 -9.5 1 0 428.9 371.6zM469.5 374.1A2 1.3 -8.8 1 0 473.4 373.5A2 1.3 -8.8 1 0 469.5 374.1zM471.7 375A1.3 0.7 -25 1 0 474.1 373.9A1.3 0.7 -25 1 0 471.7 375zM426 383.8A2.2 1.3 -6.6 1 0 430.4 383.3A2.2 1.3 -6.6 1 0 426 383.8zM473 393.8A2.1 1.4 -17.5 1 0 477 392.5A2.1 1.4 -17.5 1 0 473 393.8zM440.3 364.3A2 1.1 -18.4 1 0 444.2 363A2 1.1 -18.4 1 0 440.3 364.3zM457.9 365.2A2.5 1.2 -7.1 1 0 463 364.6A2.5 1.2 -7.1 1 0 457.9 365.2zM444.9 368.3A2.2 1.4 -15.3 1 0 449 367.2A2.2 1.4 -15.3 1 0 444.9 368.3zM451.6 371.2A2.6 1.2 -8.4 1 0 456.7 370.5A2.6 1.2 -8.4 1 0 451.6 371.2zM416.4 392.5A2.5 1.1 -21.7 1 0 421 390.6A2.5 1.1 -21.7 1 0 416.4 392.5zM417.2 390.7A1.2 0.8 -7.1 1 0 419.5 390.4A1.2 0.8 -7.1 1 0 417.2 390.7zM419.3 391.5A1.4 1 -15.4 1 0 422.1 390.7A1.4 1 -15.4 1 0 419.3 391.5zM432.3 384.7A2.6 1.2 -11.8 1 0 437.3 383.7A2.6 1.2 -11.8 1 0 432.3 384.7zM485.4 371.5A2.4 1.3 -14.2 1 0 490 370.4A2.4 1.3 -14.2 1 0 485.4 371.5zM449.2 382.7A2.5 1.2 -17.2 1 0 453.9 381.3A2.5 1.2 -17.2 1 0 449.2 382.7zM450.3 383.3A1.5 1 -16.2 1 0 453.3 382.4A1.5 1 -16.2 1 0 450.3 383.3zM445.1 390.1A2.4 1.3 -18.3 1 0 449.7 388.6A2.4 1.3 -18.3 1 0 445.1 390.1zM463.4 381.8A2.6 1.3 -9.8 1 0 468.4 380.9A2.6 1.3 -9.8 1 0 463.4 381.8zM465.8 382.2A1.9 1 -18.5 1 0 469.4 381A1.9 1 -18.5 1 0 465.8 382.2zM464 380.7A2.2 1 -8.6 1 0 468.3 380.1A2.2 1 -8.6 1 0 464 380.7zM441.5 379.9A2.1 1.1 -24.2 1 0 445.3 378.2A2.1 1.1 -24.2 1 0 441.5 379.9zM427.7 377.4A2.1 1.1 -8.7 1 0 431.9 376.8A2.1 1.1 -8.7 1 0 427.7 377.4zM480.4 380.1A2.1 1 -15.5 1 0 484.3 379A2.1 1 -15.5 1 0 480.4 380.1zM446.8 372.3A2.6 1.4 -21.2 1 0 451.6 370.4A2.6 1.4 -21.2 1 0 446.8 372.3zM442.1 372.2A2.2 1.4 -6.6 1 0 446.5 371.7A2.2 1.4 -6.6 1 0 442.1 372.2zM441.2 371.4A1.2 0.9 -24.4 1 0 443.5 370.4A1.2 0.9 -24.4 1 0 441.2 371.4zM444.1 372.5A1.9 0.8 -8.7 1 0 447.8 371.9A1.9 0.8 -8.7 1 0 444.1 372.5zM458.5 378.7A2 1.2 -23.9 1 0 462.2 377.1A2 1.2 -23.9 1 0 458.5 378.7zM446 394.5A2.3 1.2 -7.9 1 0 450.6 393.9A2.3 1.2 -7.9 1 0 446 394.5zM451.9 366.4A2.2 1.1 -5.2 1 0 456.4 366A2.2 1.1 -5.2 1 0 451.9 366.4zM455.2 365.1A1 0.7 -14.2 1 0 457 364.6A1 0.7 -14.2 1 0 455.2 365.1zM438 383.6A2 1.3 -17 1 0 441.8 382.4A2 1.3 -17 1 0 438 383.6zM472.8 387.5A2.6 1.2 -20.7 1 0 477.6 385.7A2.6 1.2 -20.7 1 0 472.8 387.5zM473.4 364.1A2.6 1.5 -21 1 0 478.3 362.2A2.6 1.5 -21 1 0 473.4 364.1zM439.6 390.6A1.9 1 -12.9 1 0 443.3 389.7A1.9 1 -12.9 1 0 439.6 390.6zM501.9 363.7A2.2 1.1 -8.7 1 0 506.3 363.1A2.2 1.1 -8.7 1 0 501.9 363.7zM470.5 366.7A2.7 1.4 -18.1 1 0 475.7 365A2.7 1.4 -18.1 1 0 470.5 366.7zM475.7 390.4A2.3 1.4 -14 1 0 480.2 389.3A2.3 1.4 -14 1 0 475.7 390.4zM479.7 390.6A1.4 1.3 -19.9 1 0 482.4 389.6A1.4 1.3 -19.9 1 0 479.7 390.6zM449.1 377.4A1.9 1.4 -14.7 1 0 452.8 376.4A1.9 1.4 -14.7 1 0 449.1 377.4z"/>
<polygon points="409.6,359 437.6,326.4 508,326.4 480,359" fill="#000"/>
<path clip-path="url(#c32)" fill="#fff" d="M457.7 358.5A2.7 1.3 -5.3 1 0 463 358A2.7 1.3 -5.3 1 0 457.7 358.5zM491.2 334.7A2.6 1.1 -9.1 1 0 496.4 333.9A2.6 1.1 -9.1 1 0 491.2 334.7zM417.7 350.1A1.8 1.3 -17.3 1 0 421.1 349A1.8 1.3 -17.3 1 0 417.7 350.1zM495.5 329.5A1.9 1 -17.2 1 0 499.1 328.4A1.9 1 -17.2 1 0 495.5 329.5zM453 345.3A2.6 1.4 -18.2 1 0 458 343.6A2.6 1.4 -18.2 1 0 453 345.3zM464.8 353.1A2.1 1.1 -16.6 1 0 468.9 351.9A2.1 1.1 -16.6 1 0 464.8 353.1zM437.6 345.4A1.8 1.2 -8.7 1 0 441.1 344.9A1.8 1.2 -8.7 1 0 437.6 345.4zM446.6 348A2.7 1.3 -17.9 1 0 451.6 346.3A2.7 1.3 -17.9 1 0 446.6 348zM486.6 337.1A2.1 1.2 -24.5 1 0 490.4 335.4A2.1 1.2 -24.5 1 0 486.6 337.1zM453.3 337.9A2 1.1 -7.5 1 0 457.3 337.4A2 1.1 -7.5 1 0 453.3 337.9zM419.5 355.2A2.1 1.2 -8.6 1 0 423.7 354.6A2.1 1.2 -8.6 1 0 419.5 355.2zM455.4 331.6A2.6 1.4 -8.2 1 0 460.6 330.8A2.6 1.4 -8.2 1 0 455.4 331.6zM447.4 332.8A2.2 1.1 -7 1 0 451.8 332.2A2.2 1.1 -7 1 0 447.4 332.8zM453.9 355.3A1.8 1.3 -23.1 1 0 457.2 353.9A1.8 1.3 -23.1 1 0 453.9 355.3zM431 348.6A2.6 1.1 -5.2 1 0 436.3 348.2A2.6 1.1 -5.2 1 0 431 348.6zM465.2 336.3A1.8 1 -21.2 1 0 468.6 335A1.8 1 -21.2 1 0 465.2 336.3zM482 342.9A2.4 1.4 -7.5 1 0 486.7 342.3A2.4 1.4 -7.5 1 0 482 342.9zM444.1 340.6A2.1 1.3 -15.8 1 0 448.2 339.4A2.1 1.3 -15.8 1 0 444.1 340.6zM412.9 356.8A2.1 1.3 -19.4 1 0 416.9 355.4A2.1 1.3 -19.4 1 0 412.9 356.8zM472.5 357.5A1.8 1.2 -9.5 1 0 476.1 356.9A1.8 1.2 -9.5 1 0 472.5 357.5zM437.4 340.8A2.2 1 -8.3 1 0 441.9 340.2A2.2 1 -8.3 1 0 437.4 340.8zM474.9 352.3A2 1.3 -19.1 1 0 478.7 351A2 1.3 -19.1 1 0 474.9 352.3z"/>
<polygon points="410,323.4 438.3,289.9 508.6,289.9 480.3,323.4" fill="#000"/>
<path clip-path="url(#c33)" fill="#fff" d="M449.4 306.4A0.8 0.6 -6.1 1 0 451 306.3A0.8 0.6 -6.1 1 0 449.4 306.4zM475.2 309.1A0.8 0.7 -10.4 1 0 476.7 308.9A0.8 0.7 -10.4 1 0 475.2 309.1zM422.8 320.3A0.8 0.6 -15.2 1 0 424.3 319.9A0.8 0.6 -15.2 1 0 422.8 320.3z"/>
<rect x="24.6" y="497.6" width="11.6" height="11.4" fill="url(#pf)" stroke="#000" stroke-width="1.5"/>
<rect x="120.7" y="496.7" width="11.6" height="11.8" fill="url(#ph)" stroke="#000" stroke-width="1.5"/>
<rect x="261.9" y="496.8" width="13.3" height="12.7" fill="#000"/>
<rect x="380.8" y="496.7" width="12.4" height="12" fill="url(#pb)" stroke="#000" stroke-width="1.5"/>
<path d="M73.2 535.6V727" stroke="#000" stroke-width="1.8" fill="none"/>
<path d="M63 727H321" stroke="#000" stroke-width="1.8" fill="none"/>
<path d="M64.8 663.6L74 663.6" stroke="#000" stroke-width="1.8" fill="none"/>
<path d="M64.8 599.8L74 599.8" stroke="#000" stroke-width="1.8" fill="none"/>
<path d="M64.8 536.5L74 536.5" stroke="#000" stroke-width="1.8" fill="none"/>
<path d="M362.6 535.6V727" stroke="#000" stroke-width="1.8" fill="none"/>
<path d="M355 727H499" stroke="#000" stroke-width="1.8" fill="none"/>
<path d="M355.2 663.4L363.4 663.4" stroke="#000" stroke-width="1.8" fill="none"/>
<path d="M355.2 599.8L363.4 599.8" stroke="#000" stroke-width="1.8" fill="none"/>
<path d="M355.2 536.5L363.4 536.5" stroke="#000" stroke-width="1.8" fill="none"/>
<rect x="84.6" y="686.5" width="15.8" height="40.5" fill="url(#pf)" stroke="#000" stroke-width="1.6"/>
<path d="M92.5 686.5V681.2M88.5 681.2H96.5" stroke="#000" stroke-width="1.6" fill="none"/>
<rect x="100.4" y="693" width="15.8" height="34" fill="url(#ph)" stroke="#000" stroke-width="1.6"/>
<path d="M108.3 693V689.8M104.3 689.8H112.3" stroke="#000" stroke-width="1.6" fill="none"/>
<rect x="116.2" y="699" width="15" height="28" fill="#000" stroke="#000" stroke-width="1.6"/>
<path d="M123.7 699V695.6M119.7 695.6H127.7" stroke="#000" stroke-width="1.6" fill="none"/>
<rect x="131.2" y="702" width="15" height="25" fill="url(#pb)" stroke="#000" stroke-width="1.6"/>
<path d="M138.7 702V698.5M134.7 698.5H142.7" stroke="#000" stroke-width="1.6" fill="none"/>
<rect x="168.1" y="648.3" width="16.7" height="78.7" fill="url(#pf)" stroke="#000" stroke-width="1.6"/>
<path d="M176.45 648.3V633.2M172.45 633.2H180.45" stroke="#000" stroke-width="1.6" fill="none"/>
<rect x="184.8" y="678" width="14.9" height="49" fill="url(#ph)" stroke="#000" stroke-width="1.6"/>
<path d="M192.25 678V672.9M188.25 672.9H196.25" stroke="#000" stroke-width="1.6" fill="none"/>
<rect x="199.7" y="689.6" width="15.7" height="37.4" fill="#000" stroke="#000" stroke-width="1.6"/>
<path d="M207.55 689.6V685.5M203.55 685.5H211.55" stroke="#000" stroke-width="1.6" fill="none"/>
<rect x="215.4" y="692.7" width="15.5" height="34.3" fill="url(#pb)" stroke="#000" stroke-width="1.6"/>
<path d="M223.15 692.7V689.2M219.15 689.2H227.15" stroke="#000" stroke-width="1.6" fill="none"/>
<rect x="252.4" y="605.6" width="15.4" height="121.4" fill="url(#pf)" stroke="#000" stroke-width="1.6"/>
<path d="M260.1 605.6V581.4M256.1 581.4H264.1" stroke="#000" stroke-width="1.6" fill="none"/>
<rect x="267.8" y="669.3" width="15.7" height="57.7" fill="url(#ph)" stroke="#000" stroke-width="1.6"/>
<path d="M275.65 669.3V663.7M271.65 663.7H279.65" stroke="#000" stroke-width="1.6" fill="none"/>
<rect x="283.5" y="693.5" width="15" height="33.5" fill="#000" stroke="#000" stroke-width="1.6"/>
<path d="M291 693.5V684.8M287 684.8H295" stroke="#000" stroke-width="1.6" fill="none"/>
<rect x="298.5" y="702.3" width="14.7" height="24.7" fill="url(#pb)" stroke="#000" stroke-width="1.6"/>
<path d="M305.85 702.3V700.2M301.85 700.2H309.85" stroke="#000" stroke-width="1.6" fill="none"/>
<rect x="373.8" y="700.8" width="16.2" height="26.2" fill="url(#pf)" stroke="#000" stroke-width="1.6"/>
<path d="M381.9 700.8V689.8M377.9 689.8H385.9" stroke="#000" stroke-width="1.6" fill="none"/>
<rect x="390" y="708.5" width="16" height="18.5" fill="url(#ph)" stroke="#000" stroke-width="1.6"/>
<path d="M398 708.5V704.6M394 704.6H402" stroke="#000" stroke-width="1.6" fill="none"/>
<rect x="406" y="706.2" width="17.3" height="20.8" fill="#000" stroke="#000" stroke-width="1.6"/>
<path d="M414.65 706.2V703.8M410.65 703.8H418.65" stroke="#000" stroke-width="1.6" fill="none"/>
<rect x="444" y="606.6" width="16.6" height="120.4" fill="url(#pf)" stroke="#000" stroke-width="1.6"/>
<path d="M452.3 606.6V568.9M448.3 568.9H456.3" stroke="#000" stroke-width="1.6" fill="none"/>
<rect x="460.6" y="710.3" width="16" height="16.7" fill="url(#ph)" stroke="#000" stroke-width="1.6"/>
<path d="M468.6 710.3V702.7M464.6 702.7H472.6" stroke="#000" stroke-width="1.6" fill="none"/>
<rect x="476.6" y="715.4" width="15.8" height="11.6" fill="#000" stroke="#000" stroke-width="1.6"/>
<path d="M484.5 715.4V710.8M480.5 710.8H488.5" stroke="#000" stroke-width="1.6" fill="none"/>
<text transform="translate(1.1 22.7) scale(1.0600 1.0265)" font-size="30" font-weight="bold">A</text>
<text transform="translate(386.94 23.96) scale(1.0325 0.9739)" font-size="23.5">1500/300 s</text>
<text transform="translate(507.56 16.7) scale(0.8898 1.0857)" font-size="15">-1</text>
<text transform="translate(15.23 48.55) scale(1.0961 0.9846)" font-size="18">40</text>
<text transform="translate(14.18 84.75) scale(1.0919 1.0077)" font-size="18">32</text>
<text transform="translate(15.16 121.25) scale(1.1147 0.9804)" font-size="18">24</text>
<text transform="translate(15.05 157.94) scale(1.0833 1.0353)" font-size="18">16</text>
<text transform="translate(25.69 194.16) scale(1.0824 0.9769)" font-size="18">8</text>
<text transform="translate(25.99 230.85) scale(1.0222 1.0077)" font-size="18">0</text>
<text transform="translate(26.33 254.16) scale(0.9805 0.9970)" font-size="22">&#181;m</text>
<text transform="translate(78.42 53.75) scale(1.0370 1.0187)" font-size="21.5" font-weight="bold">Control</text>
<text transform="translate(327.58 55.36) scale(1.0455 0.9548)" font-size="21" font-weight="bold">Anti-GP Ib<tspan font-weight="normal">&#945;</tspan></text>
<text transform="translate(87.65 247.35) scale(1.1276 1.0618)" font-size="15" font-weight="bold">100 <tspan font-weight="normal">&#181;</tspan>m</text>
<text transform="translate(79.97 275.44) scale(1.0642 1.0127)" font-size="21" font-weight="bold">Anti-<tspan font-weight="normal">&#945;</tspan><tspan font-size="13.0" dy="2.5">IIb</tspan><tspan font-weight="normal" dy="-2.5">&#946;</tspan><tspan font-size="13.0" dy="2.5">3</tspan></text>
<text transform="translate(308.17 275.35) scale(1.0684 1.0329)" font-size="21" font-weight="bold">Anti-GP Ib<tspan font-weight="normal">&#945;+&#945;</tspan><tspan font-size="13" dy="2.5">IIb</tspan><tspan font-weight="normal" dy="-2.5">&#946;</tspan><tspan font-size="13" dy="2.5">3</tspan></text>
<text transform="translate(15.37 331.3) scale(1.1040 0.9882)" font-size="18">24</text>
<text transform="translate(16.58 366.25) scale(1.0556 0.9961)" font-size="18">16</text>
<text transform="translate(26.66 401.77) scale(1.1176 0.9231)" font-size="18">8</text>
<text transform="translate(26.97 438.51) scale(1.0556 0.9615)" font-size="18">0</text>
<text transform="translate(26.33 459.38) scale(0.9805 0.9313)" font-size="22">&#181;m</text>
<text transform="translate(86.25 460) scale(1.1207 0.9836)" font-size="22">A</text>
<text transform="translate(201.63 458) scale(1.2128 0.9344)" font-size="22">B</text>
<text transform="translate(331.25 459.5) scale(1.0862 1.0820)" font-size="22">A</text>
<text transform="translate(440.93 459.3) scale(1.1830 1.1016)" font-size="22">B</text>
<text transform="translate(0.29 491.25) scale(1.1385 1.0417)" font-size="26" font-weight="bold">B</text>
<text transform="translate(39.77 509.24) scale(1.0285 1.0462)" font-size="22">Control</text>
<text transform="translate(137 509.16) scale(1.0177 0.9723)" font-size="22">Anti-GP Ib&#945;</text>
<text transform="translate(277.4 509.19) scale(1.0171 1.0120)" font-size="22">Anti-&#945;<tspan font-size="13.6" dy="3.1">IIb</tspan><tspan dy="-3.1">&#946;</tspan><tspan font-size="15.0" dy="3.1">3</tspan></text>
<text transform="translate(398.6 502.67) scale(1.0071 0.9231)" font-size="22">Anti-GP Ib&#945;</text>
<text transform="translate(398.58 520.9) scale(1.0249 0.9060)" font-size="22">+ Anti-&#945;<tspan font-size="13.6" dy="3.1">IIb</tspan><tspan dy="-3.1">&#946;</tspan><tspan font-size="15.0" dy="3.1">3</tspan></text>
<text transform="translate(182.45 778.27) scale(1.0198 0.9467)" font-size="24" font-weight="bold">Time (seconds)</text>
<text transform="translate(47.86 543.75) scale(1.1176 0.9961)" font-size="18">6</text>
<text transform="translate(48.13 606.3) scale(1.0811 1.0240)" font-size="18">4</text>
<text transform="translate(47.52 670.6) scale(1.1765 1.0039)" font-size="18">2</text>
<text transform="translate(47.84 734.16) scale(1.1111 0.9538)" font-size="18">0</text>
<text transform="translate(75.28 556.25) scale(1.0771 1.0033)" font-size="20.5">1500/300 s</text>
<text transform="translate(184.65 550.3) scale(0.8957 1.0667)" font-size="14">-1</text>
<text transform="translate(328.48 544.6) scale(1.0556 1.0431)" font-size="18">12</text>
<text transform="translate(339.02 605.55) scale(1.0353 0.9846)" font-size="18">8</text>
<text transform="translate(339.35 669.8) scale(0.9946 1.0240)" font-size="18">4</text>
<text transform="translate(339.09 733.78) scale(1.0222 0.8846)" font-size="18">0</text>
<text transform="translate(363.99 551.95) scale(1.0727 1.0164)" font-size="20.5">1500/1500 s</text>
<text transform="translate(485.37 546.5) scale(0.8696 1.0256)" font-size="14">-1</text>
<text transform="translate(95.84 751.05) scale(1.1072 1.0105)" font-size="20">100</text>
<text transform="translate(181.13 751.45) scale(1.0954 0.9965)" font-size="20">420</text>
<text transform="translate(263.39 751.34) scale(1.0813 1.0246)" font-size="20">840</text>
<text transform="translate(380.44 751.06) scale(1.0432 0.9404)" font-size="20">100</text>
<text transform="translate(450.63 752.15) scale(1.0646 0.9895)" font-size="20">420</text>
<text transform="translate(34.86 743.75) rotate(-90) scale(1.0105 0.9787)" font-size="25" font-weight="bold">Volume (<tspan font-weight="normal">&#181;</tspan>m<tspan font-size="13" font-weight="normal" dy="-8.7">3</tspan><tspan dy="8.7"> x 10</tspan><tspan font-size="13" font-weight="normal" dy="-8.7">5)</tspan></text>
</svg></body></html>
